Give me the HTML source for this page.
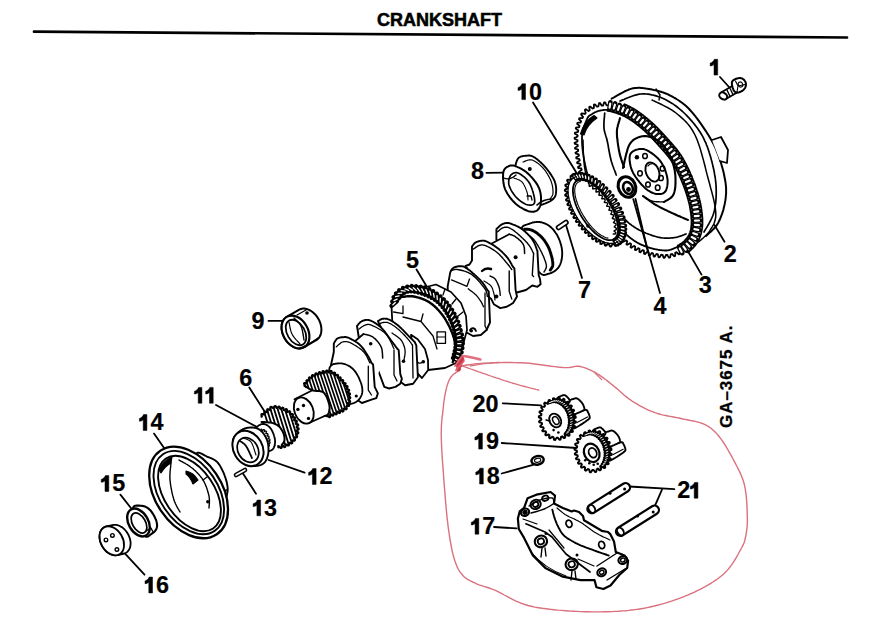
<!DOCTYPE html>
<html><head><meta charset="utf-8"><style>
html,body{margin:0;padding:0;background:#fff;}
svg{display:block;}
text{font-family:"Liberation Sans",sans-serif;font-weight:bold;fill:#000;}
</style></head><body>
<svg width="875" height="624" viewBox="0 0 875 624">
<rect width="875" height="624" fill="#fff"/>
<text x="377" y="26" font-size="18" stroke="#000" stroke-width="0.55">CRANKSHAFT</text>
<line x1="34" y1="31.7" x2="847" y2="37.5" stroke="#000" stroke-width="2.7" stroke-linecap="round"/>
<path d="M714,75.1 L717.7,75.1 L717.7,59.3 L714.3,59.3 C713.7,61.5 711.5,62.8 710.2,63.1 L710.2,65.9 C711.8,65.9 713.2,65.3 714,64.4 Z" fill="#000" stroke="#000" stroke-width="0.5" stroke-linejoin="round"/>
<path d="M521.8,99.6 L525.5,99.6 L525.5,83.8 L522.1,83.8 C521.5,86 519.3,87.3 518,87.6 L518,90.4 C519.6,90.4 521,89.8 521.8,88.9 Z" fill="#000" stroke="#000" stroke-width="0.5" stroke-linejoin="round"/>
<text x="529" y="99.6" font-size="23.4" stroke="#000" stroke-width="0.2">0</text>
<text x="471" y="179.4" font-size="23.4" stroke="#000" stroke-width="0.2">8</text>
<text x="723.7" y="261.6" font-size="23.4" stroke="#000" stroke-width="0.2">2</text>
<text x="698.7" y="293" font-size="23.4" stroke="#000" stroke-width="0.2">3</text>
<text x="653.5" y="314.2" font-size="23.4" stroke="#000" stroke-width="0.2">4</text>
<text x="406" y="268" font-size="23.4" stroke="#000" stroke-width="0.2">5</text>
<text x="577.9" y="298" font-size="23.4" stroke="#000" stroke-width="0.2">7</text>
<text x="251.4" y="328.6" font-size="23.4" stroke="#000" stroke-width="0.2">9</text>
<text x="239.3" y="385.6" font-size="23.4" stroke="#000" stroke-width="0.2">6</text>
<path d="M198.2,403.2 L201.9,403.2 L201.9,387.4 L198.5,387.4 C197.9,389.6 195.7,390.9 194.4,391.2 L194.4,394 C196,394 197.4,393.4 198.2,392.5 Z" fill="#000" stroke="#000" stroke-width="0.5" stroke-linejoin="round"/>
<path d="M209.5,403.2 L213.2,403.2 L213.2,387.4 L209.8,387.4 C209.2,389.6 207,390.9 205.7,391.2 L205.7,394 C207.3,394 208.7,393.4 209.5,392.5 Z" fill="#000" stroke="#000" stroke-width="0.5" stroke-linejoin="round"/>
<path d="M312.4,484.4 L316.1,484.4 L316.1,468.6 L312.7,468.6 C312.1,470.8 309.9,472.1 308.6,472.4 L308.6,475.2 C310.2,475.2 311.6,474.6 312.4,473.7 Z" fill="#000" stroke="#000" stroke-width="0.5" stroke-linejoin="round"/>
<text x="319.6" y="484.4" font-size="23.4" stroke="#000" stroke-width="0.2">2</text>
<path d="M256.9,515.8 L260.6,515.8 L260.6,500 L257.2,500 C256.6,502.2 254.4,503.5 253.1,503.8 L253.1,506.6 C254.7,506.6 256.1,506 256.9,505.1 Z" fill="#000" stroke="#000" stroke-width="0.5" stroke-linejoin="round"/>
<text x="264.1" y="515.8" font-size="23.4" stroke="#000" stroke-width="0.2">3</text>
<path d="M143.2,430.4 L146.9,430.4 L146.9,414.6 L143.5,414.6 C142.9,416.8 140.7,418.1 139.4,418.4 L139.4,421.2 C141,421.2 142.4,420.6 143.2,419.7 Z" fill="#000" stroke="#000" stroke-width="0.5" stroke-linejoin="round"/>
<text x="150.4" y="430.4" font-size="23.4" stroke="#000" stroke-width="0.2">4</text>
<path d="M105,491.4 L108.8,491.4 L108.8,475.6 L105.4,475.6 C104.7,477.8 102.5,479.1 101.2,479.4 L101.2,482.2 C102.8,482.2 104.3,481.6 105,480.7 Z" fill="#000" stroke="#000" stroke-width="0.5" stroke-linejoin="round"/>
<text x="112.2" y="491.4" font-size="23.4" stroke="#000" stroke-width="0.2">5</text>
<path d="M148.8,592.9 L152.5,592.9 L152.5,577.1 L149.1,577.1 C148.5,579.3 146.3,580.6 145,580.9 L145,583.7 C146.6,583.7 148,583.1 148.8,582.2 Z" fill="#000" stroke="#000" stroke-width="0.5" stroke-linejoin="round"/>
<text x="156" y="592.9" font-size="23.4" stroke="#000" stroke-width="0.2">6</text>
<text x="472.6" y="411.6" font-size="23.4" stroke="#000" stroke-width="0.2">2</text>
<text x="485.5" y="411.6" font-size="23.4" stroke="#000" stroke-width="0.2">0</text>
<path d="M478.7,449.1 L482.4,449.1 L482.4,433.3 L479,433.3 C478.4,435.5 476.2,436.8 474.9,437.1 L474.9,439.9 C476.5,439.9 477.9,439.3 478.7,438.4 Z" fill="#000" stroke="#000" stroke-width="0.5" stroke-linejoin="round"/>
<text x="485.9" y="449.1" font-size="23.4" stroke="#000" stroke-width="0.2">9</text>
<path d="M479.6,484 L483.3,484 L483.3,468.2 L479.9,468.2 C479.3,470.4 477.1,471.7 475.8,472 L475.8,474.8 C477.4,474.8 478.8,474.2 479.6,473.3 Z" fill="#000" stroke="#000" stroke-width="0.5" stroke-linejoin="round"/>
<text x="486.8" y="484" font-size="23.4" stroke="#000" stroke-width="0.2">8</text>
<path d="M475.1,534.2 L478.8,534.2 L478.8,518.4 L475.4,518.4 C474.8,520.6 472.6,521.9 471.3,522.2 L471.3,525 C472.9,525 474.3,524.4 475.1,523.5 Z" fill="#000" stroke="#000" stroke-width="0.5" stroke-linejoin="round"/>
<text x="482.3" y="534.2" font-size="23.4" stroke="#000" stroke-width="0.2">7</text>
<text x="677.2" y="498.2" font-size="23.4" stroke="#000" stroke-width="0.2">2</text>
<path d="M694.2,498.2 L697.9,498.2 L697.9,482.4 L694.5,482.4 C693.9,484.6 691.7,485.9 690.4,486.2 L690.4,489 C692,489 693.4,488.4 694.2,487.5 Z" fill="#000" stroke="#000" stroke-width="0.5" stroke-linejoin="round"/>
<text x="0" y="0" font-size="17" stroke="#000" stroke-width="0.3" transform="translate(731.7 428) rotate(-90)" letter-spacing="0.95">GA–3675 A.</text>
<line x1="720" y1="77" x2="729" y2="87" stroke="#000" stroke-width="1.8" stroke-linecap="round"/>
<line x1="533" y1="102.5" x2="576" y2="172" stroke="#000" stroke-width="1.8" stroke-linecap="round"/>
<line x1="486.4" y1="172.8" x2="505" y2="172.6" stroke="#000" stroke-width="1.8" stroke-linecap="round"/>
<line x1="714.4" y1="224.9" x2="724.5" y2="241.7" stroke="#000" stroke-width="1.8" stroke-linecap="round"/>
<line x1="687.4" y1="250.3" x2="701.5" y2="274.6" stroke="#000" stroke-width="1.8" stroke-linecap="round"/>
<line x1="633.3" y1="199.2" x2="660" y2="293" stroke="#000" stroke-width="1.8" stroke-linecap="round"/>
<line x1="635.5" y1="199" x2="648" y2="252" stroke="#000" stroke-width="1.8" stroke-linecap="round"/>
<line x1="416.5" y1="269.5" x2="427.6" y2="288" stroke="#000" stroke-width="1.8" stroke-linecap="round"/>
<line x1="566" y1="225" x2="582" y2="278" stroke="#000" stroke-width="1.8" stroke-linecap="round"/>
<line x1="268.5" y1="320.9" x2="283" y2="320.9" stroke="#000" stroke-width="1.8" stroke-linecap="round"/>
<line x1="249.3" y1="387.5" x2="266.5" y2="414.5" stroke="#000" stroke-width="1.8" stroke-linecap="round"/>
<line x1="216" y1="405" x2="257" y2="427" stroke="#000" stroke-width="1.8" stroke-linecap="round"/>
<line x1="268.6" y1="460" x2="304.6" y2="472.6" stroke="#000" stroke-width="1.8" stroke-linecap="round"/>
<line x1="241.7" y1="471.4" x2="256" y2="493.7" stroke="#000" stroke-width="1.8" stroke-linecap="round"/>
<line x1="154" y1="433.6" x2="165.3" y2="449.7" stroke="#000" stroke-width="1.8" stroke-linecap="round"/>
<line x1="120.4" y1="494.6" x2="131.7" y2="509" stroke="#000" stroke-width="1.8" stroke-linecap="round"/>
<line x1="125.3" y1="553.8" x2="144.5" y2="574.7" stroke="#000" stroke-width="1.8" stroke-linecap="round"/>
<line x1="502.7" y1="403.3" x2="541" y2="405.4" stroke="#000" stroke-width="1.8" stroke-linecap="round"/>
<line x1="501.7" y1="443" x2="576.7" y2="448" stroke="#000" stroke-width="1.8" stroke-linecap="round"/>
<line x1="501.7" y1="473.5" x2="533" y2="464.8" stroke="#000" stroke-width="1.8" stroke-linecap="round"/>
<line x1="494" y1="527" x2="516.6" y2="528.4" stroke="#000" stroke-width="1.8" stroke-linecap="round"/>
<line x1="674.3" y1="489.2" x2="629" y2="486.5" stroke="#000" stroke-width="1.8" stroke-linecap="round"/>
<line x1="662" y1="489.7" x2="655" y2="505.7" stroke="#000" stroke-width="1.8" stroke-linecap="round"/>
<path d="M611.6 98.7 L612.6 98.2 L613.8 97.5 L615.3 96.6 L616.9 95.7 L618.7 94.7 L620.5 93.6 L622.5 92.6 L624.4 91.5 L626.4 90.6 L628.3 89.8 L630.1 89.1 L631.8 88.6 L633.4 88.3 L635 88 L636.6 87.9 L638.1 87.8 L639.7 87.8 L641.2 87.9 L642.7 88.1 L644.3 88.2 L645.8 88.5 L647.4 88.7 L649 89 L650.6 89.3 L652.2 89.6 L653.9 90 L655.6 90.3 L657.3 90.8 L659 91.2 L660.7 91.7 L662.4 92.3 L664.1 92.8 L665.8 93.5 L667.5 94.2 L669.1 95 L670.8 95.8 L672.4 96.7 L674 97.6 L675.7 98.5 L677.2 99.5 L678.8 100.5 L680.4 101.6 L682 102.7 L683.6 104 L685.2 105.3 L686.8 106.8 L688.4 108.3 L690 110 L691.7 111.9 L693.4 113.9 L695.2 116.1 L697 118.4 L698.8 120.9 L700.6 123.3 L702.3 125.9 L704 128.4 L705.7 130.8 L707.2 133.2 L708.7 135.5 L710 137.7 L711.2 139.7 L712.3 141.7 L713.3 143.6 L714.2 145.4 L715.1 147.2 L715.9 149 L716.6 150.8 L717.3 152.6 L718 154.4 L718.7 156.2 L719.3 158.1 L720 160 L720.7 162 L721.3 164.1 L721.9 166.2 L722.5 168.3 L723.1 170.5 L723.6 172.6 L724.1 174.8 L724.5 176.9 L724.9 179 L725.3 181.1 L725.6 183.1 L725.8 185 L726 186.8 L726.1 188.6 L726.1 190.4 L726.1 192.1 L726.1 193.7 L725.9 195.4 L725.8 197 L725.6 198.6 L725.4 200.2 L725.1 201.8 L724.8 203.4 L724.5 205 L724.1 206.6 L723.7 208.3 L723.3 210 L722.8 211.7 L722.2 213.3 L721.6 215 L721 216.6 L720.4 218.2 L719.7 219.8 L719 221.2 L718.3 222.7 L717.5 224 L716.7 225.3 L715.7 226.5 L714.7 227.8 L713.6 229 L712.4 230.1 L711.3 231.2 L710.2 232.2 L709.1 233.1 L708.2 234 L707.3 234.8 L706.6 235.4 L706 236" fill="none" stroke="#000" stroke-width="2" stroke-linejoin="round" stroke-linecap="round" />
<path d="M620 101 L621 100.6 L622.3 100.1 L623.8 99.5 L625.4 98.8 L627.3 98 L629.2 97.2 L631.2 96.5 L633.2 95.8 L635.3 95.1 L637.3 94.6 L639.2 94.2 L641 94 L642.8 93.9 L644.5 93.9 L646.3 94 L648 94.2 L649.8 94.4 L651.6 94.8 L653.3 95.1 L655.1 95.6 L656.8 96.1 L658.6 96.7 L660.3 97.3 L662 98 L663.7 98.7 L665.4 99.6 L667.1 100.4 L668.8 101.4 L670.5 102.4 L672.2 103.4 L673.9 104.6 L675.5 105.7 L677.2 107 L678.8 108.3 L680.4 109.6 L682 111 L683.6 112.5 L685.2 114 L686.8 115.6 L688.4 117.3 L690 119.1 L691.6 120.9 L693.2 122.7 L694.7 124.6 L696.1 126.4 L697.5 128.3 L698.8 130.2 L700 132 L701.1 133.8 L702.2 135.6 L703.2 137.4 L704.1 139.3 L704.9 141.1 L705.8 142.9 L706.5 144.8 L707.3 146.7 L708 148.7 L708.7 150.7 L709.3 152.8 L710 155 L710.7 157.3 L711.3 159.6 L712 162.1 L712.6 164.6 L713.2 167.2 L713.8 169.8 L714.3 172.4 L714.7 175 L715.2 177.5 L715.5 180.1 L715.8 182.6 L716 185 L716.1 187.4 L716.2 189.8 L716.2 192.1 L716.2 194.5 L716.1 196.8 L716 199.1 L715.8 201.4 L715.6 203.6 L715.2 205.8 L714.9 207.9 L714.5 210 L714 212 L713.4 214 L712.7 216 L711.8 218 L710.9 219.9 L709.9 221.8 L708.9 223.7 L707.9 225.4 L706.9 227.1 L706 228.6 L705.2 229.9 L704.5 231.1 L704 232" fill="none" stroke="#000" stroke-width="1.7" stroke-linejoin="round" stroke-linecap="round" />
<path d="M652 100 L653.2 100.6 L654.7 101.3 L656.4 102.1 L658.4 103 L660.6 104 L662.8 105.1 L665.1 106.3 L667.5 107.5 L669.8 108.8 L672 110.2 L674.1 111.6 L676 113 L677.8 114.5 L679.5 115.9 L681.2 117.4 L682.9 118.9 L684.6 120.5 L686.2 122.1 L687.8 123.9 L689.3 125.8 L690.8 127.8 L692.2 130 L693.6 132.4 L695 135 L696.3 137.9 L697.6 141 L698.8 144.5 L700 148.1 L701.1 151.8 L702.2 155.7 L703.3 159.6 L704.3 163.5 L705.3 167.3 L706.2 171.1 L707.1 174.6 L708 178 L708.9 181.3 L709.8 184.5 L710.6 187.7 L711.5 190.9 L712.3 194 L713.1 197.1 L713.8 200.1 L714.4 202.9 L714.9 205.7 L715.3 208.3 L715.6 210.7 L715.8 213 L715.8 215.1 L715.7 217 L715.4 218.7 L715.1 220.3 L714.6 221.8 L714.1 223.2 L713.5 224.5 L712.9 225.7 L712.2 226.9 L711.5 228 L710.7 229.2 L710 230.4 L709.2 231.6 L708.3 232.8 L707.3 234 L706.2 235.1 L705 236.2 L703.9 237.3 L702.8 238.3 L701.7 239.2 L700.7 240.1 L699.8 240.8 L699.1 241.5 L698.5 242" fill="none" stroke="#000" stroke-width="1.5" stroke-linejoin="round" stroke-linecap="round" />
<path d="M712 140 L721 137 L728 150 L727 163 L720 161" fill="#fff" stroke="#000" stroke-width="1.8" stroke-linejoin="round" stroke-linecap="round" />
<path d="M656 89 L660 95 L659 100" fill="none" stroke="#000" stroke-width="1.4" stroke-linejoin="round" stroke-linecap="round" />
<path d="M680.3 250.5 L680 250.6 L679.8 250.7 L679.6 250.8 L679.6 251.5 L679.7 252.1 L679.7 252.7 L679.7 253.3 L679.7 254 L679.5 254.1 L679.3 254.2 L679 254.3 L678.8 254.4 L678.3 254 L677.9 253.5 L677.4 253.1 L677 252.6 L676.5 252.2 L676.3 252.3 L676.1 252.4 L675.9 252.5 L675.7 252.6 L675.4 252.7 L675.2 252.8 L675.2 253.4 L675.2 254 L675.2 254.6 L675.2 255.3 L675.2 255.9 L675 256 L674.7 256.1 L674.5 256.2 L674.2 256.3 L673.8 255.8 L673.3 255.4 L672.9 254.9 L672.5 254.4 L672.1 254 L671.9 254 L671.6 254.1 L671.4 254.2 L671.2 254.3 L670.9 254.3 L670.7 254.4 L670.6 255 L670.5 255.6 L670.4 256.3 L670.2 256.9 L670 257.5 L669.8 257.6 L669.5 257.6 L669.3 257.6 L669 257.7 L668.6 257.1 L668.3 256.6 L668 256.1 L667.7 255.5 L667.4 254.9 L667.1 255 L666.9 255 L666.7 255 L666.4 255 L666.2 255 L665.9 255 L665.7 255.6 L665.5 256.2 L665.2 256.7 L664.9 257.3 L664.6 257.9 L664.4 257.9 L664.1 257.9 L663.8 257.8 L663.6 257.8 L663.4 257.2 L663.2 256.6 L663 256 L662.8 255.4 L662.6 254.9 L662.4 254.8 L662.1 254.8 L661.9 254.8 L661.6 254.8 L661.4 254.7 L661.2 254.7 L660.9 255.3 L660.6 255.8 L660.2 256.3 L659.9 256.9 L659.6 257.4 L659.3 257.4 L659.1 257.4 L658.9 257.3 L658.6 257.3 L658.4 256.7 L658.3 256.1 L658.1 255.5 L658 254.9 L657.8 254.2 L657.6 254.2 L657.4 254.2 L657.1 254.1 L656.9 254.1 L656.6 254 L656.4 254 L656.1 254.5 L655.7 255.1 L655.4 255.6 L655 256.1 L654.7 256.6 L654.4 256.6 L654.2 256.5 L653.9 256.5 L653.7 256.4 L653.6 255.8 L653.5 255.2 L653.3 254.6 L653.2 254 L653.1 253.3 L652.9 253.3 L652.6 253.2 L652.4 253.2 L652.2 253.1 L651.9 253.1 L651.7 253 L651.3 253.5 L651 254 L650.6 254.5 L650.2 255 L649.8 255.5 L649.6 255.5 L649.3 255.4 L649.1 255.3 L648.8 255.3 L648.8 254.6 L648.7 254 L648.6 253.4 L648.5 252.8 L648.5 252.1 L648.2 252.1 L648 252 L647.8 251.9 L647.5 251.9 L647.3 251.8 L647.1 251.7 L646.7 252.2 L646.3 252.7 L645.8 253.1 L645.4 253.6 L645 254.1 L644.8 254 L644.5 253.9 L644.3 253.8 L644 253.7 L644 253.1 L644 252.5 L644 251.8 L643.9 251.2 L643.9 250.6 L643.7 250.5 L643.5 250.4 L643.2 250.3 L643 250.2 L642.8 250.2 L642.6 250.1 L642.1 250.5 L641.7 251 L641.3 251.4 L640.8 251.9 L640.4 252.3 L640.1 252.2 L639.9 252.1 L639.7 252 L639.4 251.9 L639.4 251.3 L639.4 250.6 L639.4 250 L639.5 249.4 L639.5 248.8 L639.3 248.7 L639 248.6 L638.8 248.5 L638.6 248.4 L638.4 248.2 L638.2 248.1 L637.7 248.6 L637.2 249 L636.8 249.4 L636.3 249.8 L635.8 250.2 L635.6 250.1 L635.3 250 L635.1 249.8 L634.9 249.7 L634.9 249.1 L635 248.5 L635.1 247.8 L635.1 247.2 L635.2 246.6 L635 246.5 L634.8 246.3 L634.6 246.2 L634.4 246.1 L634.2 246 L634 245.9 L633.5 246.2 L632.9 246.6 L632.4 247 L631.9 247.3 L631.4 247.7 L631.2 247.5 L631 247.4 L630.7 247.3 L630.5 247.1 L630.7 246.5 L630.8 245.9 L630.9 245.3 L631 244.7 L631.1 244 L630.9 243.9 L630.7 243.8 L630.5 243.6 L630.3 243.5 L630.1 243.4 L629.9 243.2 L629.4 243.6 L628.9 243.9 L628.3 244.2 L627.8 244.5 L627.2 244.8 L627 244.7 L626.9 244.6 L626.7 244.4 L626.4 244.2 L626.6 243.6 L626.8 243 L626.9 242.4 L627.1 241.8 L627.3 241.2 L627.1 241.1 L626.9 240.9 L626.7 240.8 L626.5 240.6 L626.3 240.5 L626.1 240.3 L625.6 240.6 L625 240.9 L624.5 241.2 L623.9 241.5 L623.3 241.7 L623.2 241.6 L623 241.4 L622.8 241.3 L622.6 241.1 L622.8 240.5 L623 239.9 L623.2 239.3 L623.4 238.7 L623.6 238.1 L623.4 238 L623.2 237.8 L623 237.6 L622.9 237.5 L622.7 237.3 L622.5 237.2 L621.9 237.4 L621.4 237.7 L620.8 238 L620.2 238.2 L619.6 238.5 L619.5 238.3 L619.3 238.2 L619.1 238 L618.9 237.8 L619.2 237.2 L619.4 236.6 L619.6 236.1 L619.8 235.5 L620 234.9 L619.9 234.7 L619.7 234.5 L619.5 234.4 L619.3 234.2 L619.2 234.1 L619 233.9 L618.4 234.1 L617.8 234.4 L617.3 234.6 L616.7 234.9 L616.1 235.1 L615.9 235 L615.8 234.8 L615.6 234.6 L615.4 234.4 L615.6 233.9 L615.9 233.3 L616.1 232.7 L616.4 232.1 L616.6 231.5 L616.4 231.4 L616.3 231.2 L616.1 231 L615.9 230.8 L615.7 230.7 L615.6 230.5 L615 230.7 L614.4 231 L613.8 231.2 L613.2 231.4 L612.7 231.7 L612.5 231.5 L612.3 231.3 L612.2 231.1 L612 231 L612.2 230.4 L612.5 229.8 L612.7 229.2 L613 228.7 L613.2 228.1 L613.1 227.9 L612.9 227.7 L612.7 227.6 L612.6 227.4 L612.4 227.2 L612.3 227 L611.7 227.3 L611.1 227.5 L610.5 227.7 L609.9 227.9 L609.3 228.1 L609.1 228 L609 227.8 L608.8 227.6 L608.6 227.4 L608.9 226.8 L609.2 226.3 L609.4 225.7 L609.7 225.1 L610 224.6 L609.8 224.4 L609.7 224.2 L609.5 224 L609.3 223.9 L609.2 223.7 L609 223.5 L608.4 223.7 L607.8 223.9 L607.2 224.1 L606.6 224.3 L606 224.5 L605.9 224.3 L605.7 224.1 L605.6 224 L605.4 223.8 L605.7 223.2 L606 222.6 L606.2 222.1 L606.5 221.5 L606.8 221 L606.7 220.8 L606.5 220.6 L606.3 220.4 L606.2 220.2 L606 220 L605.9 219.9 L605.3 220 L604.7 220.2 L604.1 220.4 L603.5 220.6 L602.9 220.8 L602.7 220.6 L602.6 220.4 L602.4 220.2 L602.3 220 L602.6 219.5 L602.9 218.9 L603.1 218.4 L603.4 217.8 L603.7 217.3 L603.6 217.1 L603.4 216.9 L603.3 216.7 L603.1 216.5 L603 216.3 L602.8 216.2 L602.2 216.3 L601.6 216.5 L601 216.7 L600.4 216.9 L599.8 217 L599.7 216.9 L599.5 216.7 L599.3 216.5 L599.2 216.3 L599.5 215.7 L599.8 215.2 L600.1 214.6 L600.4 214.1 L600.7 213.5 L600.6 213.3 L600.4 213.1 L600.3 213 L600.1 212.8 L600 212.6 L599.8 212.4 L599.2 212.5 L598.6 212.7 L598 212.9 L597.4 213 L596.8 213.2 L596.7 213 L596.5 212.8 L596.4 212.6 L596.2 212.4 L596.5 211.8 L596.9 211.3 L597.2 210.7 L597.5 210.2 L597.9 209.7 L597.7 209.5 L597.6 209.3 L597.4 209.1 L597.3 208.9 L597.2 208.7 L597 208.5 L596.4 208.6 L595.8 208.7 L595.2 208.9 L594.6 209 L593.9 209.1 L593.8 208.9 L593.7 208.7 L593.5 208.5 L593.4 208.3 L593.7 207.7 L594.1 207.2 L594.5 206.7 L594.8 206.2 L595.2 205.7 L595.1 205.5 L594.9 205.3 L594.8 205.1 L594.7 204.9 L594.6 204.7 L594.4 204.5 L593.8 204.5 L593.2 204.6 L592.6 204.7 L591.9 204.8 L591.3 204.9 L591.2 204.7 L591.1 204.4 L591 204.2 L590.8 204 L591.2 203.5 L591.6 203 L592 202.5 L592.4 202 L592.8 201.5 L592.7 201.3 L592.6 201.1 L592.4 200.9 L592.3 200.7 L592.2 200.5 L592.1 200.3 L591.5 200.3 L590.9 200.4 L590.2 200.4 L589.6 200.4 L589 200.4 L588.9 200.2 L588.8 200 L588.7 199.8 L588.5 199.6 L589 199.1 L589.4 198.6 L589.8 198.1 L590.2 197.7 L590.6 197.2 L590.5 197 L590.4 196.8 L590.3 196.6 L590.2 196.4 L590.2 196.1 L590.1 195.9 L589.4 195.9 L588.8 195.9 L588.2 195.9 L587.5 196 L586.9 196 L586.8 195.7 L586.7 195.5 L586.6 195.2 L586.5 195 L587 194.6 L587.4 194.1 L587.9 193.7 L588.3 193.3 L588.8 192.8 L588.7 192.6 L588.6 192.4 L588.5 192.1 L588.4 191.9 L588.3 191.7 L588.2 191.5 L587.6 191.5 L587 191.4 L586.3 191.4 L585.7 191.4 L585.1 191.4 L585 191.1 L584.9 190.9 L584.8 190.7 L584.8 190.5 L585.2 190 L585.7 189.6 L586.1 189.2 L586.6 188.7 L587.1 188.3 L587 188.1 L586.9 187.9 L586.8 187.6 L586.7 187.4 L586.7 187.2 L586.6 187 L586 186.9 L585.3 186.9 L584.7 186.8 L584.1 186.8 L583.5 186.8 L583.4 186.5 L583.3 186.3 L583.2 186 L583.1 185.8 L583.6 185.4 L584.1 185 L584.6 184.6 L585.1 184.2 L585.5 183.8 L585.5 183.5 L585.4 183.3 L585.3 183.1 L585.2 182.9 L585.2 182.6 L585.1 182.4 L584.5 182.3 L583.8 182.3 L583.2 182.2 L582.6 182.2 L582 182.1 L581.9 181.9 L581.8 181.6 L581.8 181.4 L581.7 181.2 L582.2 180.8 L582.7 180.4 L583.1 180 L583.6 179.6 L584.1 179.2 L584.1 178.9 L584 178.7 L583.9 178.5 L583.9 178.3 L583.8 178 L583.7 177.8 L583.1 177.7 L582.5 177.7 L581.9 177.6 L581.2 177.5 L580.6 177.4 L580.5 177.2 L580.5 176.9 L580.4 176.7 L580.4 176.5 L580.8 176.1 L581.3 175.7 L581.8 175.3 L582.3 174.9 L582.8 174.6 L582.8 174.3 L582.7 174.1 L582.7 173.9 L582.6 173.6 L582.5 173.4 L582.5 173.2 L581.9 173.1 L581.2 173 L580.6 172.9 L580 172.8 L579.4 172.7 L579.3 172.5 L579.3 172.2 L579.2 172 L579.1 171.8 L579.6 171.4 L580.1 171 L580.7 170.6 L581.2 170.3 L581.7 169.9 L581.6 169.7 L581.6 169.4 L581.5 169.2 L581.4 169 L581.4 168.7 L581.3 168.5 L580.7 168.4 L580.1 168.3 L579.5 168.2 L578.9 168.1 L578.2 168 L578.2 167.7 L578.1 167.5 L578.1 167.2 L578 167 L578.5 166.6 L579.1 166.3 L579.6 165.9 L580.1 165.6 L580.6 165.2 L580.6 165 L580.5 164.7 L580.5 164.5 L580.4 164.3 L580.4 164 L580.3 163.8 L579.7 163.7 L579.1 163.6 L578.5 163.4 L577.9 163.3 L577.2 163.2 L577.2 162.9 L577.2 162.7 L577.1 162.5 L577.1 162.2 L577.6 161.9 L578.1 161.5 L578.6 161.2 L579.2 160.8 L579.7 160.5 L579.6 160.3 L579.6 160 L579.6 159.8 L579.5 159.6 L579.5 159.3 L579.4 159.1 L578.8 158.9 L578.2 158.8 L577.6 158.7 L577 158.5 L576.4 158.4 L576.3 158.1 L576.3 157.9 L576.3 157.7 L576.2 157.4 L576.8 157.1 L577.3 156.7 L577.8 156.4 L578.4 156.1 L578.9 155.8 L578.9 155.5 L578.8 155.3 L578.8 155.1 L578.8 154.8 L578.7 154.6 L578.7 154.3 L578.1 154.2 L577.5 154 L576.9 153.9 L576.3 153.7 L575.6 153.5 L575.6 153.3 L575.6 153 L575.6 152.8 L575.5 152.6 L576.1 152.3 L576.6 151.9 L577.2 151.6 L577.7 151.3 L578.2 151 L578.2 150.8 L578.2 150.5 L578.2 150.3 L578.1 150.1 L578.1 149.8 L578.1 149.6 L577.5 149.4 L576.9 149.2 L576.3 149 L575.7 148.8 L575.1 148.7 L575 148.4 L575 148.2 L575 148 L575 147.7 L575.5 147.4 L576.1 147.1 L576.6 146.8 L577.2 146.5 L577.8 146.2 L577.7 146 L577.7 145.7 L577.7 145.5 L577.7 145.3 L577.7 145 L577.7 144.8 L577.1 144.6 L576.5 144.4 L575.9 144.2 L575.3 144 L574.7 143.7 L574.7 143.5 L574.7 143.2 L574.7 143 L574.6 142.8 L575.2 142.5 L575.8 142.2 L576.3 142 L576.9 141.7 L577.5 141.4 L577.5 141.2 L577.5 141 L577.5 140.7 L577.5 140.5 L577.5 140.2 L577.5 140 L576.9 139.8 L576.3 139.5 L575.7 139.3 L575.1 139 L574.6 138.8 L574.6 138.5 L574.6 138.2 L574.6 138 L574.6 137.8 L575.2 137.5 L575.8 137.3 L576.3 137.1 L576.9 136.8 L577.5 136.6 L577.5 136.4 L577.6 136.2 L577.6 135.9 L577.6 135.7 L577.6 135.4 L577.6 135.2 L577.1 134.9 L576.5 134.6 L576 134.3 L575.4 134 L574.9 133.7 L574.9 133.4 L574.9 133.1 L575 132.9 L575 132.7 L575.6 132.5 L576.2 132.3 L576.8 132.2 L577.4 132 L578.1 131.9 L578.1 131.6 L578.1 131.4 L578.2 131.2 L578.2 130.9 L578.3 130.7 L578.3 130.4 L577.8 130.1 L577.3 129.7 L576.8 129.4 L576.3 129 L575.8 128.6 L575.8 128.4 L575.9 128.1 L575.9 127.9 L576 127.7 L576.6 127.5 L577.2 127.4 L577.9 127.3 L578.5 127.3 L579.1 127.2 L579.2 126.9 L579.2 126.7 L579.3 126.5 L579.4 126.3 L579.5 126 L579.5 125.8 L579 125.4 L578.6 125 L578.1 124.6 L577.6 124.2 L577.1 123.8 L577.2 123.5 L577.3 123.2 L577.4 123 L577.5 122.8 L578.1 122.7 L578.7 122.7 L579.4 122.7 L580 122.6 L580.6 122.6 L580.7 122.4 L580.8 122.2 L580.9 121.9 L581 121.7 L581 121.5 L581.1 121.3 L580.7 120.8 L580.2 120.4 L579.8 119.9 L579.4 119.5 L578.9 119 L579 118.8 L579.1 118.6 L579.2 118.3 L579.3 118.1 L579.9 118.1 L580.6 118.1 L581.2 118.2 L581.8 118.2 L582.5 118.2 L582.6 118 L582.7 117.7 L582.8 117.5 L582.9 117.3 L583 117.1 L583.1 116.9 L582.6 116.4 L582.2 115.9 L581.8 115.5 L581.5 114.9 L581.1 114.4 L581.2 114.1 L581.3 113.9 L581.5 113.7 L581.6 113.5 L582.3 113.5 L582.9 113.6 L583.6 113.7 L584.2 113.8 L584.8 114 L584.9 113.8 L585.1 113.6 L585.2 113.4 L585.4 113.3 L585.6 113.1 L585.7 112.9 L585.5 112.3 L585.3 111.7 L585.2 111.1 L585 110.5 L584.9 109.8 L585.1 109.7 L585.4 109.5 L585.6 109.4 L585.9 109.2 L586.4 109.5 L586.9 109.9 L587.4 110.2 L587.9 110.6 L588.5 111 L588.7 110.8 L588.9 110.7 L589.1 110.6 L589.3 110.5 L589.5 110.3 L589.7 110.2 L589.6 109.6 L589.5 109 L589.4 108.3 L589.3 107.7 L589.2 107.1 L589.4 106.9 L589.6 106.8 L589.9 106.7 L590.1 106.6 L590.6 106.9 L591.1 107.3 L591.6 107.7 L592.1 108.1 L592.6 108.5 L592.8 108.4 L593 108.3 L593.2 108.2 L593.5 108.1 L593.7 108 L593.9 107.9 L593.9 107.3 L593.9 106.6 L593.9 106 L593.9 105.4 L593.9 104.7 L594.2 104.6 L594.4 104.6 L594.7 104.5 L594.9 104.4 L595.4 104.8 L595.8 105.3 L596.2 105.8 L596.6 106.2 L597 106.7 L597.3 106.7 L597.5 106.6 L597.7 106.5 L598 106.5 L598.2 106.4 L598.4 106.3 L598.5 105.7 L598.6 105.1 L598.8 104.5 L598.9 103.9 L599 103.2 L599.3 103.2 L599.6 103.1 L599.8 103.1 L600 103 L600.4 103.6 L600.7 104.1 L601.1 104.6 L601.4 105.2 L601.7 105.7 L602 105.7 L602.2 105.6 L602.4 105.6 L602.7 105.6 L602.9 105.5 L603.2 105.5 L603.3 104.9 L603.5 104.3 L603.7 103.7 L603.9 103.1 L604.1 102.5 L604.4 102.5 L604.6 102.5 L604.9 102.4 L605.2 102.4 L605.5 103 L605.8 103.6 L606 104.1 L606.3 104.7 L606.5 105.3 L606.7 105.3 L607 105.3 L607.2 105.3 L607.5 105.3 L607.7 105.4 L607.9 105.4" fill="none" stroke="#000" stroke-width="1.8" stroke-linejoin="round" stroke-linecap="round" />
<path d="M624.4 104.2 L624.9 104.4 L625.4 104.7 L625.9 104.9 L626.4 105.1 L626.9 105.3 L627.4 105.5 L627.9 105.8 L628.4 106 L628.8 106.2 L629.4 106.4 L629.8 106.7 L630.4 106.9 L630.8 107.2 L631.2 107.4 L631.8 107.7 L632.2 108 L632.8 108.3 L633.2 108.5 L633.7 108.8 L634.2 109.1 L634.6 109.3 L635 109.6 L635.6 109.9 L636 110.2 L636.5 110.5 L636.9 110.8 L637.3 111.1 L637.8 111.4 L638.2 111.7 L638.6 112 L639.1 112.3 L639.5 112.6 L639.9 112.9 L640.4 113.2 L640.8 113.5 L641.2 113.8 L641.6 114.2 L642 114.5 L642.4 114.8 L642.9 115.1 L643.3 115.4 L643.7 115.7 L644.1 116.1 L644.5 116.4 L644.9 116.7 L645.3 117 L645.7 117.4 L646.1 117.7 L646.5 118 L646.9 118.3 L647.3 118.7 L647.7 119 L648.1 119.3 L648.5 119.7 L648.9 120 L649.3 120.3 L649.7 120.7 L650.1 121 L650.4 121.3 L650.8 121.7 L651.2 122 L651.6 122.3 L652 122.7 L652.4 123 L652.8 123.4 L653.2 123.8 L653.6 124.1 L654 124.5 L654.3 124.8 L654.7 125.2 L655.1 125.6 L655.5 125.9 L655.8 126.3 L656.2 126.7 L656.6 127 L657 127.4 L657.3 127.8 L657.7 128.1 L658.1 128.5 L658.4 128.9 L658.8 129.2 L659.1 129.6 L659.5 130 L659.9 130.4 L660.2 130.8 L660.5 131.1 L660.9 131.5 L661.2 131.9 L661.6 132.2 L661.9 132.6 L662.3 133 L662.6 133.4 L663 133.8 L663.3 134.1 L663.7 134.5 L664 134.9 L664.3 135.3 L664.7 135.6 L665 136 L665.3 136.4 L665.7 136.7 L666 137.1 L666.3 137.5 L666.7 137.9 L667 138.2 L667.3 138.6 L667.7 139 L668 139.3 L668.3 139.7 L668.7 140.1 L669 140.5 L669.4 140.8 L669.7 141.2 L670 141.6 L670.4 142 L670.7 142.3 L671 142.7 L671.4 143.1 L671.7 143.5 L672 143.9 L672.4 144.3 L672.7 144.6 L673.1 145 L673.4 145.4 L673.7 145.8 L674.1 146.2 L674.4 146.6 L674.8 147 L675.1 147.4 L675.4 147.8 L675.7 148.2 L676.1 148.6 L676.4 149 L676.7 149.4 L677.1 149.9 L677.4 150.3 L677.7 150.7 L678 151.1 L678.3 151.5 L678.7 152 L679 152.4 L679.3 152.8 L679.6 153.3 L679.9 153.7 L680.2 154.2 L680.5 154.6 L680.8 155.1 L681.1 155.5 L681.4 156 L681.7 156.4 L682 156.9 L682.3 157.3 L682.5 157.8 L682.8 158.3 L683.1 158.7 L683.4 159.2 L683.6 159.6 L683.9 160.1 L684.2 160.6 L684.4 161.1 L684.7 161.5 L684.9 161.9 L685.2 162.4 L685.4 162.9 L685.7 163.4 L685.9 163.8 L686.1 164.3 L686.4 164.7 L686.6 165.2 L686.8 165.7 L687.1 166.2 L687.3 166.6 L687.5 167.1 L687.7 167.5 L687.9 168 L688.2 168.5 L688.4 168.9 L688.6 169.4 L688.8 169.8 L689 170.3 L689.3 170.8 L689.5 171.2 L689.7 171.7 L689.9 172.2 L690.1 172.6 L690.3 173.1 L690.5 173.6 L690.7 174.1 L690.9 174.5 L691.2 175 L691.4 175.5 L691.6 176 L691.8 176.4 L692 176.9 L692.2 177.4 L692.3 177.8 L692.5 178.3 L692.7 178.8 L692.9 179.3 L693.1 179.8 L693.3 180.2 L693.5 180.7 L693.7 181.2 L693.9 181.7 L694 182.2 L694.2 182.7 L694.4 183.2 L694.6 183.6 L694.8 184.1 L694.9 184.6 L695.1 185.1 L695.3 185.6 L695.5 186.1 L695.6 186.6 L695.8 187 L696 187.5 L696.1 188 L696.3 188.5 L696.5 189 L696.6 189.5 L696.8 190 L696.9 190.5 L697.1 191 L697.2 191.4 L697.4 192 L697.6 192.4 L697.7 193 L697.9 193.4 L698 194 L698.2 194.4 L698.3 195 L698.4 195.4 L698.6 195.9 L698.7 196.4 L698.9 196.9 L699 197.5 L699.1 197.9 L699.3 198.5 L699.4 199 L699.5 199.5 L699.6 200 L699.8 200.5 L699.9 201 L700 201.5 L700.1 202.1 L700.2 202.5 L700.3 203.1 L700.4 203.6 L700.6 204.1 L700.7 204.6 L700.8 205.2 L700.8 205.7 L700.9 206.2 L701 206.7 L701.1 207.3 L701.2 207.7 L701.3 208.2 L701.4 208.8 L701.4 209.3 L701.5 209.8 L701.6 210.3 L701.7 210.9 L701.7 211.4 L701.8 211.9 L701.9 212.4 L701.9 213 L702 213.5 L702.1 214 L702.1 214.5 L702.2 215 L702.2 215.6 L702.3 216.1 L702.3 216.6 L702.4 217.1 L702.4 217.7 L702.4 218.2 L702.5 218.8 L702.5 219.3 L702.5 219.9 L702.5 220.4 L702.5 220.9 L702.5 221.5 L702.5 222 L702.5 222.6 L702.5 223.3 L702.5 223.8 L702.5 224.4 L702.5 224.9 L702.4 225.5 L702.4 226 L702.3 226.6 L702.3 227.1 L702.2 227.7 L702.1 228.2 L702 228.9 L701.9 229.5 L701.9 230 L701.7 230.6 L701.6 231.1 L701.5 231.7 L701.4 232.2 L701.3 232.8 L701.1 233.4 L701 233.9 L700.8 234.5 L700.6 235.1 L700.5 235.6 L700.2 236.2 L700.1 236.6 L699.9 237.2 L699.6 237.8 L699.4 238.3 L699.2 238.9 L698.9 239.5 L698.7 239.9 L698.4 240.5 L698.1 241.1 L697.8 241.6 L697.5 242.2 L697.1 242.7 L696.9 243.2 L696.5 243.7 L696.1 244.2 L695.7 244.8 L695.4 245.2 L695 245.7 L694.6 246.2 L694.2 246.5 L693.8 247 L693.4 247.5 L693.1 247.8 L692.6 248.3 L692.2 248.7 L691.7 249.1 L691.4 249.5 L690.9 249.9 L690.5 250.3 L690.1 250.6 L689.6 251 L689.1 251.4 L688.7 251.7 L688.2 252.1 L687.7 252.4" fill="none" stroke="#000" stroke-width="1.7" stroke-linejoin="round" stroke-linecap="round" />
<path d="M607.5 110.8 L608 110.9 L608.3 110.9 L608.6 111 L609.1 111 L609.4 111.1 L609.9 111.2 L610.2 111.2 L610.7 111.4 L611.1 111.4 L611.6 111.6 L612 111.7 L612.4 111.8 L612.8 111.9 L613.3 112 L613.7 112.1 L614.2 112.3 L614.6 112.4 L615.1 112.6 L615.5 112.7 L615.9 112.8 L616.4 113 L616.8 113.1 L617.3 113.3 L617.7 113.4 L618.1 113.6 L618.6 113.8 L619 113.9 L619.4 114.1 L619.8 114.2 L620.3 114.4 L620.8 114.6 L621.1 114.8 L621.6 115 L621.9 115.1 L622.4 115.3 L622.9 115.5 L623.2 115.7 L623.7 115.9 L624.1 116.1 L624.5 116.3 L624.9 116.5 L625.3 116.7 L625.7 116.9 L626.1 117.2 L626.5 117.3 L626.9 117.6 L627.2 117.8 L627.7 118 L628.1 118.3 L628.4 118.5 L628.8 118.7 L629.3 119 L629.6 119.2 L630 119.5 L630.4 119.7 L630.8 120 L631.2 120.2 L631.5 120.5 L631.9 120.7 L632.4 121 L632.7 121.3 L633.1 121.6 L633.5 121.8 L633.9 122.1 L634.3 122.4 L634.7 122.7 L635 122.9 L635.4 123.2 L635.8 123.6 L636.1 123.8 L636.5 124.1 L636.9 124.4 L637.3 124.7 L637.7 125 L638 125.3 L638.4 125.6 L638.8 125.9 L639.1 126.2 L639.5 126.5 L639.9 126.8 L640.3 127.1 L640.7 127.4 L641 127.8 L641.4 128.1 L641.8 128.4 L642.1 128.7 L642.5 129 L642.9 129.3 L643.3 129.7 L643.6 130 L644 130.3 L644.4 130.6 L644.7 130.9 L645.1 131.2 L645.4 131.5 L645.7 131.9 L646.1 132.2 L646.4 132.5 L646.8 132.8 L647.1 133.2 L647.5 133.5 L647.8 133.8 L648.2 134.2 L648.5 134.5 L648.8 134.8 L649.1 135.1 L649.5 135.5 L649.8 135.9 L650.2 136.2 L650.5 136.5 L650.9 136.9 L651.2 137.2 L651.5 137.6 L651.8 137.9 L652.2 138.3 L652.5 138.7 L652.8 139 L653.2 139.4 L653.5 139.7 L653.8 140.1 L654.2 140.4 L654.5 140.8 L654.8 141.2 L655.2 141.5 L655.5 141.9 L655.8 142.3 L656.2 142.6 L656.5 143 L656.8 143.4 L657.2 143.7 L657.5 144.1 L657.8 144.5 L658.2 144.8 L658.5 145.2 L658.8 145.6 L659.2 146 L659.5 146.3 L659.8 146.7 L660.2 147.1 L660.5 147.5 L660.8 147.8 L661.2 148.2 L661.5 148.6 L661.8 148.9 L662.2 149.3 L662.5 149.7 L662.8 150 L663.1 150.4 L663.5 150.8 L663.8 151.1 L664.1 151.5 L664.4 151.9 L664.7 152.2 L665.1 152.6 L665.4 153 L665.7 153.3 L666 153.7 L666.3 154 L666.6 154.4 L666.9 154.8 L667.2 155.2 L667.5 155.5 L667.8 155.9 L668.1 156.3 L668.4 156.6 L668.7 157 L669 157.4 L669.2 157.7 L669.5 158.1 L669.8 158.5 L670.1 158.9 L670.4 159.3 L670.6 159.6 L670.9 160 L671.1 160.4 L671.4 160.8 L671.6 161.1 L671.9 161.5 L672.1 161.9 L672.4 162.3 L672.7 162.7 L672.9 163.1 L673.2 163.5 L673.4 163.9 L673.6 164.3 L673.8 164.7 L674.1 165.1 L674.3 165.5 L674.5 165.9 L674.8 166.3 L675 166.7 L675.2 167.2 L675.4 167.6 L675.7 168 L675.9 168.4 L676.1 168.8 L676.3 169.2 L676.5 169.7 L676.7 170.1 L677 170.6 L677.2 171 L677.4 171.4 L677.6 171.9 L677.8 172.3 L678 172.7 L678.2 173.2 L678.4 173.6 L678.7 174.1 L678.9 174.5 L679.1 174.9 L679.3 175.4 L679.5 175.8 L679.7 176.3 L679.9 176.7 L680.1 177.1 L680.3 177.6 L680.5 178 L680.7 178.5 L680.9 178.9 L681 179.3 L681.2 179.8 L681.4 180.2 L681.6 180.7 L681.8 181.1 L682 181.6 L682.2 182 L682.3 182.5 L682.5 182.9 L682.7 183.4 L682.9 183.8 L683.1 184.3 L683.2 184.7 L683.4 185.2 L683.6 185.6 L683.8 186.1 L683.9 186.5 L684.1 187 L684.3 187.5 L684.4 187.9 L684.6 188.4 L684.8 188.8 L684.9 189.3 L685.1 189.7 L685.2 190.2 L685.4 190.6 L685.6 191.1 L685.7 191.5 L685.9 192 L686 192.5 L686.2 192.9 L686.3 193.4 L686.5 193.8 L686.6 194.3 L686.8 194.8 L686.9 195.2 L687 195.7 L687.2 196.1 L687.3 196.6 L687.5 197 L687.6 197.5 L687.7 198 L687.9 198.4 L688 198.9 L688.1 199.4 L688.2 199.8 L688.4 200.3 L688.5 200.8 L688.6 201.2 L688.7 201.7 L688.8 202.1 L689 202.6 L689.1 203 L689.2 203.5 L689.3 204 L689.4 204.4 L689.5 204.9 L689.6 205.3 L689.7 205.8 L689.8 206.2 L689.9 206.7 L689.9 207.2 L690 207.7 L690.1 208.1 L690.2 208.6 L690.3 209 L690.3 209.5 L690.4 210 L690.5 210.5 L690.6 211 L690.6 211.4 L690.7 211.9 L690.8 212.3 L690.8 212.8 L690.9 213.3 L691 213.8 L691 214.2 L691.1 214.7 L691.1 215.2 L691.2 215.6 L691.2 216.1 L691.3 216.6 L691.3 217.1 L691.3 217.5 L691.4 218 L691.4 218.4 L691.4 218.9 L691.5 219.3 L691.5 219.8 L691.5 220.2 L691.5 220.7 L691.5 221.2 L691.5 221.6 L691.5 222.1 L691.5 222.5 L691.5 222.9 L691.5 223.4 L691.5 223.7 L691.5 224.2 L691.5 224.6 L691.4 225.1 L691.4 225.5 L691.3 226 L691.3 226.3 L691.2 226.8 L691.2 227.2 L691.1 227.6 L691 228.1 L691 228.4 L690.9 228.9 L690.8 229.3 L690.7 229.8 L690.6 230.1 L690.5 230.5 L690.4 231 L690.3 231.3 L690.1 231.7 L690 232.2 L689.9 232.5 L689.7 233 L689.6 233.3 L689.4 233.7 L689.3 234.1 L689.1 234.4 L689 234.8 L688.8 235.2 L688.6 235.5 L688.5 235.8 L688.2 236.2 L688.1 236.5 L687.9 236.8 L687.6 237.2 L687.4 237.5 L687.2 237.7 L687 238 L686.7 238.4 L686.5 238.7 L686.3 238.9 L685.9 239.3 L685.7 239.6 L685.4 239.9 L685.1 240.2 L684.8 240.5 L684.6 240.8 L684.3 241.1 L683.9 241.4 L683.6 241.7 L683.3 241.9 L682.9 242.2 L682.7 242.5 L682.4 242.7 L682 243 L681.7 243.2 L681.4 243.4 L681.1 243.6 L680.7 243.9 L680.3 244.1 L680 244.3 L679.6 244.6 L679.3 244.8 L678.9 245 L678.5 245.2 L678.1 245.4 L677.8 245.6 L677.8 246.7 L677.4 246.9 L677 247.1 L676.6 247.3 L676.2 247.5 L675.8 247.6 L675.3 247.8 L674.9 248 L674.4 248.2 L673.9 248.4 L673.5 248.6 L673 248.8 L672.6 249 L672.2 249.2 L671.8 249.3 L671.4 249.4 L670.9 249.6 L670.6 249.7 L670.2 249.8 L669.8 250 L669.4 250.1 L669.1 250.1 L668.6 250.2 L668.3 250.3 L668 250.3 L667.5 250.4 L667.2 250.4 L666.7 250.5 L666.4 250.5 L665.9 250.5 L665.6 250.5 L665.1 250.5 L664.8 250.5 L664.3 250.5 L663.9 250.4 L663.4 250.4 L663 250.4 L662.5 250.3 L662.1 250.3 L661.6 250.2 L661.1 250.2 L660.7 250.1 L660.2 250.1 L659.8 250 L659.3 249.9 L658.8 249.8 L658.4 249.8 L657.9 249.7 L657.5 249.6 L657 249.5 L656.5 249.4 L656.1 249.4 L655.6 249.3 L655.1 249.2 L654.7 249.1 L654.2 249 L653.7 248.9 L653.3 248.8 L652.8 248.6 L652.4 248.5 L651.9 248.4 L651.4 248.3 L651 248.2 L650.5 248.1 L650.1 247.9 L649.7 247.8 L649.2 247.7 L648.8 247.5 L648.3 247.4 L647.9 247.2 L647.5 247.1 L647 246.9 L646.6 246.8 L646.2 246.6 L645.7 246.5 L645.3 246.3 L644.8 246.1 L644.3 245.9 L643.9 245.8 L643.5 245.6 L643.1 245.4 L642.6 245.2 L642.2 245.1 L641.8 244.9 L641.3 244.7 L641 244.5 L640.5 244.3 L640.1 244.1 L639.7 243.9 L639.2 243.7 L638.9 243.5 L638.4 243.2 L638.1 243 L637.7 242.8 L637.2 242.6 L636.9 242.4 L636.5 242.1 L636.1 241.9 L635.7 241.6 L635.3 241.4 L634.9 241.2 L634.5 240.9 L634.2 240.7 L633.8 240.4 L633.4 240.1 L633 239.9 L632.6 239.6 L632.2 239.3 L631.9 239.1 L631.5 238.8 L631.1 238.5 L630.8 238.2 L630.4 237.9 L630 237.6 L629.6 237.4 L629.3 237 L628.9 236.7 L628.6 236.5 L628.2 236.1 L627.8 235.8 L627.4 235.5 L627.1 235.2 L626.7 234.9 L626.3 234.6 L626 234.3 L625.6 233.9 L625.3 233.6 L624.9 233.3 L624.6 233 L624.2 232.6 L623.8 232.3 L623.5 232 L623.2 231.6 L622.8 231.3 L622.4 231 L622.1 230.6 L621.8 230.3 L621.4 229.9 L621 229.6 L620.7 229.3 L620.4 228.9 L620 228.6 L619.7 228.2 L619.3 227.9 L619 227.5 L618.6 227.2 L618.3 226.8 L618 226.5 L617.6 226.1 L617.3 225.8 L616.9 225.4 L616.6 225.1 L616.3 224.7 L615.9 224.4 L615.6 224 L615.3 223.7 L614.9 223.3 L614.6 222.9 L614.3 222.6 L613.9 222.2 L613.6 221.9 L613.3 221.5 L613 221.2 L612.6 220.8 L612.3 220.4 L612 220 L611.7 219.7 L611.4 219.3 L611 219 L610.7 218.6 L610.4 218.2 L610.1 217.9 L609.8 217.5 L609.4 217.1 L609.1 216.7 L608.8 216.4 L608.5 216 L608.2 215.6 L607.9 215.2 L607.5 214.8 L607.2 214.5 L606.9 214.1 L606.6 213.7 L606.3 213.3 L606 212.9 L605.7 212.6 L605.4 212.2 L605.1 211.8 L604.8 211.4 L604.5 211 L604.2 210.7 L603.9 210.3 L603.6 209.9 L603.3 209.5 L603 209.1 L602.7 208.7 L602.4 208.3 L602.2 208 L601.9 207.6 L601.6 207.2 L601.4 206.8 L601.1 206.4 L600.8 206 L600.5 205.7 L600.3 205.3 L600 204.8 L599.8 204.5 L599.5 204.1 L599.2 203.7 L599 203.2 L598.8 202.9 L598.5 202.5 L598.2 202 L598 201.7 L597.8 201.3 L597.5 200.8 L597.3 200.5 L597.1 200 L596.9 199.6 L596.6 199.2 L596.4 198.8 L596.2 198.4 L596 197.9 L595.8 197.6 L595.6 197.1 L595.4 196.7 L595.1 196.2 L595 195.9 L594.8 195.4 L594.6 195 L594.4 194.5 L594.2 194.1 L594 193.7 L593.8 193.2 L593.6 192.8 L593.4 192.4 L593.3 191.9 L593.1 191.5 L592.9 191.1 L592.7 190.6 L592.5 190.1 L592.4 189.7 L592.2 189.3 L592 188.8 L591.9 188.3 L591.7 187.9 L591.5 187.4 L591.4 187 L591.2 186.5 L591 186 L590.9 185.6 L590.7 185.2 L590.6 184.7 L590.4 184.2 L590.3 183.7 L590.1 183.3 L590 182.8 L589.8 182.4 L589.7 181.9 L589.5 181.5 L589.4 181 L589.2 180.5 L589.1 180 L588.9 179.6 L588.8 179.1 L588.7 178.7 L588.5 178.2 L588.4 177.7 L588.3 177.3 L588.1 176.8 L588 176.3 L587.8 175.8 L587.7 175.4 L587.6 174.9 L587.5 174.4 L587.3 173.9 L587.2 173.5 L587.1 173 L587 172.5 L586.8 172.1 L586.7 171.6 L586.6 171.1 L586.5 170.6 L586.4 170.2 L586.3 169.7 L586.1 169.2 L586 168.7 L585.9 168.3 L585.8 167.8 L585.7 167.3 L585.6 166.8 L585.5 166.4 L585.4 165.9 L585.3 165.4 L585.2 164.9 L585.1 164.5 L585 164 L584.9 163.5 L584.8 163 L584.7 162.5 L584.6 162.1 L584.5 161.6 L584.4 161.1 L584.3 160.6 L584.2 160.2 L584.1 159.7 L584 159.2 L583.9 158.7 L583.9 158.3 L583.8 157.8 L583.7 157.3 L583.6 156.8 L583.5 156.4 L583.5 155.9 L583.4 155.4 L583.3 154.9 L583.2 154.4 L583.2 153.9 L583.1 153.4 L583 153 L583 152.5 L582.9 152 L582.8 151.5 L582.8 151 L582.7 150.6 L582.7 150.1 L582.6 149.6 L582.6 149.1 L582.5 148.7 L582.5 148.2 L582.4 147.7 L582.4 147.2 L582.3 146.8 L582.3 146.3 L582.2 145.8 L582.2 145.3 L582.2 144.8 L582.1 144.3 L582.1 143.8 L582.1 143.4 L582.1 142.9 L582 142.4 L582 141.9 L582 141.5 L582 141 L582 140.5 L582 140.1 L582 139.6 L582 139.1 L582 138.6 L582 138.3 L582 137.8 L582 137.3 L582 136.9 L582 136.4 L582.1 135.9 L582.1 135.6 L582.2 135.1 L582.2 134.6 L582.2 134.3 L582.3 133.8 L582.4 133.3 L582.4 133 L582.5 132.5 L582.6 132 L582.7 131.6 L582.8 131.1 L582.9 130.6 L583 130.3 L583.1 129.8 L583.2 129.3 L583.3 129 L583.4 128.5 L583.5 128.1 L583.7 127.6 L583.8 127.2 L583.9 126.8 L584.1 126.3 L584.2 125.8 L584.4 125.5 L584.5 125 L584.7 124.6 L584.9 124.1 L585 123.7 L585.2 123.3 L585.4 122.8 L585.5 122.4 L585.7 122 L585.9 121.6 L586.1 121.1 L586.3 120.7 L586.5 120.2 L586.7 119.8 L586.9 119.4 L587.1 118.9 L587.2 118.6 L587.4 118.3 L587.6 117.9 L587.7 117.6 L588 117.2 L588.2 117 L588.3 116.8 L588.4 116.6 L588.6 116.4 L588.9 116.1 L589.1 115.9 L589.3 115.8 L589.6 115.6 L589.8 115.4 L590.2 115.2 L590.5 115 L590.9 114.7 L591.4 114.4 L591.8 114.2 L592.3 113.9 L592.7 113.6 L593 113.4 L593.4 113.2 L593.8 113 L594.1 112.8 L594.5 112.6 L594.8 112.4 L595.3 112.2 L595.7 112 L596 111.9 L596.4 111.7 L596.8 111.5 L597.2 111.4 L597.6 111.3 L598.1 111.1 L598.4 111 L598.8 110.9 L599.2 110.8 L599.6 110.7 L600 110.6 L600.4 110.5 L600.9 110.4 L600.8 110.4 L601.3 110.3 L601.7 110.3 L602.2 110.2 L602.7 110.1 L603.1 110 L603.5 110 L603.9 109.9 L604.4 109.9 L604.8 109.9 L605.2 109.8 L605.7 109.8 L606 109.8 L606.4 109.8 L606.9 109.8 L607.2 109.8 L607.6 109.9 Z" fill="none" stroke="#000" stroke-width="1.8" stroke-linejoin="round" stroke-linecap="round" />
<line x1="609.5" y1="108.8" x2="610.4" y2="102.4" stroke="#000" stroke-width="4.7" stroke-linecap="round"/>
<line x1="613.5" y1="109.7" x2="615.2" y2="103.5" stroke="#000" stroke-width="4.7" stroke-linecap="round"/>
<line x1="617.6" y1="111" x2="619.7" y2="104.9" stroke="#000" stroke-width="4.7" stroke-linecap="round"/>
<line x1="621.6" y1="112.5" x2="624" y2="106.6" stroke="#000" stroke-width="4.7" stroke-linecap="round"/>
<line x1="625.5" y1="114.2" x2="628.3" y2="108.5" stroke="#000" stroke-width="4.7" stroke-linecap="round"/>
<line x1="629.3" y1="116.3" x2="632.5" y2="110.7" stroke="#000" stroke-width="4.7" stroke-linecap="round"/>
<line x1="632.8" y1="118.6" x2="636.5" y2="113.3" stroke="#000" stroke-width="4.7" stroke-linecap="round"/>
<line x1="636.4" y1="121.1" x2="640.2" y2="116" stroke="#000" stroke-width="4.7" stroke-linecap="round"/>
<line x1="639.9" y1="123.8" x2="643.9" y2="118.8" stroke="#000" stroke-width="4.7" stroke-linecap="round"/>
<line x1="643.3" y1="126.6" x2="647.4" y2="121.8" stroke="#000" stroke-width="4.7" stroke-linecap="round"/>
<line x1="646.6" y1="129.5" x2="650.9" y2="124.8" stroke="#000" stroke-width="4.7" stroke-linecap="round"/>
<line x1="649.8" y1="132.5" x2="654.2" y2="127.9" stroke="#000" stroke-width="4.7" stroke-linecap="round"/>
<line x1="652.8" y1="135.6" x2="657.5" y2="131.2" stroke="#000" stroke-width="4.7" stroke-linecap="round"/>
<line x1="655.9" y1="138.9" x2="660.6" y2="134.6" stroke="#000" stroke-width="4.7" stroke-linecap="round"/>
<line x1="658.9" y1="142.2" x2="663.6" y2="137.9" stroke="#000" stroke-width="4.7" stroke-linecap="round"/>
<line x1="661.9" y1="145.5" x2="666.6" y2="141.3" stroke="#000" stroke-width="4.7" stroke-linecap="round"/>
<line x1="664.9" y1="148.9" x2="669.7" y2="144.6" stroke="#000" stroke-width="4.7" stroke-linecap="round"/>
<line x1="667.8" y1="152.2" x2="672.6" y2="148.1" stroke="#000" stroke-width="4.7" stroke-linecap="round"/>
<line x1="670.5" y1="155.6" x2="675.6" y2="151.7" stroke="#000" stroke-width="4.7" stroke-linecap="round"/>
<line x1="673" y1="159.1" x2="678.3" y2="155.5" stroke="#000" stroke-width="4.7" stroke-linecap="round"/>
<line x1="675.4" y1="162.7" x2="680.9" y2="159.4" stroke="#000" stroke-width="4.7" stroke-linecap="round"/>
<line x1="677.5" y1="166.5" x2="683.1" y2="163.5" stroke="#000" stroke-width="4.7" stroke-linecap="round"/>
<line x1="679.5" y1="170.4" x2="685.2" y2="167.6" stroke="#000" stroke-width="4.7" stroke-linecap="round"/>
<line x1="681.4" y1="174.4" x2="687.2" y2="171.7" stroke="#000" stroke-width="4.7" stroke-linecap="round"/>
<line x1="683.2" y1="178.4" x2="689" y2="175.9" stroke="#000" stroke-width="4.7" stroke-linecap="round"/>
<line x1="684.8" y1="182.5" x2="690.8" y2="180.2" stroke="#000" stroke-width="4.7" stroke-linecap="round"/>
<line x1="686.4" y1="186.7" x2="692.4" y2="184.4" stroke="#000" stroke-width="4.7" stroke-linecap="round"/>
<line x1="687.9" y1="190.8" x2="694" y2="188.8" stroke="#000" stroke-width="4.7" stroke-linecap="round"/>
<line x1="689.2" y1="195" x2="695.4" y2="193.1" stroke="#000" stroke-width="4.7" stroke-linecap="round"/>
<line x1="690.5" y1="199.2" x2="696.6" y2="197.5" stroke="#000" stroke-width="4.7" stroke-linecap="round"/>
<line x1="691.5" y1="203.5" x2="697.8" y2="202" stroke="#000" stroke-width="4.7" stroke-linecap="round"/>
<line x1="692.4" y1="207.7" x2="698.7" y2="206.6" stroke="#000" stroke-width="4.7" stroke-linecap="round"/>
<line x1="693.1" y1="212" x2="699.4" y2="211.2" stroke="#000" stroke-width="4.7" stroke-linecap="round"/>
<line x1="693.6" y1="216.4" x2="699.9" y2="215.8" stroke="#000" stroke-width="4.7" stroke-linecap="round"/>
<line x1="693.8" y1="220.6" x2="700.2" y2="220.5" stroke="#000" stroke-width="4.7" stroke-linecap="round"/>
<line x1="693.7" y1="224.8" x2="700.1" y2="225.3" stroke="#000" stroke-width="4.7" stroke-linecap="round"/>
<line x1="693.2" y1="228.9" x2="699.5" y2="230.1" stroke="#000" stroke-width="4.7" stroke-linecap="round"/>
<line x1="692.2" y1="232.9" x2="698.3" y2="234.9" stroke="#000" stroke-width="4.7" stroke-linecap="round"/>
<line x1="690.7" y1="236.5" x2="696.3" y2="239.5" stroke="#000" stroke-width="4.7" stroke-linecap="round"/>
<line x1="688.5" y1="239.8" x2="693.6" y2="243.8" stroke="#000" stroke-width="4.7" stroke-linecap="round"/>
<line x1="685.8" y1="242.7" x2="690.2" y2="247.4" stroke="#000" stroke-width="4.7" stroke-linecap="round"/>
<line x1="682.7" y1="245.3" x2="686.4" y2="250.6" stroke="#000" stroke-width="4.7" stroke-linecap="round"/>
<line x1="679.2" y1="247.4" x2="682.2" y2="253.1" stroke="#000" stroke-width="4.7" stroke-linecap="round"/>
<line x1="609.6" y1="107.6" x2="610.2" y2="103.6" stroke="#fff" stroke-width="2.2" stroke-linecap="round"/>
<line x1="613.8" y1="108.5" x2="614.9" y2="104.7" stroke="#fff" stroke-width="2.2" stroke-linecap="round"/>
<line x1="618" y1="109.8" x2="619.3" y2="106" stroke="#fff" stroke-width="2.2" stroke-linecap="round"/>
<line x1="622.1" y1="111.4" x2="623.6" y2="107.7" stroke="#fff" stroke-width="2.2" stroke-linecap="round"/>
<line x1="626" y1="113.2" x2="627.8" y2="109.6" stroke="#fff" stroke-width="2.2" stroke-linecap="round"/>
<line x1="629.9" y1="115.2" x2="631.9" y2="111.8" stroke="#fff" stroke-width="2.2" stroke-linecap="round"/>
<line x1="633.5" y1="117.6" x2="635.8" y2="114.3" stroke="#fff" stroke-width="2.2" stroke-linecap="round"/>
<line x1="637.1" y1="120.2" x2="639.5" y2="117" stroke="#fff" stroke-width="2.2" stroke-linecap="round"/>
<line x1="640.6" y1="122.9" x2="643.1" y2="119.8" stroke="#fff" stroke-width="2.2" stroke-linecap="round"/>
<line x1="644" y1="125.7" x2="646.6" y2="122.7" stroke="#fff" stroke-width="2.2" stroke-linecap="round"/>
<line x1="647.4" y1="128.6" x2="650.1" y2="125.7" stroke="#fff" stroke-width="2.2" stroke-linecap="round"/>
<line x1="650.6" y1="131.7" x2="653.4" y2="128.8" stroke="#fff" stroke-width="2.2" stroke-linecap="round"/>
<line x1="653.7" y1="134.8" x2="656.6" y2="132.1" stroke="#fff" stroke-width="2.2" stroke-linecap="round"/>
<line x1="656.8" y1="138.1" x2="659.7" y2="135.4" stroke="#fff" stroke-width="2.2" stroke-linecap="round"/>
<line x1="659.8" y1="141.4" x2="662.7" y2="138.7" stroke="#fff" stroke-width="2.2" stroke-linecap="round"/>
<line x1="662.8" y1="144.7" x2="665.7" y2="142.1" stroke="#fff" stroke-width="2.2" stroke-linecap="round"/>
<line x1="665.8" y1="148.1" x2="668.8" y2="145.4" stroke="#fff" stroke-width="2.2" stroke-linecap="round"/>
<line x1="668.7" y1="151.4" x2="671.7" y2="148.9" stroke="#fff" stroke-width="2.2" stroke-linecap="round"/>
<line x1="671.5" y1="154.9" x2="674.6" y2="152.4" stroke="#fff" stroke-width="2.2" stroke-linecap="round"/>
<line x1="674" y1="158.4" x2="677.3" y2="156.2" stroke="#fff" stroke-width="2.2" stroke-linecap="round"/>
<line x1="676.4" y1="162.1" x2="679.8" y2="160.1" stroke="#fff" stroke-width="2.2" stroke-linecap="round"/>
<line x1="678.5" y1="165.9" x2="682.1" y2="164.1" stroke="#fff" stroke-width="2.2" stroke-linecap="round"/>
<line x1="680.5" y1="169.9" x2="684.1" y2="168.1" stroke="#fff" stroke-width="2.2" stroke-linecap="round"/>
<line x1="682.5" y1="173.9" x2="686.1" y2="172.2" stroke="#fff" stroke-width="2.2" stroke-linecap="round"/>
<line x1="684.3" y1="178" x2="687.9" y2="176.4" stroke="#fff" stroke-width="2.2" stroke-linecap="round"/>
<line x1="686" y1="182.1" x2="689.7" y2="180.6" stroke="#fff" stroke-width="2.2" stroke-linecap="round"/>
<line x1="687.6" y1="186.2" x2="691.3" y2="184.8" stroke="#fff" stroke-width="2.2" stroke-linecap="round"/>
<line x1="689" y1="190.4" x2="692.8" y2="189.1" stroke="#fff" stroke-width="2.2" stroke-linecap="round"/>
<line x1="690.4" y1="194.7" x2="694.2" y2="193.5" stroke="#fff" stroke-width="2.2" stroke-linecap="round"/>
<line x1="691.6" y1="198.9" x2="695.5" y2="197.9" stroke="#fff" stroke-width="2.2" stroke-linecap="round"/>
<line x1="692.7" y1="203.2" x2="696.6" y2="202.3" stroke="#fff" stroke-width="2.2" stroke-linecap="round"/>
<line x1="693.6" y1="207.5" x2="697.5" y2="206.8" stroke="#fff" stroke-width="2.2" stroke-linecap="round"/>
<line x1="694.2" y1="211.9" x2="698.2" y2="211.3" stroke="#fff" stroke-width="2.2" stroke-linecap="round"/>
<line x1="694.8" y1="216.2" x2="698.7" y2="215.9" stroke="#fff" stroke-width="2.2" stroke-linecap="round"/>
<line x1="695" y1="220.6" x2="699" y2="220.5" stroke="#fff" stroke-width="2.2" stroke-linecap="round"/>
<line x1="694.9" y1="224.9" x2="698.9" y2="225.2" stroke="#fff" stroke-width="2.2" stroke-linecap="round"/>
<line x1="694.4" y1="229.1" x2="698.3" y2="229.9" stroke="#fff" stroke-width="2.2" stroke-linecap="round"/>
<line x1="693.3" y1="233.2" x2="697.1" y2="234.5" stroke="#fff" stroke-width="2.2" stroke-linecap="round"/>
<line x1="691.7" y1="237.1" x2="695.3" y2="238.9" stroke="#fff" stroke-width="2.2" stroke-linecap="round"/>
<line x1="689.5" y1="240.6" x2="692.6" y2="243" stroke="#fff" stroke-width="2.2" stroke-linecap="round"/>
<line x1="686.6" y1="243.6" x2="689.4" y2="246.5" stroke="#fff" stroke-width="2.2" stroke-linecap="round"/>
<line x1="683.4" y1="246.3" x2="685.7" y2="249.6" stroke="#fff" stroke-width="2.2" stroke-linecap="round"/>
<line x1="679.8" y1="248.5" x2="681.6" y2="252" stroke="#fff" stroke-width="2.2" stroke-linecap="round"/>
<path d="M580.5,134 C583,125 588,119 594,115.5 L597,118 C591,122 586,128 584,135 Z" fill="#000" stroke="#000" stroke-width="1.1" stroke-linejoin="round" stroke-linecap="round" />
<path d="M583 140 L583.1 141.5 L583.1 143.3 L583.2 145.4 L583.3 147.9 L583.3 150.5 L583.4 153.2 L583.6 156.1 L583.7 159 L584 161.9 L584.2 164.8 L584.6 167.5 L585 170 L585.5 172.4 L586.1 174.9 L586.7 177.3 L587.4 179.8 L588.1 182.2 L588.9 184.6 L589.7 187 L590.5 189.3 L591.4 191.6 L592.2 193.8 L593.1 196 L594 198 L594.9 200 L596 202 L597.1 204 L598.2 206 L599.4 207.9 L600.6 209.8 L601.7 211.5 L602.8 213.1 L603.8 214.6 L604.7 215.9 L605.4 217.1 L606 218" fill="none" stroke="#000" stroke-width="1.4" stroke-linejoin="round" stroke-linecap="round" />
<path d="M604.7 113 L604.7 113.7 L604.6 114.7 L604.5 115.7 L604.4 117 L604.3 118.3 L604.1 119.7 L604 121.1 L604 122.6 L603.9 124 L603.9 125.4 L603.9 126.8 L604 128 L604.1 129.2 L604.3 130.3 L604.5 131.3 L604.8 132.4 L605.1 133.4 L605.4 134.4 L605.7 135.5 L606 136.5 L606.4 137.6 L606.7 138.8 L607 140 L607.3 141.3 L607.6 142.7 L607.9 144.1 L608.2 145.7 L608.4 147.3 L608.7 148.9 L609 150.5 L609.3 152.2 L609.6 153.8 L610 155.5 L610.3 157 L610.6 158.6 L611 160 L611.4 161.4 L611.9 162.9 L612.3 164.4 L612.8 165.8 L613.4 167.3 L613.9 168.7 L614.4 170 L614.9 171.2 L615.3 172.4 L615.7 173.4 L616 174.3 L616.3 175" fill="none" stroke="#000" stroke-width="1.7" stroke-linejoin="round" stroke-linecap="round" />
<path d="M620 118.2 L619.8 118.8 L619.6 119.5 L619.4 120.3 L619.1 121.3 L618.8 122.3 L618.5 123.4 L618.1 124.5 L617.8 125.7 L617.6 126.8 L617.3 127.9 L617.1 129 L617 130 L616.9 131 L616.9 131.9 L616.9 132.8 L616.9 133.7 L616.9 134.6 L617 135.5 L617 136.4 L617.1 137.4 L617.2 138.3 L617.4 139.3 L617.5 140.3 L617.6 141.3 L617.7 142.4 L617.9 143.5 L618 144.6 L618.2 145.8 L618.4 146.9 L618.6 148.1 L618.8 149.3 L619 150.5 L619.2 151.6 L619.5 152.8 L619.7 153.9 L620 155 L620.3 156.1 L620.6 157.2 L621 158.4 L621.4 159.6 L621.8 160.7 L622.1 161.9 L622.5 162.9 L622.9 164 L623.2 164.9 L623.5 165.7 L623.8 166.4 L624 167" fill="none" stroke="#000" stroke-width="2.1" stroke-linejoin="round" stroke-linecap="round" />
<path d="M643 196 L643.6 196.4 L644.4 197 L645.3 197.6 L646.3 198.4 L647.3 199.2 L648.5 200 L649.7 200.9 L651 201.7 L652.2 202.6 L653.5 203.5 L654.8 204.3 L656 205 L657.2 205.7 L658.5 206.4 L659.8 207.1 L661.1 207.8 L662.5 208.5 L663.8 209.1 L665.2 209.8 L666.6 210.4 L667.9 211.1 L669.3 211.7 L670.7 212.4 L672 213 L673.4 213.6 L674.9 214.3 L676.4 215 L677.9 215.7 L679.5 216.3 L681 217 L682.5 217.6 L683.9 218.2 L685.1 218.8 L686.3 219.2 L687.2 219.7 L688 220" fill="none" stroke="#000" stroke-width="2.1" stroke-linejoin="round" stroke-linecap="round" />
<path d="M618 212 L618.6 212.6 L619.3 213.4 L620.1 214.2 L621.1 215.3 L622.1 216.4 L623.2 217.5 L624.3 218.7 L625.5 219.9 L626.6 221 L627.8 222.1 L628.9 223.1 L630 224 L631.1 224.8 L632.1 225.6 L633.2 226.3 L634.2 227 L635.3 227.7 L636.4 228.4 L637.5 229 L638.6 229.7 L639.8 230.3 L640.9 230.8 L642.1 231.4 L643.4 232 L644.7 232.6 L646.1 233.2 L647.5 233.7 L649 234.3 L650.4 234.8 L651.9 235.4 L653.4 235.9 L654.9 236.3 L656.4 236.7 L657.9 237.1 L659.3 237.4 L660.6 237.7 L661.9 237.9 L663.2 238 L664.5 238.1 L665.7 238.2 L667 238.2 L668.2 238.2 L669.4 238.1 L670.6 238 L671.7 237.9 L672.8 237.8 L673.9 237.7 L675 237.5 L676.1 237.3 L677.2 237.1 L678.2 236.8 L679.3 236.4 L680.4 236.1 L681.4 235.7 L682.4 235.4 L683.3 235 L684.1 234.7 L684.8 234.4 L685.5 234.2 L686 234" fill="none" stroke="#000" stroke-width="1.7" stroke-linejoin="round" stroke-linecap="round" />
<path d="M623 168 L623.3 166.9 L623.6 165.4 L624 163.7 L624.4 161.8 L624.9 159.7 L625.4 157.5 L625.9 155.3 L626.5 153.1 L627.1 151 L627.6 149.1 L628.2 147.4 L628.8 146 L629.4 144.8 L630 143.8 L630.6 142.9 L631.2 142.1 L631.9 141.4 L632.5 140.7 L633.2 140.2 L633.9 139.7 L634.6 139.2 L635.3 138.8 L636.1 138.4 L636.9 138 L637.7 137.6 L638.6 137.3 L639.4 137 L640.3 136.7 L641.2 136.5 L642.1 136.3 L643.1 136.2 L644 136.1 L645 136.1 L646 136.1 L647 136.2 L648 136.4 L649 136.6 L650.1 136.9 L651.2 137.2 L652.3 137.6 L653.5 138.1 L654.6 138.6 L655.7 139.2 L656.9 139.8 L658 140.5 L659 141.2 L660 142 L661 142.8 L661.9 143.7 L662.8 144.7 L663.7 145.8 L664.6 146.9 L665.4 148.1 L666.3 149.3 L667.1 150.6 L667.8 151.9 L668.5 153.2 L669.2 154.5 L669.9 155.9 L670.5 157.2 L671.1 158.6 L671.6 159.9 L672.2 161.4 L672.7 162.8 L673.2 164.3 L673.6 165.8 L674 167.3 L674.3 168.8 L674.7 170.3 L674.9 171.8 L675.1 173.4 L675.3 174.9 L675.4 176.5 L675.5 178.1 L675.5 179.9 L675.5 181.6 L675.5 183.4 L675.4 185.1 L675.3 186.8 L675.1 188.5 L674.8 190.1 L674.5 191.5 L674.1 192.9 L673.7 194.1 L673.1 195.2 L672.4 196.2 L671.6 197.1 L670.7 197.9 L669.7 198.6 L668.8 199.2 L667.8 199.8 L666.8 200.4 L665.9 200.8 L665.1 201.3 L664.5 201.7 L664 202" fill="none" stroke="#000" stroke-width="2.1" stroke-linejoin="round" stroke-linecap="round" />
<path d="M643 196 L643.4 196.3 L643.9 196.6 L644.5 197 L645.2 197.4 L646 197.9 L646.8 198.4 L647.6 198.9 L648.4 199.4 L649.3 199.9 L650.2 200.3 L651.1 200.7 L652 201 L652.9 201.2 L654 201.4 L655.1 201.6 L656.2 201.7 L657.4 201.8 L658.6 201.8 L659.7 201.9 L660.8 201.9 L661.8 201.9 L662.7 201.9 L663.4 202 L664 202" fill="none" stroke="#000" stroke-width="1.4" stroke-linejoin="round" stroke-linecap="round" />
<path d="M630.4 154 L630.8 153.4 L631.3 152.7 L631.8 152.2 L632.4 151.7 L633.1 151.2 L633.9 150.8 L634.6 150.4 L635.4 150.1 L636.2 149.8 L637 149.6 L637.8 149.4 L638.5 149.2 L639.2 149.1 L640 149 L640.7 148.9 L641.4 148.9 L642.2 148.9 L642.9 149 L643.7 149.1 L644.5 149.3 L645.3 149.6 L646.2 149.9 L647.1 150.3 L648 150.8 L649 151.4 L650 152.1 L651.2 152.8 L652.3 153.6 L653.5 154.5 L654.7 155.5 L655.9 156.5 L657 157.6 L658.1 158.6 L659.2 159.7 L660.1 160.9 L661 162 L661.8 163.2 L662.5 164.4 L663.2 165.7 L663.9 167.1 L664.5 168.5 L665.1 169.9 L665.6 171.3 L666 172.7 L666.4 174.1 L666.8 175.5 L667.1 176.8 L667.3 178 L667.5 179.2 L667.6 180.4 L667.6 181.7 L667.6 182.9 L667.5 184.1 L667.4 185.2 L667.2 186.4 L667 187.4 L666.7 188.4 L666.4 189.3 L666.1 190.2 L665.7 190.9 L665.3 191.5 L664.8 192.1 L664.2 192.6 L663.6 193 L663 193.3 L662.3 193.6 L661.6 193.8 L660.8 194 L660.1 194.1 L659.3 194.1 L658.5 194.1 L657.7 194.1 L656.9 194 L656 193.9 L655.1 193.7 L654.2 193.4 L653.3 193.1 L652.3 192.7 L651.3 192.3 L650.4 191.8 L649.4 191.2 L648.4 190.7 L647.4 190 L646.5 189.3 L645.5 188.5 L644.6 187.6 L643.6 186.6 L642.5 185.6 L641.5 184.5 L640.5 183.3 L639.5 182.1 L638.6 180.9 L637.7 179.8 L636.8 178.6 L636 177.5 L635.3 176.5 L634.7 175.5 L634.1 174.5 L633.5 173.6 L633 172.7 L632.6 171.7 L632.1 170.8 L631.8 169.9 L631.4 169 L631.1 168.1 L630.9 167.2 L630.6 166.2 L630.4 165.3 L630.2 164.3 L630 163.3 L629.9 162.3 L629.7 161.3 L629.6 160.3 L629.6 159.2 L629.6 158.3 L629.6 157.3 L629.7 156.4 L629.9 155.5 L630.1 154.7 L630.4 154 Z" fill="none" stroke="#000" stroke-width="2" stroke-linejoin="round" stroke-linecap="round" />
<ellipse cx="652.5" cy="172" rx="6.5" ry="10" transform="rotate(-22 652.5 172)" fill="none" stroke="#000" stroke-width="1.9"/>
<path d="M648,166 C650,163 654,163 656,165" fill="none" stroke="#000" stroke-width="1.3" stroke-linejoin="round" stroke-linecap="round" />
<ellipse cx="640" cy="173.3" rx="2.3" ry="2.6" transform="rotate(0 640 173.3)" fill="none" stroke="#000" stroke-width="1.5"/>
<ellipse cx="648" cy="184.5" rx="2.3" ry="2.6" transform="rotate(0 648 184.5)" fill="none" stroke="#000" stroke-width="1.5"/>
<ellipse cx="657.7" cy="187.7" rx="2.3" ry="2.6" transform="rotate(0 657.7 187.7)" fill="none" stroke="#000" stroke-width="1.5"/>
<ellipse cx="661" cy="178" rx="2.3" ry="2.6" transform="rotate(0 661 178)" fill="none" stroke="#000" stroke-width="1.5"/>
<ellipse cx="662.5" cy="168.5" rx="2.3" ry="2.6" transform="rotate(0 662.5 168.5)" fill="none" stroke="#000" stroke-width="1.5"/>
<ellipse cx="645" cy="156" rx="2.3" ry="2.6" transform="rotate(0 645 156)" fill="none" stroke="#000" stroke-width="1.5"/>
<circle cx="636.9" cy="157.2" r="2.2" fill="#000"/>
<ellipse cx="627" cy="187" rx="8.5" ry="10.5" transform="rotate(-25 627 187)" fill="#fff" stroke="#000" stroke-width="3.1"/>
<ellipse cx="628" cy="188" rx="4.6" ry="6.2" transform="rotate(-25 628 188)" fill="none" stroke="#000" stroke-width="2.6"/>
<circle cx="628.5" cy="189.5" r="2.4" fill="#000"/>
<path d="M619.8 244.1 L618.4 244.9 L616.9 245.6 L615.4 246.1 L613.7 246.4 L611.9 246.5 L610.1 246.5 L608.2 246.3 L606.2 245.9 L604.2 245.3 L602.1 244.5 L600 243.6 L597.9 242.5 L595.8 241.3 L593.6 239.9 L591.5 238.3 L589.4 236.7 L587.3 234.9 L585.3 232.9 L583.3 230.9 L581.4 228.7 L579.5 226.5 L577.8 224.2 L576.1 221.8 L574.5 219.3 L573 216.8 L571.6 214.3 L570.3 211.7 L569.2 209.2 L568.1 206.6 L567.3 204.1 L566.5 201.6 L565.9 199.1 L565.4 196.7 L565.1 194.3 L564.9 192 L564.9 189.8 L565.1 187.7 L565.3 185.7 L565.8 183.8 L566.3 182.1 L567 180.5 L567.9 179 L568.9 177.7 L570 176.5 L571.2 175.5 L572.6 174.7 L574.1 174 L575.6 173.5 L577.3 173.2 L579.1 173.1 L580.9 173.1 L582.8 173.3 L584.8 173.7 L586.8 174.3 L588.9 175.1 L591 176 L593.1 177.1 L595.2 178.3 L597.4 179.7 L599.5 181.3 L601.6 182.9 L603.7 184.7 L605.7 186.7 L607.7 188.7 L609.6 190.9 L611.5 193.1 L613.2 195.4 L614.9 197.8 L616.5 200.3 L618 202.8 L619.4 205.3 L620.7 207.9 L621.8 210.4 L622.9 213 L623.7 215.5 L624.5 218 L625.1 220.5 L625.6 222.9 L625.9 225.3 L626.1 227.6 L626.1 229.8 L625.9 231.9 L625.7 233.9 L625.2 235.8 L624.7 237.5 L624 239.1 L623.1 240.6 L622.1 241.9 L621 243.1 L619.8 244.1 Z" fill="#fff" stroke="#000" stroke-width="0" stroke-linejoin="round" stroke-linecap="round" />
<path d="M620.7 239.4 L620.6 239.5 L620.4 239.7 L620.6 240.2 L620.8 240.6 L621 241.1 L621.1 241.7 L621.2 242.1 L621.3 242.6 L621.2 242.8 L621 242.9 L620.6 243.3 L620.5 243.4 L620 243.2 L619.6 243 L619.1 242.8 L618.6 242.7 L618.1 242.4 L617.7 242.2 L617.5 242.3 L617.3 242.4 L617.1 242.5 L616.9 242.6 L616.9 243.1 L616.9 243.6 L616.9 244.1 L616.7 244.7 L616.6 245.2 L616.5 245.6 L616.3 245.7 L616.1 245.8 L615.6 245.9 L615.4 246 L615 245.6 L614.7 245.3 L614.4 244.9 L614.1 244.5 L613.7 244.1 L613.4 243.7 L613.2 243.8 L613 243.8 L612.7 243.8 L612.5 243.9 L612.3 244.3 L612.1 244.7 L611.9 245.2 L611.7 245.6 L611.4 246.1 L611 246.5 L610.8 246.5 L610.6 246.5 L610.3 246.5 L610.1 246.5 L609.9 246 L609.5 245.6 L609.4 245.1 L609.2 244.6 L609 244.2 L608.8 243.7 L608.6 243.7 L608.4 243.7 L608.2 243.6 L607.9 243.6 L607.6 244 L607.3 244.3 L607 244.7 L606.7 245.1 L606.2 245.4 L605.9 245.8 L605.7 245.7 L605.5 245.7 L605.2 245.6 L605 245.6 L604.9 245.1 L604.7 244.6 L604.6 244.1 L604.5 243.6 L604.5 243.1 L604.4 242.6 L604.2 242.5 L603.9 242.5 L603.7 242.4 L603.5 242.3 L603.1 242.6 L602.8 242.9 L602.4 243.3 L602 243.6 L601.6 243.9 L601.1 244.1 L600.9 244 L600.7 243.9 L600.5 243.9 L600.3 243.8 L600.3 243.3 L600.3 242.8 L600.2 242.3 L600.2 241.8 L600.2 241.3 L600.2 240.8 L600 240.7 L599.8 240.6 L599.5 240.5 L599.3 240.4 L598.9 240.6 L598.5 240.9 L598.1 241.1 L597.7 241.4 L597.3 241.7 L596.8 241.9 L596.6 241.8 L596.4 241.7 L596.2 241.6 L596 241.4 L596 240.9 L596 240.4 L596.1 239.9 L596.1 239.4 L596.2 238.9 L596.2 238.5 L596 238.3 L595.8 238.2 L595.6 238.1 L595.4 237.9 L595 238.2 L594.6 238.4 L594.1 238.6 L593.7 238.8 L593.2 239.1 L592.8 239.3 L592.5 239.1 L592.4 238.9 L592.2 238.8 L592 238.7 L592.1 238.2 L592.2 237.7 L592.2 237.2 L592.3 236.7 L592.4 236.2 L592.5 235.8 L592.3 235.6 L592.1 235.5 L591.9 235.3 L591.8 235.2 L591.3 235.4 L590.9 235.5 L590.4 235.7 L590 235.9 L589.4 236.1 L589 236.2 L588.8 236.1 L588.6 235.9 L588.5 235.8 L588.3 235.6 L588.4 235.2 L588.5 234.7 L588.6 234.2 L588.7 233.7 L588.9 233.2 L589 232.8 L588.8 232.6 L588.7 232.4 L588.5 232.3 L588.3 232.1 L587.9 232.3 L587.4 232.4 L586.9 232.6 L586.4 232.7 L586 232.9 L585.5 233 L585.3 232.8 L585.2 232.7 L585 232.5 L584.8 232.3 L585 231.9 L585.1 231.4 L585.2 230.9 L585.4 230.4 L585.6 230 L585.7 229.5 L585.6 229.3 L585.4 229.2 L585.2 229 L585.1 228.8 L584.6 229 L584.1 229.1 L583.6 229.2 L583.2 229.3 L582.7 229.4 L582.2 229.5 L582.1 229.4 L581.9 229.2 L581.8 229 L581.6 228.8 L581.8 228.4 L581.9 227.9 L582.1 227.4 L582.3 227 L582.5 226.5 L582.7 226.1 L582.5 225.9 L582.4 225.7 L582.2 225.5 L582.1 225.4 L581.6 225.5 L581.1 225.5 L580.6 225.6 L580.1 225.7 L579.7 225.8 L579.2 225.9 L579 225.7 L578.9 225.5 L578.8 225.3 L578.6 225.1 L578.8 224.7 L579 224.2 L579.2 223.8 L579.4 223.3 L579.6 222.9 L579.8 222.4 L579.7 222.3 L579.6 222.1 L579.4 221.9 L579.3 221.7 L578.8 221.8 L578.3 221.8 L577.8 221.9 L577.3 221.9 L576.9 222 L576.4 222 L576.2 221.8 L576.1 221.7 L576 221.5 L575.8 221.3 L576.1 220.8 L576.3 220.4 L576.5 219.9 L576.8 219.5 L577 219.1 L577.2 218.6 L577.1 218.5 L577 218.3 L576.9 218.1 L576.7 217.9 L576.2 217.9 L575.7 217.9 L575.3 218 L574.8 218 L574.3 218 L573.8 218 L573.7 217.8 L573.6 217.6 L573.4 217.4 L573.3 217.2 L573.6 216.8 L573.8 216.4 L574.1 215.9 L574.3 215.5 L574.6 215.1 L574.9 214.7 L574.7 214.5 L574.6 214.3 L574.5 214.1 L574.4 213.9 L573.9 213.9 L573.4 213.9 L572.9 213.9 L572.4 213.9 L572 213.9 L571.5 213.9 L571.4 213.7 L571.2 213.5 L571.1 213.3 L571 213.1 L571.3 212.6 L571.6 212.2 L571.9 211.8 L572.2 211.4 L572.4 211 L572.7 210.6 L572.6 210.4 L572.5 210.2 L572.4 210 L572.3 209.8 L571.8 209.8 L571.4 209.7 L570.9 209.7 L570.4 209.7 L569.9 209.6 L569.4 209.6 L569.3 209.4 L569.2 209.2 L569.1 208.9 L569 208.7 L569.3 208.3 L569.6 207.9 L569.9 207.5 L570.3 207.2 L570.6 206.8 L570.9 206.4 L570.8 206.2 L570.7 206 L570.6 205.8 L570.6 205.5 L570.1 205.5 L569.6 205.4 L569.1 205.3 L568.6 205.3 L568.1 205.2 L567.6 205.1 L567.6 204.9 L567.5 204.6 L567.4 204.4 L567.3 204.2 L567.7 203.8 L568 203.5 L568.3 203.1 L568.7 202.8 L569 202.4 L569.4 202.1 L569.3 201.8 L569.2 201.6 L569.2 201.4 L569.1 201.2 L568.6 201.1 L568.2 201 L567.7 200.9 L567.2 200.8 L566.7 200.7 L566.2 200.4 L566.2 200.2 L566.1 200 L566.1 199.8 L566 199.6 L566.4 199.2 L566.7 198.9 L567.1 198.6 L567.5 198.2 L567.9 197.9 L568.2 197.6 L568.2 197.4 L568.2 197.2 L568.1 196.9 L568.1 196.7 L567.6 196.6 L567.1 196.4 L566.7 196.2 L566.2 196 L565.7 195.9 L565.3 195.7 L565.2 195.5 L565.2 195.3 L565.2 195 L565.1 194.7 L565.5 194.4 L566 194.1 L566.4 193.9 L566.8 193.6 L567.2 193.3 L567.6 193.1 L567.6 192.8 L567.6 192.6 L567.5 192.4 L567.5 192.1 L567.1 191.9 L566.7 191.7 L566.2 191.5 L565.8 191.3 L565.3 191 L564.9 190.7 L564.9 190.5 L564.9 190.3 L564.9 190 L564.9 189.8 L565.3 189.6 L565.8 189.2 L566.2 189 L566.7 188.8 L567.1 188.7 L567.6 188.5 L567.6 188.2 L567.6 188 L567.6 187.8 L567.7 187.5 L567.3 187.3 L566.9 187 L566.5 186.7 L566.1 186.4 L565.7 186.1 L565.3 185.6 L565.4 185.4 L565.4 185.2 L565.5 184.9 L565.5 184.7 L566 184.6 L566.5 184.3 L567 184.2 L567.5 184.1 L568 184 L568.5 183.9 L568.5 183.7 L568.6 183.5 L568.7 183.3 L568.8 183.1 L568.5 182.7 L568.1 182.3 L567.8 182 L567.6 181.4 L567.3 181 L567 180.6 L567.1 180.4 L567.2 180.2 L567.5 179.8 L567.6 179.6 L568.1 179.7 L568.6 179.7 L569.1 179.7 L569.5 179.8 L570.1 179.8 L570.6 179.9 L570.7 179.7 L570.8 179.5 L571 179.3 L571.1 179.2 L571 178.7 L570.9 178.2 L570.7 177.8 L570.6 177.3 L570.6 176.7 L570.5 176.2 L570.7 176.1 L570.9 175.9 L571.1 175.8 L571.5 175.5 L571.9 175.7 L572.3 176 L572.8 176.2 L573.2 176.4 L573.7 176.7 L574.1 177 L574.3 176.9 L574.5 176.8 L574.7 176.7 L574.9 176.6 L575 176.1 L575 175.6 L575.1 175.1 L575.2 174.6 L575.3 174.2" fill="none" stroke="#000" stroke-width="1.9" stroke-linejoin="round" stroke-linecap="round" />
<line x1="573.3" y1="175.2" x2="576.8" y2="179.4" stroke="#000" stroke-width="4.2" stroke-linecap="round"/>
<line x1="575.9" y1="174.3" x2="578.8" y2="178.8" stroke="#000" stroke-width="4.2" stroke-linecap="round"/>
<line x1="578.8" y1="173.9" x2="581" y2="178.7" stroke="#000" stroke-width="4.2" stroke-linecap="round"/>
<line x1="581.9" y1="174" x2="583.5" y2="179" stroke="#000" stroke-width="4.2" stroke-linecap="round"/>
<line x1="585.2" y1="174.6" x2="586.1" y2="179.8" stroke="#000" stroke-width="4.2" stroke-linecap="round"/>
<line x1="588.6" y1="175.8" x2="588.9" y2="181" stroke="#000" stroke-width="4.2" stroke-linecap="round"/>
<line x1="592.2" y1="177.4" x2="591.7" y2="182.6" stroke="#000" stroke-width="4.2" stroke-linecap="round"/>
<line x1="595.8" y1="179.6" x2="594.6" y2="184.7" stroke="#000" stroke-width="4.2" stroke-linecap="round"/>
<line x1="599.3" y1="182.1" x2="597.6" y2="187.1" stroke="#000" stroke-width="4.2" stroke-linecap="round"/>
<line x1="602.9" y1="185.1" x2="600.5" y2="189.8" stroke="#000" stroke-width="4.2" stroke-linecap="round"/>
<line x1="606.3" y1="188.4" x2="603.3" y2="192.8" stroke="#000" stroke-width="4.2" stroke-linecap="round"/>
<line x1="609.6" y1="192.1" x2="606" y2="196.1" stroke="#000" stroke-width="4.2" stroke-linecap="round"/>
<line x1="612.6" y1="196" x2="608.6" y2="199.5" stroke="#000" stroke-width="4.2" stroke-linecap="round"/>
<line x1="615.5" y1="200.1" x2="611" y2="203.1" stroke="#000" stroke-width="4.2" stroke-linecap="round"/>
<line x1="618" y1="204.3" x2="613.1" y2="206.8" stroke="#000" stroke-width="4.2" stroke-linecap="round"/>
<line x1="620.2" y1="208.6" x2="615" y2="210.6" stroke="#000" stroke-width="4.2" stroke-linecap="round"/>
<line x1="622" y1="213" x2="616.6" y2="214.3" stroke="#000" stroke-width="4.2" stroke-linecap="round"/>
<line x1="623.5" y1="217.3" x2="617.9" y2="218" stroke="#000" stroke-width="4.2" stroke-linecap="round"/>
<line x1="624.5" y1="221.4" x2="618.9" y2="221.6" stroke="#000" stroke-width="4.2" stroke-linecap="round"/>
<line x1="625.1" y1="225.5" x2="619.5" y2="225" stroke="#000" stroke-width="4.2" stroke-linecap="round"/>
<line x1="625.3" y1="229.2" x2="619.8" y2="228.1" stroke="#000" stroke-width="4.2" stroke-linecap="round"/>
<line x1="625.1" y1="232.7" x2="619.7" y2="231" stroke="#000" stroke-width="4.2" stroke-linecap="round"/>
<line x1="624.4" y1="235.9" x2="619.3" y2="233.6" stroke="#000" stroke-width="4.2" stroke-linecap="round"/>
<line x1="623.3" y1="238.7" x2="618.5" y2="235.8" stroke="#000" stroke-width="4.2" stroke-linecap="round"/>
<line x1="621.8" y1="241.1" x2="617.4" y2="237.7" stroke="#000" stroke-width="4.2" stroke-linecap="round"/>
<line x1="619.9" y1="243" x2="616" y2="239.2" stroke="#000" stroke-width="4.2" stroke-linecap="round"/>
<line x1="617.7" y1="244.4" x2="614.2" y2="240.2" stroke="#000" stroke-width="4.2" stroke-linecap="round"/>
<line x1="574.1" y1="176.1" x2="575.7" y2="178.2" stroke="#fff" stroke-width="1.3" stroke-linecap="round"/>
<line x1="576.5" y1="175.3" x2="577.9" y2="177.5" stroke="#fff" stroke-width="1.3" stroke-linecap="round"/>
<line x1="579.3" y1="174.9" x2="580.3" y2="177.3" stroke="#fff" stroke-width="1.3" stroke-linecap="round"/>
<line x1="582.2" y1="175.1" x2="583" y2="177.5" stroke="#fff" stroke-width="1.3" stroke-linecap="round"/>
<line x1="585.4" y1="175.8" x2="585.8" y2="178.3" stroke="#fff" stroke-width="1.3" stroke-linecap="round"/>
<line x1="588.7" y1="176.9" x2="588.8" y2="179.4" stroke="#fff" stroke-width="1.3" stroke-linecap="round"/>
<line x1="592.1" y1="178.6" x2="591.8" y2="181.1" stroke="#fff" stroke-width="1.3" stroke-linecap="round"/>
<line x1="595.5" y1="180.7" x2="595" y2="183.1" stroke="#fff" stroke-width="1.3" stroke-linecap="round"/>
<line x1="599" y1="183.2" x2="598.1" y2="185.6" stroke="#fff" stroke-width="1.3" stroke-linecap="round"/>
<line x1="602.4" y1="186.1" x2="601.2" y2="188.4" stroke="#fff" stroke-width="1.3" stroke-linecap="round"/>
<line x1="605.6" y1="189.4" x2="604.2" y2="191.5" stroke="#fff" stroke-width="1.3" stroke-linecap="round"/>
<line x1="608.8" y1="192.9" x2="607.1" y2="194.9" stroke="#fff" stroke-width="1.3" stroke-linecap="round"/>
<line x1="611.8" y1="196.7" x2="609.8" y2="198.5" stroke="#fff" stroke-width="1.3" stroke-linecap="round"/>
<line x1="614.5" y1="200.7" x2="612.3" y2="202.2" stroke="#fff" stroke-width="1.3" stroke-linecap="round"/>
<line x1="616.9" y1="204.9" x2="614.6" y2="206.1" stroke="#fff" stroke-width="1.3" stroke-linecap="round"/>
<line x1="619" y1="209.1" x2="616.5" y2="210" stroke="#fff" stroke-width="1.3" stroke-linecap="round"/>
<line x1="620.8" y1="213.3" x2="618.2" y2="213.9" stroke="#fff" stroke-width="1.3" stroke-linecap="round"/>
<line x1="622.2" y1="217.4" x2="619.6" y2="217.8" stroke="#fff" stroke-width="1.3" stroke-linecap="round"/>
<line x1="623.3" y1="221.5" x2="620.6" y2="221.5" stroke="#fff" stroke-width="1.3" stroke-linecap="round"/>
<line x1="623.9" y1="225.4" x2="621.2" y2="225.1" stroke="#fff" stroke-width="1.3" stroke-linecap="round"/>
<line x1="624.1" y1="229" x2="621.4" y2="228.5" stroke="#fff" stroke-width="1.3" stroke-linecap="round"/>
<line x1="623.9" y1="232.4" x2="621.3" y2="231.5" stroke="#fff" stroke-width="1.3" stroke-linecap="round"/>
<line x1="623.3" y1="235.4" x2="620.8" y2="234.3" stroke="#fff" stroke-width="1.3" stroke-linecap="round"/>
<line x1="622.2" y1="238.1" x2="619.9" y2="236.7" stroke="#fff" stroke-width="1.3" stroke-linecap="round"/>
<line x1="620.8" y1="240.3" x2="618.7" y2="238.7" stroke="#fff" stroke-width="1.3" stroke-linecap="round"/>
<line x1="619" y1="242.1" x2="617.1" y2="240.3" stroke="#fff" stroke-width="1.3" stroke-linecap="round"/>
<line x1="616.9" y1="243.5" x2="615.3" y2="241.4" stroke="#fff" stroke-width="1.3" stroke-linecap="round"/>
<path d="M617.9 241.5 L617 242 L616 242.5 L615 242.9 L613.9 243.2 L612.7 243.4 L611.5 243.4 L610.2 243.4 L608.9 243.3 L607.6 243 L606.2 242.7 L604.8 242.3 L603.3 241.7 L601.8 241.1 L600.4 240.4 L598.9 239.5 L597.3 238.6 L595.8 237.6 L594.3 236.5 L592.8 235.4 L591.3 234.1 L589.8 232.8 L588.3 231.4 L586.8 230 L585.4 228.5 L584 226.9 L582.6 225.2 L581.3 223.6 L580 221.9 L578.8 220.1 L577.6 218.3 L576.5 216.5 L575.4 214.7 L574.4 212.8 L573.5 211 L572.6 209.1 L571.8 207.3 L571 205.4 L570.4 203.6 L569.8 201.8 L569.3 200 L568.9 198.2 L568.5 196.5 L568.2 194.8 L568.1 193.2 L568 191.6 L568 190 L568 188.6 L568.2 187.2 L568.4 185.8 L568.8 184.6 L569.2 183.4 L569.6 182.3 L570.2 181.2 L570.9 180.3 L571.6 179.4 L572.4 178.7 L573.2 178 L574.1 177.5 L575.1 177 L576.2 176.6" fill="none" stroke="#000" stroke-width="1.3" stroke-linejoin="round" stroke-linecap="round" />
<path d="M614 239 L613 239.5 L612 239.9 L610.9 240.1 L609.7 240.2 L608.4 240.1 L607.1 239.9 L605.7 239.5 L604.3 239 L602.8 238.3 L601.3 237.5 L599.8 236.6 L598.2 235.5 L596.6 234.3 L595 233 L593.5 231.5 L591.9 230 L590.4 228.4 L588.8 226.7 L587.3 224.9 L585.9 223 L584.5 221 L583.1 219 L581.8 217 L580.6 214.9 L579.5 212.8 L578.4 210.7 L577.4 208.6 L576.5 206.5 L575.7 204.4 L575 202.3 L574.4 200.3 L573.9 198.3 L573.5 196.3 L573.2 194.5 L573 192.7 L572.9 191 L572.9 189.4 L573.1 187.8 L573.3 186.4 L573.7 185.1 L574.1 184 L574.7 182.9 L575.4 182 L576.1 181.2 L577 180.6 L578 180.1 L579 179.7 L580.1 179.5 L581.3 179.4 L582.6 179.5 L583.9 179.7 L585.3 180.1 L586.7 180.6 L588.2 181.3 L589.7 182.1 L591.2 183 L592.8 184.1 L594.4 185.3 L596 186.6 L597.5 188.1 L599.1 189.6 L600.6 191.2 L602.2 192.9 L603.7 194.7 L605.1 196.6 L606.5 198.6 L607.9 200.6 L609.2 202.6 L610.4 204.7 L611.5 206.8 L612.6 208.9 L613.6 211 L614.5 213.1 L615.3 215.2 L616 217.3 L616.6 219.3 L617.1 221.3 L617.5 223.3 L617.8 225.1 L618 226.9 L618.1 228.6 L618.1 230.2 L617.9 231.8 L617.7 233.2 L617.3 234.5 L616.9 235.6 L616.3 236.7 L615.6 237.6 L614.9 238.4 L614 239 Z" fill="none" stroke="#000" stroke-width="1.8" stroke-linejoin="round" stroke-linecap="round" />
<path d="M608 238.1 L606.7 237.9 L605.4 237.4 L604 236.8 L602.6 236.1 L601.1 235.2 L599.6 234.2 L598.1 233.1 L596.6 231.8 L595 230.4 L593.5 228.9 L592 227.3 L590.5 225.5 L589 223.7 L587.5 221.9 L586.1 219.9 L584.8 217.9 L583.5 215.9 L582.3 213.8 L581.1 211.7 L580.1 209.6 L579.1 207.5 L578.2 205.4 L577.4 203.3 L576.7 201.3 L576.1 199.3 L575.6 197.3 L575.2 195.5 L574.9 193.7 L574.8 192 L574.7 190.4 L574.8 188.9 L575 187.5 L575.3 186.3 L575.7 185.2 L576.2 184.2 L576.8 183.3 L577.6 182.6 L578.4 182.1 L579.3 181.7 L580.3 181.4" fill="none" stroke="#000" stroke-width="1.1" stroke-linejoin="round" stroke-linecap="round" />
<circle cx="588" cy="226" r="1.8" fill="#000"/>
<path d="M588.5 183.4 L588.7 183.5 L588.9 183.6 L589.1 183.8 L589.1 184.2 L589.2 184.6 L589.1 185 L589.2 185.4 L589.2 185.8 L589.2 186.2 L589.4 186.3 L589.6 186.4 L589.9 186.2 L590.3 186.1 L590.6 185.9 L591 185.8 L591.4 185.7 L591.8 185.5 L592 185.6 L592.2 185.8 L592.3 185.9 L592.5 186.1 L592.7 186.2 L592.9 186.3 L592.9 186.8 L592.8 187.1 L592.8 187.5 L592.7 188 L592.7 188.4 L592.7 188.8 L592.9 188.9 L593 189 L593.4 188.9 L593.8 188.8 L594.2 188.7 L594.6 188.6 L594.9 188.5 L595.3 188.4 L595.5 188.6 L595.7 188.7 L595.8 188.9 L596 189.1 L596.2 189.2 L596.3 189.4 L596.3 189.8 L596.2 190.2 L596.1 190.6 L596.1 191 L596 191.3 L595.9 191.7 L596.1 191.9 L596.2 192.1 L596.6 192 L597 191.9 L597.4 191.8 L597.8 191.8 L598.2 191.7 L598.6 191.7 L598.8 191.8 L598.9 192 L599.1 192.2 L599.2 192.3 L599.4 192.5 L599.5 192.7 L599.4 193.1 L599.3 193.5 L599.2 193.9 L599.1 194.3 L599 194.6 L598.9 195 L599.1 195.2 L599.2 195.4 L599.6 195.3 L600 195.3 L600.4 195.2 L600.8 195.2 L601.2 195.2 L601.6 195.1 L601.8 195.3 L601.9 195.5 L602 195.7 L602.2 195.8 L602.3 196 L602.5 196.2 L602.4 196.6 L602.2 197 L602.1 197.4 L602 197.7 L601.8 198.1 L601.7 198.5 L601.9 198.7 L602 198.9 L602.4 198.8 L602.8 198.8 L603.2 198.8 L603.6 198.8 L604 198.8 L604.4 198.8 L604.5 199 L604.7 199.2 L604.8 199.3 L604.9 199.5 L605.1 199.7 L605.2 199.9 L605 200.3 L604.9 200.7 L604.8 201 L604.6 201.4 L604.5 201.8 L604.3 202.1 L604.4 202.3 L604.5 202.5 L604.9 202.5 L605.3 202.5 L605.8 202.6 L606.2 202.6 L606.6 202.6 L607 202.6 L607.1 202.8 L607.2 203 L607.3 203.2 L607.4 203.4 L607.6 203.6 L607.7 203.8 L607.5 204.1 L607.4 204.5 L607.2 204.9 L607 205.2 L606.8 205.6 L606.7 206 L606.8 206.2 L606.9 206.4 L607.3 206.4 L607.7 206.4 L608.1 206.4 L608.5 206.5 L608.9 206.5 L609.3 206.5 L609.4 206.8 L609.5 207 L609.6 207.2 L609.7 207.4 L609.9 207.6 L610 207.8 L609.8 208.1 L609.6 208.5 L609.4 208.8 L609.2 209.2 L609 209.6 L608.8 209.9 L608.9 210.1 L609 210.3 L609.4 210.3 L609.8 210.4 L610.2 210.5 L610.6 210.5 L611 210.6 L611.4 210.6 L611.5 210.8 L611.6 211 L611.7 211.3 L611.8 211.5 L611.9 211.7 L612 211.9 L611.8 212.2 L611.6 212.6 L611.4 212.9 L611.1 213.2 L610.9 213.6 L610.7 213.9 L610.8 214.1 L610.9 214.4 L611.3 214.4 L611.7 214.5 L612.1 214.6 L612.5 214.7 L612.8 214.8 L613.2 214.8 L613.3 215.1 L613.4 215.3 L613.5 215.5 L613.6 215.7 L613.7 215.9 L613.7 216.1 L613.5 216.5 L613.3 216.8 L613 217.1 L612.8 217.5 L612.5 217.7 L612.3 218.1 L612.4 218.3 L612.4 218.5 L612.8 218.6 L613.2 218.7 L613.6 218.8 L614 219 L614.4 219.1 L614.8 219.2 L614.8 219.4 L614.9 219.6 L615 219.8 L615 220.1 L615.1 220.3 L615.1 220.5 L614.9 220.8 L614.6 221.1 L614.3 221.4 L614.1 221.7 L613.8 222 L613.5 222.3 L613.6 222.5 L613.6 222.7 L614 222.9 L614.4 223 L614.8 223.2 L615.1 223.3 L615.5 223.5 L615.9 223.6 L615.9 223.9 L615.9 224.1 L616 224.3 L616 224.5 L616.1 224.8 L616.1 225 L615.8 225.3 L615.5 225.5 L615.2 225.8 L614.9 226.1 L614.6 226.3 L614.3 226.5 L614.3 226.8 L614.3 227 L614.6 227.2 L615 227.4 L615.3 227.5 L615.7 227.8 L616 228 L616.3 228.2 L616.4 228.4 L616.3 228.7 L616.3 228.9 L616.3 229.1 L616.3 229.4 L616.3 229.6 L616 229.8 L615.6 230 L615.3 230.2 L614.9 230.4 L614.6 230.6 L614.2 230.6 L614.2 230.8 L614.1 231.1 L614.4 231.3 L614.7 231.5 L615 231.8 L615.2 232.1 L615.5 232.4 L615.8 232.7 L615.7 233 L615.6 233.2 L615.5 233.4 L615.4 233.6 L615.3 233.8 L615.2 234 L614.8 234.1 L614.4 234 L614 234 L613.6 234 L613.2 234" fill="none" stroke="#000" stroke-width="1.4" stroke-linejoin="round" stroke-linecap="round" />
<path d="M558.5,227.5 L566,222.5" fill="none" stroke="#000" stroke-width="5.5" stroke-linejoin="round" stroke-linecap="round" />
<path d="M558.5,227.5 L566,222.5" fill="none" stroke="#fff" stroke-width="2.2" stroke-linejoin="round" stroke-linecap="round" />
<path d="M721,92.5 L734,85 L738,92 L725,99.5 Z" fill="#fff" stroke="#000" stroke-width="1.9" stroke-linejoin="round" stroke-linecap="round" />
<path d="M727,90 L730,96.5 M730,88.5 L733,94.5" fill="none" stroke="#000" stroke-width="1.4" stroke-linejoin="round" stroke-linecap="round" />
<path d="M732 82 L732.2 81.5 L732.5 81.1 L732.8 80.7 L733.2 80.4 L733.6 80 L734.1 79.8 L734.6 79.5 L735.1 79.2 L735.6 79 L736.1 78.8 L736.6 78.7 L737 78.5 L737.4 78.4 L737.9 78.3 L738.3 78.2 L738.7 78.1 L739.2 78.1 L739.6 78.1 L740 78.1 L740.4 78.1 L740.9 78.2 L741.3 78.3 L741.6 78.4 L742 78.5 L742.4 78.7 L742.7 78.9 L743.1 79.1 L743.4 79.4 L743.7 79.6 L744.1 79.9 L744.4 80.3 L744.6 80.6 L744.9 80.9 L745.1 81.3 L745.3 81.6 L745.5 82 L745.6 82.4 L745.7 82.8 L745.8 83.2 L745.9 83.6 L745.9 84 L745.9 84.5 L745.9 84.9 L745.9 85.4 L745.8 85.8 L745.7 86.2 L745.6 86.6 L745.5 87 L745.3 87.4 L745.1 87.8 L744.9 88.1 L744.6 88.5 L744.4 88.9 L744.1 89.2 L743.7 89.6 L743.4 89.9 L743.1 90.2 L742.7 90.5 L742.4 90.8 L742 91 L741.6 91.2 L741.2 91.4 L740.8 91.6 L740.4 91.8 L739.9 92 L739.5 92.2 L739.1 92.3 L738.6 92.4 L738.2 92.5 L737.8 92.5 L737.4 92.5 L737 92.5 L736.6 92.4 L736.3 92.4 L736 92.3 L735.6 92.2 L735.3 92 L735 91.8 L734.7 91.6 L734.5 91.4 L734.2 91.1 L734 90.8 L733.7 90.4 L733.5 90 L733.3 89.5 L733.1 88.9 L732.8 88.3 L732.6 87.6 L732.4 86.8 L732.2 86.1 L732.1 85.3 L731.9 84.5 L731.9 83.8 L731.9 83.1 L731.9 82.5 L732 82 Z" fill="#fff" stroke="#000" stroke-width="2" stroke-linejoin="round" stroke-linecap="round" />
<path d="M735.5,81 L738,86 L737,92 M738,86 L745,84.5" fill="none" stroke="#000" stroke-width="1.1" stroke-linejoin="round" stroke-linecap="round" />
<ellipse cx="740.5" cy="84.5" rx="2.2" ry="2.6" transform="rotate(-30 740.5 84.5)" fill="none" stroke="#000" stroke-width="1.1"/>
<ellipse cx="723.2" cy="96" rx="3.2" ry="4.2" transform="rotate(-58 723.2 96)" fill="#fff" stroke="#000" stroke-width="2"/>
<path d="M517.4 159.6 L517.9 158.7 L518.5 158 L519.2 157.5 L520 157 L520.7 156.7 L521.6 156.4 L522.4 156.2 L523.2 156.1 L524.1 155.9 L524.9 155.9 L525.7 155.8 L526.4 155.7 L527.1 155.6 L527.7 155.6 L528.4 155.5 L529 155.5 L529.6 155.5 L530.2 155.6 L530.8 155.8 L531.5 155.9 L532.1 156.2 L532.8 156.5 L533.5 156.9 L534.3 157.3 L535.1 157.8 L536 158.5 L536.9 159.1 L537.9 159.9 L538.8 160.7 L539.8 161.6 L540.8 162.5 L541.8 163.5 L542.8 164.4 L543.7 165.4 L544.6 166.4 L545.5 167.4 L546.4 168.4 L547.2 169.5 L548.1 170.6 L548.9 171.7 L549.8 172.9 L550.6 174.1 L551.4 175.3 L552.1 176.4 L552.8 177.6 L553.5 178.7 L554 179.8 L554.5 180.9 L554.9 181.9 L555.2 183 L555.5 184 L555.7 185 L555.9 186 L556 186.9 L556.1 187.9 L556.2 188.8 L556.2 189.7 L556.2 190.5 L556.1 191.3 L556.1 192.1 L556 192.8 L555.9 193.5 L555.8 194.1 L555.7 194.7 L555.5 195.3 L555.3 195.9 L555 196.4 L554.8 196.9 L554.5 197.4 L554.1 197.9 L553.7 198.3 L553.3 198.8 L552.8 199.3 L552.3 199.7 L551.7 200.1 L551.1 200.6 L550.5 201 L549.8 201.4 L549.1 201.7 L548.4 202.1 L547.7 202.4 L547 202.7 L546.2 203 L545.5 203.3 L544.8 203.6 L544 203.9 L543.3 204.2 L542.5 204.5 L541.7 204.7 L541 205 L540.2 205.2 L539.3 205.3 L538.5 205.4 L537.7 205.4 L536.8 205.2 L536 205 L535.1 204.7 L534.2 204.2 L533.3 203.7 L532.4 203.1 L531.5 202.5 L530.5 201.7 L529.6 200.9 L528.6 200.1 L527.7 199.1 L526.8 198.1 L525.9 197.1 L525 196 L524.1 194.8 L523.1 193.5 L522.1 192.1 L521.1 190.7 L520.1 189.2 L519.2 187.6 L518.2 186 L517.4 184.4 L516.6 182.7 L515.9 181.1 L515.4 179.5 L515 178 L514.7 176.4 L514.6 174.8 L514.6 173.1 L514.6 171.4 L514.8 169.6 L515 167.9 L515.3 166.3 L515.7 164.7 L516 163.2 L516.5 161.8 L516.9 160.6 L517.4 159.6 Z" fill="#fff" stroke="#000" stroke-width="1.9" stroke-linejoin="round" stroke-linecap="round" />
<path d="M523 162 L523.4 161.9 L524 161.7 L524.6 161.4 L525.3 161.1 L526 160.8 L526.8 160.5 L527.7 160.2 L528.5 160 L529.4 159.8 L530.3 159.8 L531.2 159.8 L532 160 L532.9 160.3 L533.8 160.7 L534.7 161.2 L535.6 161.7 L536.6 162.4 L537.6 163.1 L538.5 163.8 L539.5 164.6 L540.4 165.4 L541.3 166.3 L542.2 167.1 L543 168 L543.8 168.9 L544.6 169.9 L545.4 170.9 L546.1 172 L546.8 173.1 L547.6 174.2 L548.2 175.4 L548.9 176.6 L549.5 177.7 L550 178.8 L550.6 179.9 L551 181 L551.4 182.1 L551.7 183.1 L552 184.2 L552.3 185.3 L552.5 186.4 L552.7 187.4 L552.8 188.5 L552.9 189.5 L553 190.4 L553 191.4 L553 192.2 L553 193 L552.9 193.7 L552.8 194.4 L552.5 195.1 L552.3 195.7 L552 196.2 L551.6 196.8 L551.3 197.2 L551 197.7 L550.7 198.1 L550.4 198.4 L550.2 198.7 L550 199" fill="none" stroke="#000" stroke-width="1.2" stroke-linejoin="round" stroke-linecap="round" />
<circle cx="529.8" cy="169.1" r="2" fill="#000"/>
<path d="M503.4 172 L503.6 171.1 L504 170.3 L504.4 169.5 L504.8 168.9 L505.3 168.3 L505.9 167.8 L506.5 167.3 L507.1 166.9 L507.8 166.6 L508.4 166.3 L509 166 L509.6 165.8 L510.2 165.6 L510.8 165.5 L511.4 165.4 L512 165.4 L512.6 165.4 L513.2 165.5 L513.8 165.6 L514.5 165.8 L515.2 166 L515.9 166.3 L516.6 166.6 L517.4 166.9 L518.2 167.3 L519.1 167.7 L520 168.1 L521 168.6 L521.9 169.2 L522.9 169.8 L523.9 170.4 L524.9 171.1 L525.9 171.8 L526.8 172.6 L527.8 173.4 L528.7 174.2 L529.6 175.1 L530.5 176.1 L531.5 177.1 L532.4 178.2 L533.4 179.4 L534.3 180.5 L535.2 181.7 L536.1 182.9 L536.9 184.1 L537.6 185.3 L538.2 186.5 L538.8 187.6 L539.3 188.7 L539.7 189.9 L540 191.1 L540.3 192.2 L540.6 193.4 L540.7 194.6 L540.9 195.7 L541 196.9 L541 198 L541 199 L541 200 L541 201 L540.9 201.9 L540.8 202.8 L540.7 203.7 L540.5 204.6 L540.3 205.5 L540 206.3 L539.7 207 L539.3 207.7 L539 208.4 L538.5 209 L538.1 209.5 L537.6 210 L537.1 210.4 L536.5 210.8 L535.9 211.1 L535.2 211.3 L534.5 211.5 L533.8 211.7 L533 211.7 L532.2 211.8 L531.4 211.7 L530.5 211.6 L529.6 211.4 L528.7 211.2 L527.7 210.9 L526.7 210.5 L525.6 210 L524.4 209.5 L523.2 208.9 L522 208.2 L520.8 207.5 L519.6 206.8 L518.5 206 L517.3 205.1 L516.2 204.2 L515.2 203.3 L514.2 202.3 L513.2 201.3 L512.2 200.2 L511.2 199 L510.3 197.8 L509.4 196.6 L508.5 195.3 L507.6 194 L506.9 192.7 L506.2 191.4 L505.5 190.1 L505 188.8 L504.5 187.4 L504.1 186 L503.8 184.5 L503.5 183 L503.3 181.4 L503.2 179.9 L503.1 178.4 L503 176.9 L503.1 175.5 L503.1 174.2 L503.2 173 L503.4 172 Z" fill="#fff" stroke="#000" stroke-width="2" stroke-linejoin="round" stroke-linecap="round" />
<path d="M510.7 175.3 L511.1 174.8 L511.6 174.4 L512.1 174 L512.6 173.6 L513.2 173.3 L513.8 173 L514.5 172.9 L515.2 172.7 L515.9 172.7 L516.6 172.7 L517.3 172.8 L518 173 L518.8 173.3 L519.6 173.7 L520.4 174.2 L521.3 174.8 L522.2 175.5 L523.1 176.2 L524.1 176.9 L524.9 177.7 L525.8 178.5 L526.6 179.4 L527.3 180.2 L528 181 L528.6 181.8 L529.2 182.7 L529.7 183.5 L530.2 184.4 L530.6 185.4 L531 186.3 L531.4 187.2 L531.8 188.2 L532.1 189.2 L532.4 190.1 L532.7 191.1 L533 192 L533.3 193 L533.5 194 L533.8 195 L534 196.1 L534.3 197.2 L534.5 198.3 L534.6 199.3 L534.7 200.3 L534.7 201.2 L534.7 202 L534.5 202.7 L534.3 203.3 L534 203.8 L533.5 204.2 L533 204.5 L532.4 204.8 L531.8 205 L531.1 205.1 L530.3 205.1 L529.6 205.1 L528.8 205 L528 204.9 L527.2 204.7 L526.4 204.5 L525.6 204.2 L524.8 203.8 L523.9 203.3 L523 202.8 L522.1 202.2 L521.1 201.6 L520.2 200.9 L519.3 200.2 L518.4 199.4 L517.6 198.6 L516.8 197.8 L516 197 L515.3 196.2 L514.5 195.2 L513.8 194.3 L513.1 193.2 L512.4 192.2 L511.7 191.1 L511.1 190.1 L510.6 189 L510.1 187.9 L509.6 186.9 L509.3 185.9 L509 185 L508.8 184.1 L508.7 183.2 L508.7 182.2 L508.7 181.3 L508.8 180.4 L509 179.5 L509.2 178.7 L509.4 177.9 L509.7 177.2 L510 176.5 L510.3 175.8 L510.7 175.3 Z" fill="none" stroke="#000" stroke-width="1.7" stroke-linejoin="round" stroke-linecap="round" />
<path d="M514 178 L514.4 178.2 L514.9 178.4 L515.5 178.6 L516.2 178.8 L516.9 179.1 L517.7 179.4 L518.5 179.7 L519.3 180.1 L520 180.5 L520.7 180.9 L521.4 181.4 L522 182 L522.5 182.6 L523.1 183.3 L523.6 184.1 L524 185 L524.5 185.8 L524.9 186.8 L525.4 187.7 L525.7 188.6 L526.1 189.5 L526.4 190.4 L526.7 191.2 L527 192 L527.2 192.8 L527.4 193.5 L527.6 194.3 L527.7 195.1 L527.8 195.9 L527.8 196.6 L527.9 197.3 L527.9 198 L527.9 198.6 L527.9 199.2 L528 199.6 L528 200" fill="none" stroke="#000" stroke-width="1.1" stroke-linejoin="round" stroke-linecap="round" />
<path d="M537,205 C542,200 548,199 553,199" fill="none" stroke="#000" stroke-width="1.7" stroke-linejoin="round" stroke-linecap="round" />
<path d="M504,178 C508,180 513,178 516,175" fill="none" stroke="#000" stroke-width="1.3" stroke-linejoin="round" stroke-linecap="round" />
<path d="M527,196 L531,196 L532,200" fill="none" stroke="#000" stroke-width="1.3" stroke-linejoin="round" stroke-linecap="round" />
<path d="M522 227.8 L522.2 227.2 L522.6 226.7 L523 226.2 L523.5 225.8 L524 225.5 L524.6 225.3 L525.3 225 L525.9 224.8 L526.6 224.6 L527.2 224.4 L527.9 224.2 L528.5 224 L529.1 223.8 L529.7 223.5 L530.3 223.3 L531 223.1 L531.6 222.9 L532.3 222.7 L532.9 222.5 L533.6 222.4 L534.3 222.2 L534.9 222.1 L535.6 222.1 L536.2 222 L536.8 222 L537.5 221.9 L538.1 221.9 L538.7 222 L539.4 222 L540 222.1 L540.6 222.2 L541.3 222.3 L541.9 222.4 L542.5 222.6 L543.2 222.8 L543.8 223 L544.4 223.3 L545.1 223.5 L545.7 223.8 L546.4 224.2 L547.1 224.5 L547.7 224.9 L548.4 225.3 L549 225.7 L549.7 226.2 L550.3 226.7 L550.9 227.2 L551.5 227.8 L552.1 228.4 L552.7 229 L553.3 229.7 L553.9 230.4 L554.4 231.1 L555 231.9 L555.5 232.7 L556.1 233.5 L556.6 234.3 L557.1 235.1 L557.6 235.9 L558 236.8 L558.4 237.7 L558.8 238.6 L559.2 239.5 L559.6 240.5 L560 241.5 L560.3 242.5 L560.6 243.5 L560.9 244.5 L561.2 245.5 L561.4 246.4 L561.6 247.4 L561.8 248.3 L561.9 249.2 L562 250.1 L562.1 251 L562.2 251.9 L562.2 252.8 L562.2 253.7 L562.2 254.6 L562.1 255.4 L562.1 256.2 L562 257 L561.9 257.8 L561.8 258.6 L561.7 259.3 L561.5 260.1 L561.4 260.8 L561.2 261.5 L561 262.1 L560.8 262.8 L560.6 263.4 L560.3 264 L560.1 264.6 L559.8 265.2 L559.5 265.8 L559.2 266.3 L558.9 266.8 L558.5 267.3 L558.1 267.8 L557.7 268.3 L557.3 268.7 L556.9 269.2 L556.4 269.6 L556 270 L555.5 270.4 L555.1 270.7 L554.6 271.1 L554.1 271.4 L553.6 271.7 L553.1 272 L552.6 272.3 L552.1 272.5 L551.5 272.8 L551 273 L550.4 273.2 L549.9 273.4 L549.3 273.6 L548.8 273.7 L548.2 273.9 L547.7 274 L547.2 274.1 L546.7 274.3 L546.2 274.5 L545.7 274.6 L545.2 274.8 L544.7 274.9 L544.2 275 L543.6 275 L543.1 274.9 L542.5 274.7 L541.9 274.4 L541.3 274 L540.6 273.5 L539.9 272.8 L539.1 272.1 L538.4 271.3 L537.6 270.4 L536.8 269.4 L535.9 268.3 L535.1 267.2 L534.3 266 L533.5 264.7 L532.7 263.4 L532 262 L531.3 260.5 L530.5 258.8 L529.8 257 L529 255 L528.3 253 L527.5 251 L526.8 249 L526.2 247 L525.5 245 L525 243.2 L524.5 241.5 L524 240 L523.6 238.6 L523.2 237.3 L522.9 236.1 L522.6 234.9 L522.3 233.8 L522.1 232.8 L521.9 231.8 L521.8 230.9 L521.8 230 L521.8 229.2 L521.8 228.5 L522 227.8 Z" fill="#fff" stroke="#000" stroke-width="1.9" stroke-linejoin="round" stroke-linecap="round" />
<path d="M524.6 229.1 L525 229.1 L525.4 229.2 L526 229.2 L526.5 229.2 L527.2 229.3 L527.9 229.3 L528.6 229.4 L529.4 229.5 L530.1 229.7 L530.9 229.9 L531.6 230.1 L532.3 230.4 L533 230.7 L533.8 231.1 L534.5 231.6 L535.3 232.1 L536.1 232.6 L536.9 233.1 L537.7 233.7 L538.4 234.3 L539.2 234.9 L539.9 235.5 L540.6 236.2 L541.3 236.8 L541.9 237.5 L542.5 238.1 L543.1 238.8 L543.7 239.6 L544.3 240.3 L544.8 241.1 L545.3 241.8 L545.9 242.6 L546.3 243.4 L546.8 244.2 L547.3 245 L547.7 245.8 L548.1 246.6 L548.5 247.4 L548.9 248.3 L549.3 249.2 L549.6 250 L549.9 250.9 L550.2 251.8 L550.5 252.6 L550.8 253.5 L551 254.4 L551.3 255.2 L551.5 256 L551.7 256.8 L551.9 257.6 L552.1 258.4 L552.3 259.2 L552.4 260 L552.5 260.8 L552.7 261.6 L552.7 262.3 L552.8 263.1 L552.8 263.7 L552.8 264.4 L552.8 265 L552.7 265.6 L552.6 266.1 L552.4 266.6 L552.2 267.1 L551.9 267.6 L551.6 268.1 L551.4 268.5 L551.1 268.9 L550.8 269.2 L550.6 269.5 L550.4 269.8 L550.3 270" fill="none" stroke="#000" stroke-width="2.9" stroke-linejoin="round" stroke-linecap="round" />
<path d="M522 231.7 L522.5 232 L523.2 232.4 L523.9 232.8 L524.8 233.2 L525.8 233.7 L526.8 234.3 L527.8 234.9 L528.8 235.5 L529.8 236.1 L530.7 236.7 L531.5 237.4 L532.3 238 L533 238.7 L533.6 239.3 L534.2 240 L534.8 240.8 L535.3 241.5 L535.8 242.2 L536.3 243 L536.8 243.8 L537.3 244.6 L537.8 245.4 L538.2 246.2 L538.7 247 L539.2 247.8 L539.7 248.7 L540.1 249.5 L540.6 250.4 L541 251.3 L541.5 252.2 L541.9 253 L542.3 253.9 L542.7 254.8 L543.1 255.6 L543.5 256.5 L543.8 257.3 L544.1 258.1 L544.4 258.9 L544.7 259.7 L545 260.5 L545.3 261.3 L545.6 262.1 L545.8 262.8 L546 263.6 L546.2 264.3 L546.3 265 L546.4 265.7 L546.4 266.3 L546.4 266.9 L546.3 267.5 L546.1 268.1 L545.9 268.7 L545.6 269.2 L545.4 269.7 L545.1 270.2 L544.8 270.6 L544.5 271.1 L544.3 271.4 L544.1 271.7 L544 272" fill="none" stroke="#000" stroke-width="1.4" stroke-linejoin="round" stroke-linecap="round" />
<path d="M496.4 229.1 L496.6 228.9 L497 228.6 L497.3 228.2 L497.7 227.8 L498.2 227.4 L498.6 227 L499.1 226.5 L499.6 226.1 L500.1 225.6 L500.6 225.2 L501.1 224.9 L501.5 224.6 L501.9 224.4 L502.4 224.1 L502.8 223.9 L503.2 223.8 L503.7 223.6 L504.1 223.5 L504.5 223.3 L505 223.2 L505.4 223.1 L505.8 223.1 L506.3 223 L506.7 223 L507.1 223 L507.5 223 L507.9 223 L508.2 223 L508.6 223 L508.9 223.1 L509.3 223.2 L509.7 223.3 L510.2 223.4 L510.7 223.6 L511.2 223.8 L511.8 224 L512.5 224.3 L513.2 224.6 L514 224.9 L514.8 225.2 L515.7 225.6 L516.6 226 L517.5 226.4 L518.4 226.9 L519.3 227.4 L520.2 227.9 L521.1 228.5 L522 229.1 L522.9 229.8 L523.8 230.5 L524.7 231.3 L525.6 232.1 L526.5 233 L527.5 233.8 L528.4 234.8 L529.2 235.7 L530.1 236.6 L530.9 237.6 L531.6 238.5 L532.3 239.4 L532.9 240.4 L533.5 241.4 L534.1 242.5 L534.6 243.6 L535.1 244.7 L535.5 245.8 L535.9 246.9 L536.3 247.9 L536.6 248.8 L536.9 249.6 L537.2 250.3 L537.4 250.9 L538.7 275.3 L540 279 L540.6 284.2 L537.4 286.8 L532.3 285.5 L526 290 L515 293 L508 285 L505 262 L496.4 239.4 Z" fill="#fff" stroke="#000" stroke-width="1.9" stroke-linejoin="round" stroke-linecap="round" />
<path d="M497.7 231.7 L497.9 231.5 L498.2 231.2 L498.6 230.9 L499 230.5 L499.4 230.2 L499.9 229.7 L500.3 229.3 L500.8 229 L501.3 228.6 L501.8 228.3 L502.3 228 L502.8 227.8 L503.3 227.6 L503.8 227.5 L504.2 227.4 L504.7 227.3 L505.2 227.2 L505.8 227.2 L506.3 227.1 L506.8 227.2 L507.4 227.3 L508 227.4 L508.6 227.6 L509.2 227.8 L509.9 228.1 L510.5 228.5 L511.2 228.9 L512 229.3 L512.7 229.8 L513.5 230.4 L514.2 230.9 L515 231.5 L515.8 232.2 L516.6 232.8 L517.4 233.5 L518.2 234.2 L519 234.9 L519.9 235.7 L520.8 236.5 L521.7 237.4 L522.7 238.3 L523.6 239.2 L524.5 240.1 L525.4 241 L526.3 241.9 L527.1 242.8 L527.8 243.7 L528.5 244.5 L529.1 245.3 L529.7 246.2 L530.3 247.1 L530.8 247.9 L531.3 248.8 L531.7 249.6 L532.1 250.5 L532.5 251.2 L532.8 251.9 L533.1 252.5 L533.4 253.1 L533.6 253.5" fill="none" stroke="#000" stroke-width="1.4" stroke-linejoin="round" stroke-linecap="round" />
<path d="M533.6 253.5 L532.3 275.3 L533.6 276.5" fill="none" stroke="#000" stroke-width="1.4" stroke-linejoin="round" stroke-linecap="round" />
<path d="M487 246 L509.2 234.2 L515.6 236.8 L523.3 244.5 L524.6 253.5 L520 280 L500 290 L490 270 Z" fill="#fff" stroke="#000" stroke-width="0" stroke-linejoin="round" stroke-linecap="round" />
<path d="M488,245.5 L509.2,234.2" fill="none" stroke="#000" stroke-width="1.7" stroke-linejoin="round" stroke-linecap="round" />
<path d="M509.2 234.2 L509.5 234.3 L509.9 234.4 L510.3 234.5 L510.8 234.7 L511.3 234.8 L511.9 235 L512.5 235.2 L513.1 235.5 L513.8 235.7 L514.4 236 L515 236.4 L515.6 236.8 L516.2 237.3 L516.9 237.8 L517.6 238.3 L518.3 238.9 L519 239.6 L519.8 240.3 L520.5 240.9 L521.2 241.6 L521.8 242.4 L522.4 243.1 L522.9 243.8 L523.3 244.5 L523.6 245.2 L523.9 246 L524.1 246.9 L524.3 247.7 L524.4 248.6 L524.4 249.5 L524.5 250.3 L524.5 251.1 L524.5 251.9 L524.5 252.5 L524.6 253.1 L524.6 253.5" fill="none" stroke="#000" stroke-width="1.5" stroke-linejoin="round" stroke-linecap="round" />
<circle cx="515.6" cy="257.3" r="2" fill="#000"/>
<path d="M472 246.5 L472.2 246.3 L472.3 246.1 L472.5 245.8 L472.8 245.4 L473 245.1 L473.3 244.7 L473.6 244.3 L473.9 244 L474.2 243.6 L474.6 243.3 L474.9 243 L475.3 242.7 L475.7 242.5 L476.1 242.2 L476.6 242 L477 241.8 L477.5 241.6 L478 241.5 L478.5 241.3 L479 241.2 L479.6 241.1 L480.1 240.9 L480.5 240.9 L481 240.8 L481.4 240.7 L481.8 240.7 L482.2 240.7 L482.6 240.6 L482.9 240.6 L483.3 240.6 L483.7 240.7 L484.1 240.7 L484.6 240.8 L485 241 L485.6 241.2 L486.2 241.4 L486.9 241.7 L487.6 242 L488.4 242.4 L489.2 242.8 L490.1 243.3 L491 243.7 L491.9 244.3 L492.8 244.8 L493.7 245.4 L494.6 246 L495.5 246.6 L496.4 247.2 L497.3 247.9 L498.2 248.6 L499.1 249.3 L500 250.1 L500.9 250.9 L501.8 251.7 L502.7 252.6 L503.6 253.4 L504.4 254.3 L505.2 255.1 L506 256 L506.7 256.8 L507.4 257.7 L508.1 258.6 L508.7 259.5 L509.4 260.5 L510 261.5 L510.5 262.5 L511.1 263.4 L511.6 264.3 L512 265.2 L512.4 265.9 L512.8 266.5 L513.1 267 L514.4 268.3 L515.6 290.1 L517 296.5 L513.1 303 L506.7 306.8 L500.3 308.1 L493.8 304.2 L491.3 299.1 L480 290 L468 270 L465.6 265.8 L469.5 264.5 L472 260.6 Z" fill="#fff" stroke="#000" stroke-width="1.9" stroke-linejoin="round" stroke-linecap="round" />
<path d="M473.3 249.1 L473.6 248.9 L474 248.6 L474.4 248.3 L475 248 L475.5 247.6 L476.1 247.2 L476.7 246.8 L477.3 246.4 L477.9 246 L478.6 245.7 L479.1 245.5 L479.7 245.3 L480.2 245.2 L480.7 245.1 L481.2 245 L481.7 244.9 L482.1 244.9 L482.6 244.9 L483.1 245 L483.7 245.1 L484.2 245.2 L484.8 245.4 L485.5 245.6 L486.2 245.9 L487 246.3 L487.8 246.7 L488.8 247.1 L489.7 247.6 L490.7 248.2 L491.7 248.8 L492.7 249.4 L493.8 250.1 L494.8 250.8 L495.8 251.5 L496.8 252.2 L497.7 253 L498.6 253.8 L499.6 254.7 L500.5 255.7 L501.5 256.7 L502.4 257.8 L503.3 258.9 L504.2 259.9 L505.1 261 L505.9 262 L506.7 262.9 L507.4 263.8 L508 264.5 L508.6 265.2 L509.1 265.8 L509.5 266.3 L509.9 266.9 L510.2 267.3 L510.5 267.8 L510.8 268.2 L511.1 268.5 L511.3 268.8 L511.5 269.1 L511.6 269.4 L511.8 269.6" fill="none" stroke="#000" stroke-width="1.4" stroke-linejoin="round" stroke-linecap="round" />
<path d="M509.2 270.9 L509.2 291.4 L511.8 299.1" fill="none" stroke="#000" stroke-width="1.4" stroke-linejoin="round" stroke-linecap="round" />
<path d="M490 276 L490.3 276.1 L490.6 276.3 L490.9 276.4 L491.4 276.6 L491.8 276.8 L492.3 277 L492.8 277.2 L493.3 277.5 L493.8 277.8 L494.3 278.2 L494.7 278.6 L495.1 279 L495.5 279.5 L495.8 280 L496.2 280.6 L496.6 281.3 L496.9 282 L497.3 282.7 L497.6 283.4 L497.9 284.1 L498.2 284.9 L498.5 285.6 L498.8 286.3 L499 287 L499.2 287.7 L499.4 288.5 L499.5 289.2 L499.7 290.1 L499.8 290.9 L499.9 291.6 L500 292.4 L500.1 293.1 L500.1 293.8 L500.2 294.4 L500.2 294.9 L500.3 295.3" fill="none" stroke="#000" stroke-width="1.4" stroke-linejoin="round" stroke-linecap="round" />
<path d="M484 281 L484.4 281.2 L484.8 281.5 L485.4 281.8 L486 282.2 L486.6 282.6 L487.3 283 L488 283.5 L488.7 283.9 L489.4 284.4 L490 284.9 L490.5 285.5 L491 286 L491.4 286.6 L491.8 287.2 L492.1 287.8 L492.4 288.5 L492.6 289.2 L492.9 289.9 L493.1 290.7 L493.3 291.4 L493.5 292.1 L493.7 292.7 L493.8 293.4 L494 294 L494.2 294.6 L494.3 295.2 L494.4 295.8 L494.5 296.4 L494.6 296.9 L494.7 297.5 L494.8 298 L494.8 298.5 L494.9 299 L494.9 299.4 L495 299.7 L495 300" fill="none" stroke="#000" stroke-width="1.2" stroke-linejoin="round" stroke-linecap="round" />
<path d="M482,271 C485,268 488,268 491,269" fill="none" stroke="#000" stroke-width="2.4" stroke-linejoin="round" stroke-linecap="round" />
<circle cx="496.4" cy="296.5" r="2" fill="#000"/>
<path d="M450.3 272.2 L450.4 272 L450.5 271.8 L450.7 271.5 L450.8 271.1 L451 270.8 L451.2 270.4 L451.4 270 L451.7 269.6 L451.9 269.2 L452.2 268.9 L452.5 268.6 L452.8 268.3 L453.1 268.1 L453.5 267.8 L453.9 267.6 L454.3 267.4 L454.7 267.2 L455.2 267.1 L455.6 266.9 L456.1 266.8 L456.6 266.7 L457 266.5 L457.5 266.5 L458 266.4 L458.5 266.3 L459 266.3 L459.5 266.2 L460 266.2 L460.5 266.2 L461 266.2 L461.5 266.2 L462 266.3 L462.6 266.4 L463.2 266.5 L463.8 266.7 L464.4 267 L465.1 267.3 L465.7 267.7 L466.4 268.2 L467.2 268.6 L467.9 269.2 L468.7 269.7 L469.5 270.3 L470.2 270.9 L471 271.6 L471.8 272.2 L472.5 272.9 L473.3 273.5 L474.1 274.2 L474.8 274.9 L475.6 275.6 L476.4 276.3 L477.2 277.1 L478 277.9 L478.8 278.7 L479.6 279.4 L480.3 280.2 L481 281 L481.7 281.7 L482.3 282.4 L482.9 283.1 L483.4 283.8 L484 284.6 L484.5 285.3 L485 286.1 L485.4 286.8 L485.8 287.5 L486.2 288.1 L486.6 288.7 L486.9 289.3 L487.2 289.7 L487.4 290.1 L488.7 291.4 L490 322.5 L486.5 330 L480.8 335 L473 336 L462 330 L452 315 L447.7 300 L447.7 286.3 Z" fill="#fff" stroke="#000" stroke-width="1.9" stroke-linejoin="round" stroke-linecap="round" />
<path d="M451.5 270.5 L451.8 270.4 L452.1 270.3 L452.5 270.2 L452.9 270 L453.4 269.9 L453.9 269.7 L454.4 269.6 L455 269.5 L455.7 269.4 L456.4 269.4 L457.2 269.5 L458 269.6 L458.9 269.8 L459.9 270 L461 270.2 L462.2 270.5 L463.4 270.8 L464.6 271.2 L465.9 271.6 L467.1 272.1 L468.4 272.7 L469.6 273.3 L470.8 273.9 L472 274.7 L473.1 275.6 L474.3 276.6 L475.5 277.7 L476.8 279 L478 280.3 L479.2 281.6 L480.3 282.9 L481.4 284.2 L482.4 285.5 L483.4 286.7 L484.2 287.8 L484.9 288.8 L485.5 289.7 L485.9 290.5 L486.3 291.4 L486.6 292.1 L486.8 292.9 L487 293.5 L487.1 294.2 L487.1 294.7 L487.2 295.3 L487.2 295.7 L487.3 296.1 L487.4 296.5" fill="none" stroke="#000" stroke-width="1.4" stroke-linejoin="round" stroke-linecap="round" />
<path d="M485 293 L485 326 L487 330" fill="none" stroke="#000" stroke-width="1.3" stroke-linejoin="round" stroke-linecap="round" />
<path d="M451.5 279.9 L467 286.3 L469.5 279" fill="none" stroke="#000" stroke-width="1.3" stroke-linejoin="round" stroke-linecap="round" />
<path d="M468.2 288.8 L468.6 289.1 L469.1 289.5 L469.7 289.9 L470.3 290.4 L471 290.9 L471.8 291.5 L472.6 292.1 L473.3 292.7 L474.1 293.3 L474.8 293.9 L475.4 294.4 L476 295 L476.5 295.5 L477 296.1 L477.5 296.7 L478 297.3 L478.4 297.8 L478.8 298.4 L479.2 299 L479.6 299.6 L480 300.1 L480.3 300.7 L480.7 301.2 L481 301.7 L481.3 302.2 L481.6 302.7 L481.9 303.2 L482.1 303.7 L482.4 304.2 L482.6 304.7 L482.8 305.1 L483 305.5 L483.2 305.9 L483.3 306.3 L483.5 306.6 L483.6 306.8" fill="none" stroke="#000" stroke-width="1.3" stroke-linejoin="round" stroke-linecap="round" />
<path d="M470,330 C472,327 475,328 476,331" fill="none" stroke="#000" stroke-width="1.8" stroke-linejoin="round" stroke-linecap="round" />
<circle cx="471.2" cy="330.8" r="1.8" fill="#000"/>
<path d="M391.5 305.9 L399.4 290.1 L418.1 286.5 L432.6 287.2 L447 295.9 L457 307.4 L461.4 313.1 L462.8 321.8 L463 345 L458 362 L445 368 L428 370 L412 360 L400 335 L392.2 320.3 Z" fill="#fff" stroke="#000" stroke-width="1.8" stroke-linejoin="round" stroke-linecap="round" />
<path d="M432.6 292 L446 300 L458 314" fill="none" stroke="#000" stroke-width="1.3" stroke-linejoin="round" stroke-linecap="round" />
<path d="M393.6,312 L403,313.6 L403,306 M403,317 L421,321.5 L423,314 M421,321.5 L433,336 L437,349" fill="none" stroke="#000" stroke-width="1.3" stroke-linejoin="round" stroke-linecap="round" />
<path d="M437,331.9 L445.5,331.9 L445.5,343.4 L437,343.4 Z" fill="none" stroke="#000" stroke-width="1.3" stroke-linejoin="round" stroke-linecap="round" />
<path d="M437,337 L445.5,337" fill="none" stroke="#000" stroke-width="1.1" stroke-linejoin="round" stroke-linecap="round" />
<path d="M426 287 L436 284.5 L451 292 L461 303 L466 316 L467 330 L463 345" fill="#fff" stroke="#000" stroke-width="1.7" stroke-linejoin="round" stroke-linecap="round" />
<path d="M445,289 L443,295 M456,299 L452,304 M463,312 L458,316" fill="none" stroke="#000" stroke-width="1.3" stroke-linejoin="round" stroke-linecap="round" />
<line x1="391.5" y1="305.9" x2="397" y2="301" stroke="#000" stroke-width="4.4" stroke-linecap="round"/>
<line x1="392.3" y1="301.5" x2="399.1" y2="298.1" stroke="#000" stroke-width="4.4" stroke-linecap="round"/>
<line x1="393.6" y1="297.2" x2="401.4" y2="295.3" stroke="#000" stroke-width="4.4" stroke-linecap="round"/>
<line x1="396" y1="293.5" x2="404.1" y2="292.9" stroke="#000" stroke-width="4.4" stroke-linecap="round"/>
<line x1="399.2" y1="290.3" x2="407.5" y2="291.6" stroke="#000" stroke-width="4.4" stroke-linecap="round"/>
<line x1="403" y1="288" x2="411.1" y2="291.3" stroke="#000" stroke-width="4.4" stroke-linecap="round"/>
<line x1="407.2" y1="286.7" x2="414.7" y2="291.6" stroke="#000" stroke-width="4.4" stroke-linecap="round"/>
<line x1="411.7" y1="286.1" x2="418.2" y2="292.4" stroke="#000" stroke-width="4.4" stroke-linecap="round"/>
<line x1="416.1" y1="286.3" x2="421.7" y2="293.4" stroke="#000" stroke-width="4.4" stroke-linecap="round"/>
<line x1="420.6" y1="286.8" x2="425.1" y2="294.7" stroke="#000" stroke-width="4.4" stroke-linecap="round"/>
<line x1="425" y1="287.5" x2="428.4" y2="296.1" stroke="#000" stroke-width="4.4" stroke-linecap="round"/>
<line x1="429.2" y1="289.1" x2="431.6" y2="297.8" stroke="#000" stroke-width="4.4" stroke-linecap="round"/>
<line x1="433.1" y1="291.2" x2="434.7" y2="299.7" stroke="#000" stroke-width="4.4" stroke-linecap="round"/>
<line x1="436.8" y1="293.7" x2="437.5" y2="301.9" stroke="#000" stroke-width="4.4" stroke-linecap="round"/>
<line x1="440.4" y1="296.4" x2="440.2" y2="304.4" stroke="#000" stroke-width="4.4" stroke-linecap="round"/>
<line x1="443.8" y1="299.3" x2="442.6" y2="307.1" stroke="#000" stroke-width="4.4" stroke-linecap="round"/>
<line x1="446.8" y1="302.6" x2="444.7" y2="310" stroke="#000" stroke-width="4.4" stroke-linecap="round"/>
<line x1="449.6" y1="306.1" x2="446.7" y2="313" stroke="#000" stroke-width="4.4" stroke-linecap="round"/>
<line x1="452.1" y1="309.8" x2="448.5" y2="316.2" stroke="#000" stroke-width="4.4" stroke-linecap="round"/>
<line x1="454.4" y1="313.7" x2="450.2" y2="319.4" stroke="#000" stroke-width="4.4" stroke-linecap="round"/>
<line x1="456.4" y1="317.6" x2="451.7" y2="322.7" stroke="#000" stroke-width="4.4" stroke-linecap="round"/>
<line x1="458.1" y1="321.8" x2="453" y2="326" stroke="#000" stroke-width="4.4" stroke-linecap="round"/>
<line x1="459.5" y1="326" x2="454.1" y2="329.5" stroke="#000" stroke-width="4.4" stroke-linecap="round"/>
<line x1="460.7" y1="330.3" x2="454.8" y2="333" stroke="#000" stroke-width="4.4" stroke-linecap="round"/>
<line x1="461.9" y1="334.6" x2="455.3" y2="336.6" stroke="#000" stroke-width="4.4" stroke-linecap="round"/>
<line x1="462.7" y1="339" x2="455.6" y2="340.2" stroke="#000" stroke-width="4.4" stroke-linecap="round"/>
<line x1="462.8" y1="343.5" x2="455.6" y2="343.8" stroke="#000" stroke-width="4.4" stroke-linecap="round"/>
<line x1="462.4" y1="348" x2="455.4" y2="347.4" stroke="#000" stroke-width="4.4" stroke-linecap="round"/>
<line x1="461.6" y1="352.4" x2="454.7" y2="351" stroke="#000" stroke-width="4.4" stroke-linecap="round"/>
<line x1="460.4" y1="356.7" x2="453.9" y2="354.5" stroke="#000" stroke-width="4.4" stroke-linecap="round"/>
<line x1="458.5" y1="360.7" x2="453" y2="358" stroke="#000" stroke-width="4.4" stroke-linecap="round"/>
<line x1="392.9" y1="304.7" x2="395.3" y2="302.5" stroke="#fff" stroke-width="1.3" stroke-linecap="round"/>
<line x1="394" y1="300.6" x2="397.1" y2="299.1" stroke="#fff" stroke-width="1.3" stroke-linecap="round"/>
<line x1="395.6" y1="296.7" x2="399.1" y2="295.9" stroke="#fff" stroke-width="1.3" stroke-linecap="round"/>
<line x1="398.1" y1="293.3" x2="401.7" y2="293.1" stroke="#fff" stroke-width="1.3" stroke-linecap="round"/>
<line x1="401.2" y1="290.6" x2="405" y2="291.2" stroke="#fff" stroke-width="1.3" stroke-linecap="round"/>
<line x1="405" y1="288.9" x2="408.7" y2="290.3" stroke="#fff" stroke-width="1.3" stroke-linecap="round"/>
<line x1="409.1" y1="287.9" x2="412.5" y2="290.1" stroke="#fff" stroke-width="1.3" stroke-linecap="round"/>
<line x1="413.3" y1="287.7" x2="416.3" y2="290.5" stroke="#fff" stroke-width="1.3" stroke-linecap="round"/>
<line x1="417.5" y1="288.1" x2="420" y2="291.3" stroke="#fff" stroke-width="1.3" stroke-linecap="round"/>
<line x1="421.7" y1="288.7" x2="423.7" y2="292.3" stroke="#fff" stroke-width="1.3" stroke-linecap="round"/>
<line x1="425.9" y1="289.7" x2="427.4" y2="293.5" stroke="#fff" stroke-width="1.3" stroke-linecap="round"/>
<line x1="429.8" y1="291.2" x2="430.9" y2="295.2" stroke="#fff" stroke-width="1.3" stroke-linecap="round"/>
<line x1="433.5" y1="293.3" x2="434.2" y2="297.2" stroke="#fff" stroke-width="1.3" stroke-linecap="round"/>
<line x1="437" y1="295.7" x2="437.3" y2="299.5" stroke="#fff" stroke-width="1.3" stroke-linecap="round"/>
<line x1="440.3" y1="298.4" x2="440.2" y2="302" stroke="#fff" stroke-width="1.3" stroke-linecap="round"/>
<line x1="443.5" y1="301.3" x2="442.9" y2="304.8" stroke="#fff" stroke-width="1.3" stroke-linecap="round"/>
<line x1="446.3" y1="304.4" x2="445.4" y2="307.8" stroke="#fff" stroke-width="1.3" stroke-linecap="round"/>
<line x1="448.9" y1="307.8" x2="447.6" y2="311" stroke="#fff" stroke-width="1.3" stroke-linecap="round"/>
<line x1="451.2" y1="311.4" x2="449.6" y2="314.3" stroke="#fff" stroke-width="1.3" stroke-linecap="round"/>
<line x1="453.3" y1="315.1" x2="451.4" y2="317.7" stroke="#fff" stroke-width="1.3" stroke-linecap="round"/>
<line x1="455.2" y1="318.9" x2="453.1" y2="321.2" stroke="#fff" stroke-width="1.3" stroke-linecap="round"/>
<line x1="456.8" y1="322.8" x2="454.5" y2="324.8" stroke="#fff" stroke-width="1.3" stroke-linecap="round"/>
<line x1="458.1" y1="326.9" x2="455.7" y2="328.4" stroke="#fff" stroke-width="1.3" stroke-linecap="round"/>
<line x1="459.3" y1="331" x2="456.6" y2="332.2" stroke="#fff" stroke-width="1.3" stroke-linecap="round"/>
<line x1="460.2" y1="335.1" x2="457.3" y2="336" stroke="#fff" stroke-width="1.3" stroke-linecap="round"/>
<line x1="460.9" y1="339.3" x2="457.7" y2="339.9" stroke="#fff" stroke-width="1.3" stroke-linecap="round"/>
<line x1="461" y1="343.6" x2="457.8" y2="343.7" stroke="#fff" stroke-width="1.3" stroke-linecap="round"/>
<line x1="460.6" y1="347.8" x2="457.5" y2="347.6" stroke="#fff" stroke-width="1.3" stroke-linecap="round"/>
<line x1="459.9" y1="352" x2="456.8" y2="351.4" stroke="#fff" stroke-width="1.3" stroke-linecap="round"/>
<line x1="458.8" y1="356.1" x2="455.8" y2="355.1" stroke="#fff" stroke-width="1.3" stroke-linecap="round"/>
<line x1="457.1" y1="360" x2="454.6" y2="358.8" stroke="#fff" stroke-width="1.3" stroke-linecap="round"/>
<path d="M400.9 297 L401.5 297 L402.3 296.9 L403.2 296.8 L404.2 296.7 L405.3 296.5 L406.4 296.4 L407.7 296.3 L408.9 296.3 L410.2 296.2 L411.4 296.3 L412.6 296.3 L413.8 296.5 L415 296.7 L416.1 297 L417.4 297.3 L418.6 297.6 L419.8 298 L421.1 298.4 L422.3 298.8 L423.6 299.3 L424.8 299.8 L425.9 300.4 L427.1 301 L428.2 301.6 L429.3 302.3 L430.3 303 L431.4 303.7 L432.4 304.5 L433.4 305.3 L434.4 306.2 L435.3 307 L436.3 307.9 L437.2 308.9 L438.1 309.8 L438.9 310.7 L439.8 311.7 L440.6 312.7 L441.4 313.7 L442.2 314.7 L443 315.8 L443.7 316.8 L444.5 317.9 L445.2 319 L445.9 320.2 L446.5 321.3 L447.2 322.4 L447.8 323.6 L448.4 324.7 L449 325.9 L449.6 327 L450.1 328.2 L450.7 329.5 L451.2 330.7 L451.7 331.9 L452.2 333.1 L452.7 334.4 L453.1 335.6 L453.5 336.8 L453.9 337.9 L454.2 339.1 L454.5 340.2 L454.7 341.4 L455 342.5 L455.2 343.6 L455.3 344.7 L455.4 345.8 L455.5 346.9 L455.6 348 L455.7 349 L455.7 350 L455.6 351 L455.6 352 L455.5 353 L455.3 354 L455.1 355 L454.8 355.9 L454.5 356.9 L454.2 357.9 L453.9 358.7 L453.6 359.6 L453.3 360.4 L453.1 361 L452.9 361.6 L452.7 362.1" fill="none" stroke="#000" stroke-width="2.4" stroke-linejoin="round" stroke-linecap="round" />
<path d="M411 334.8 L417.7 339.3 L425 349 L428 360 L428.2 370 L422 378 L416 372 Z" fill="#fff" stroke="#000" stroke-width="1.8" stroke-linejoin="round" stroke-linecap="round" />
<circle cx="423.3" cy="361.7" r="1.8" fill="#000"/>
<path d="M423,362 C419,365 416,362 416,357" fill="none" stroke="#000" stroke-width="1.2" stroke-linejoin="round" stroke-linecap="round" />
<path d="M377.9 321.2 L378.1 321.1 L378.4 320.9 L378.7 320.7 L379.1 320.5 L379.5 320.2 L379.9 319.9 L380.3 319.7 L380.8 319.5 L381.3 319.2 L381.8 319 L382.2 318.9 L382.7 318.8 L383.2 318.7 L383.6 318.7 L384.1 318.6 L384.6 318.6 L385.1 318.6 L385.6 318.7 L386.1 318.7 L386.7 318.8 L387.2 318.9 L387.8 319.1 L388.4 319.3 L389.1 319.6 L389.8 319.9 L390.5 320.3 L391.3 320.7 L392.1 321.2 L392.9 321.7 L393.7 322.3 L394.5 322.8 L395.4 323.4 L396.2 324 L397.1 324.7 L397.9 325.3 L398.7 326 L399.5 326.7 L400.3 327.5 L401.2 328.2 L402 329.1 L402.9 329.9 L403.7 330.8 L404.5 331.7 L405.3 332.5 L406.1 333.4 L406.9 334.1 L407.6 334.9 L408.3 335.6 L409 336.3 L409.6 336.9 L410.3 337.6 L410.9 338.2 L411.5 338.8 L412.1 339.4 L412.6 339.9 L413.2 340.5 L413.6 340.9 L414 341.3 L414.4 341.7 L414.7 342 L416.3 345.3 L417.9 377.3 L413.1 383.7 L405.1 385.3 L398 380 L392 350 Z" fill="#fff" stroke="#000" stroke-width="1.9" stroke-linejoin="round" stroke-linecap="round" />
<path d="M379 324 L379.2 323.9 L379.4 323.8 L379.7 323.7 L380 323.5 L380.3 323.4 L380.6 323.2 L381 323.1 L381.4 322.9 L381.8 322.8 L382.2 322.7 L382.6 322.6 L383 322.5 L383.4 322.5 L383.8 322.4 L384.3 322.4 L384.7 322.3 L385.2 322.3 L385.7 322.3 L386.2 322.3 L386.7 322.4 L387.2 322.4 L387.8 322.6 L388.4 322.8 L389 323 L389.6 323.3 L390.3 323.6 L391 324 L391.8 324.5 L392.5 325 L393.3 325.5 L394.1 326 L394.9 326.6 L395.7 327.2 L396.5 327.8 L397.2 328.4 L398 329 L398.8 329.7 L399.5 330.3 L400.3 331.1 L401.1 331.9 L401.9 332.6 L402.7 333.4 L403.5 334.2 L404.3 335 L405 335.8 L405.7 336.6 L406.4 337.3 L407 338 L407.6 338.7 L408.2 339.4 L408.8 340.1 L409.3 340.7 L409.8 341.4 L410.3 342.1 L410.8 342.7 L411.2 343.3 L411.6 343.8 L411.9 344.3 L412.2 344.7 L412.5 345" fill="none" stroke="#000" stroke-width="1.3" stroke-linejoin="round" stroke-linecap="round" />
<path d="M412.5 345 L413 378" fill="none" stroke="#000" stroke-width="1.3" stroke-linejoin="round" stroke-linecap="round" />
<path d="M392 333 L392.5 333.3 L393 333.7 L393.7 334.2 L394.5 334.7 L395.4 335.3 L396.2 335.9 L397.1 336.5 L398 337.2 L398.9 337.9 L399.7 338.6 L400.4 339.3 L401 340 L401.5 340.7 L402 341.5 L402.5 342.3 L402.9 343.1 L403.3 344 L403.6 344.8 L403.9 345.7 L404.2 346.6 L404.5 347.4 L404.7 348.3 L404.9 349.2 L405 350 L405.1 350.9 L405.1 351.8 L405.1 352.7 L405 353.7 L404.9 354.7 L404.8 355.6 L404.6 356.5 L404.4 357.4 L404.3 358.2 L404.2 358.9 L404.1 359.5 L404 360" fill="none" stroke="#000" stroke-width="1.3" stroke-linejoin="round" stroke-linecap="round" />
<circle cx="403.5" cy="361.3" r="1.8" fill="#000"/>
<path d="M357 326 L357.2 325.8 L357.5 325.4 L357.8 325 L358.2 324.6 L358.5 324.1 L358.9 323.7 L359.4 323.2 L359.9 322.7 L360.3 322.2 L360.8 321.8 L361.4 321.5 L361.9 321.2 L362.4 321 L363 320.7 L363.6 320.5 L364.2 320.3 L364.9 320.2 L365.5 320 L366.2 320 L366.9 319.9 L367.6 319.9 L368.3 320 L369.1 320.2 L369.9 320.4 L370.7 320.7 L371.6 321.1 L372.5 321.5 L373.4 321.9 L374.3 322.5 L375.3 323.1 L376.3 323.7 L377.2 324.4 L378.2 325.1 L379.2 325.9 L380.2 326.7 L381.1 327.6 L382.1 328.6 L383 329.7 L384.1 330.9 L385.1 332.2 L386.1 333.5 L387.1 334.8 L388.1 336.2 L389 337.5 L390 338.8 L390.8 340 L391.6 341.1 L392.3 342 L392.9 342.8 L393.5 343.6 L394.1 344.3 L394.6 345 L395 345.6 L395.4 346.1 L395.8 346.7 L396.1 347.1 L396.4 347.5 L396.7 347.9 L396.9 348.2 L397.1 348.5 L398.7 350.1 L400.3 374.1 L401.9 378.9 L400.3 383.7 L395.5 386.9 L389.1 388.5 L384.3 386.9 L378 370 L360 345 Z" fill="#fff" stroke="#000" stroke-width="1.9" stroke-linejoin="round" stroke-linecap="round" />
<path d="M358.7 329.2 L359 329 L359.4 328.7 L359.8 328.4 L360.3 328 L360.9 327.6 L361.4 327.2 L362 326.8 L362.7 326.4 L363.3 326 L363.9 325.7 L364.4 325.4 L365 325.2 L365.5 325 L366 324.9 L366.4 324.7 L366.9 324.6 L367.3 324.5 L367.7 324.4 L368.2 324.4 L368.7 324.4 L369.3 324.5 L370 324.6 L370.7 324.9 L371.5 325.2 L372.4 325.6 L373.5 326.1 L374.7 326.6 L376 327.3 L377.3 328 L378.6 328.7 L380 329.5 L381.3 330.3 L382.6 331.2 L383.8 332.1 L384.9 333 L385.9 334 L386.8 335.1 L387.7 336.3 L388.5 337.6 L389.3 338.9 L390.1 340.4 L390.8 341.8 L391.5 343.2 L392.1 344.5 L392.6 345.8 L393.1 346.9 L393.5 347.8 L393.9 348.5" fill="none" stroke="#000" stroke-width="1.3" stroke-linejoin="round" stroke-linecap="round" />
<path d="M394 350 L394 375 L397 381" fill="none" stroke="#000" stroke-width="1.3" stroke-linejoin="round" stroke-linecap="round" />
<path d="M352 343 L363.5 334 L373.1 337.2 L381.1 346.9 L382.7 358.1 L378 375 L360 378 L350 360 Z" fill="#fff" stroke="#000" stroke-width="0" stroke-linejoin="round" stroke-linecap="round" />
<path d="M354,342 L363.5,334" fill="none" stroke="#000" stroke-width="1.7" stroke-linejoin="round" stroke-linecap="round" />
<path d="M363.5 334 L364 334.1 L364.6 334.3 L365.3 334.4 L366 334.6 L366.9 334.8 L367.8 335 L368.7 335.2 L369.7 335.5 L370.6 335.9 L371.5 336.3 L372.3 336.7 L373.1 337.2 L373.8 337.8 L374.6 338.4 L375.4 339.1 L376.1 339.9 L376.9 340.7 L377.6 341.5 L378.3 342.4 L379 343.3 L379.6 344.2 L380.2 345.1 L380.7 346 L381.1 346.9 L381.5 347.8 L381.8 348.8 L382 349.9 L382.2 350.9 L382.3 352 L382.4 353.1 L382.5 354.2 L382.5 355.1 L382.6 356.1 L382.6 356.9 L382.6 357.6 L382.7 358.1" fill="none" stroke="#000" stroke-width="1.5" stroke-linejoin="round" stroke-linecap="round" />
<circle cx="370.7" cy="343.7" r="1.8" fill="#000"/>
<path d="M333.8 343.7 L333.9 343.5 L334.1 343.1 L334.3 342.7 L334.5 342.3 L334.8 341.8 L335.1 341.4 L335.3 340.9 L335.6 340.4 L336 339.9 L336.3 339.5 L336.6 339.1 L337 338.8 L337.4 338.5 L337.8 338.3 L338.2 338.1 L338.7 337.9 L339.1 337.8 L339.6 337.6 L340.1 337.5 L340.6 337.4 L341.1 337.4 L341.6 337.3 L342.1 337.2 L342.6 337.2 L343.1 337.2 L343.6 337.1 L344 337.1 L344.5 337 L345 337 L345.4 337 L345.9 337.1 L346.5 337.2 L347 337.3 L347.6 337.5 L348.3 337.7 L349 338 L349.8 338.4 L350.6 338.8 L351.6 339.3 L352.5 339.8 L353.5 340.4 L354.6 341 L355.6 341.7 L356.6 342.3 L357.6 343 L358.6 343.8 L359.5 344.5 L360.3 345.3 L361.1 346.1 L361.9 347 L362.6 347.9 L363.4 348.9 L364.1 349.9 L364.8 351 L365.5 352 L366.1 353 L366.7 353.9 L367.3 354.9 L367.8 355.7 L368.3 356.5 L368.7 357.2 L369.1 357.9 L369.5 358.6 L369.8 359.2 L370.1 359.8 L370.4 360.4 L370.6 360.9 L370.8 361.4 L371 361.9 L371.2 362.3 L371.4 362.6 L371.5 362.9 L373.1 364.5 L374.7 386.9 L377.9 393.3 L376.3 398.1 L371.5 399.7 L361.9 403 L350 395 L340 375 L331 365 L333.8 352 Z" fill="#fff" stroke="#000" stroke-width="1.9" stroke-linejoin="round" stroke-linecap="round" />
<path d="M336.2 346.9 L336.5 346.6 L336.9 346.3 L337.3 345.9 L337.8 345.4 L338.3 344.9 L338.9 344.4 L339.5 343.9 L340.1 343.4 L340.7 342.9 L341.4 342.5 L342 342.2 L342.6 342 L343.2 341.8 L343.8 341.7 L344.4 341.6 L345 341.6 L345.6 341.6 L346.2 341.6 L346.8 341.7 L347.5 341.8 L348.2 342 L349 342.2 L349.8 342.5 L350.6 342.9 L351.5 343.3 L352.5 343.9 L353.6 344.5 L354.8 345.2 L356 345.9 L357.2 346.7 L358.3 347.5 L359.5 348.3 L360.6 349.1 L361.7 350 L362.6 350.9 L363.5 351.7 L364.3 352.6 L365 353.6 L365.7 354.6 L366.4 355.7 L367 356.8 L367.5 357.9 L368 358.9 L368.5 359.9 L368.9 360.8 L369.3 361.7 L369.6 362.4 L369.9 362.9" fill="none" stroke="#000" stroke-width="1.3" stroke-linejoin="round" stroke-linecap="round" />
<path d="M368.3 366.1 L368.3 390.1 L371.5 395" fill="none" stroke="#000" stroke-width="1.3" stroke-linejoin="round" stroke-linecap="round" />
<path d="M329.3 369 L329.6 367.7 L330.2 366.6 L330.9 365.7 L331.8 365 L332.7 364.4 L333.8 364 L335 363.8 L336.1 363.6 L337.3 363.5 L338.5 363.4 L339.6 363.4 L340.6 363.4 L341.6 363.4 L342.7 363.6 L343.7 363.8 L344.8 364.1 L345.9 364.5 L347 365 L348.1 365.5 L349.2 366.1 L350.2 366.8 L351.2 367.5 L352.1 368.2 L353 369 L353.8 369.9 L354.6 370.8 L355.4 371.9 L356.2 373 L356.9 374.2 L357.6 375.4 L358.3 376.6 L358.9 377.9 L359.4 379.1 L359.9 380.3 L360.4 381.4 L360.8 382.5 L361.2 383.5 L361.5 384.5 L361.7 385.5 L362 386.5 L362.1 387.5 L362.3 388.4 L362.3 389.4 L362.4 390.3 L362.4 391.2 L362.3 392 L362.2 392.9 L362 393.7 L361.8 394.5 L361.5 395.3 L361.1 396.1 L360.7 396.9 L360.3 397.7 L359.8 398.4 L359.2 399.1 L358.6 399.8 L358 400.4 L357.4 401 L356.7 401.5 L356 402 L355.3 402.4 L354.4 402.8 L353.6 403.1 L352.7 403.4 L351.7 403.7 L350.8 403.9 L349.8 404.1 L348.8 404.2 L347.8 404.2 L346.8 404.2 L345.9 404.1 L345 404 L344.1 403.9 L343.2 403.7 L342.3 403.6 L341.4 403.4 L340.5 403.2 L339.7 402.9 L338.8 402.5 L338 402 L337.2 401.3 L336.4 400.4 L335.7 399.3 L335 398 L334.3 396.3 L333.6 394.2 L332.9 391.8 L332.2 389.2 L331.5 386.4 L330.8 383.5 L330.3 380.6 L329.8 377.8 L329.4 375.1 L329.2 372.7 L329.2 370.7 L329.3 369 Z" fill="#fff" stroke="#000" stroke-width="1.8" stroke-linejoin="round" stroke-linecap="round" />
<circle cx="356.3" cy="396" r="1.6" fill="#000"/>
<clipPath id="cpng"><path d="M304.6 385.8 L305 385.1 L305.6 384.2 L306.5 383.3 L307.6 382.2 L308.8 381.2 L310.1 380.1 L311.5 379 L312.9 377.9 L314.3 376.9 L315.6 376 L316.9 375.2 L318 374.6 L319 374.1 L320 373.6 L321 373.2 L322 372.9 L323 372.7 L323.9 372.4 L324.9 372.3 L325.8 372.2 L326.7 372.2 L327.6 372.2 L328.4 372.3 L329.3 372.4 L330.1 372.6 L330.9 372.8 L331.7 373.1 L332.5 373.5 L333.3 374 L334 374.4 L334.7 375 L335.5 375.5 L336.2 376.1 L336.9 376.7 L337.6 377.4 L338.3 378 L339 378.7 L339.7 379.4 L340.5 380.2 L341.2 381 L342 381.9 L342.7 382.8 L343.4 383.7 L344 384.6 L344.7 385.5 L345.2 386.3 L345.7 387.2 L346.2 388 L346.6 388.8 L346.9 389.6 L347.2 390.3 L347.5 391.1 L347.7 391.9 L347.9 392.6 L348 393.4 L348.1 394.1 L348.2 394.8 L348.3 395.6 L348.4 396.3 L348.4 397 L348.4 397.7 L348.4 398.4 L348.4 399.2 L348.4 399.9 L348.3 400.6 L348.3 401.3 L348.2 402 L348 402.6 L347.9 403.3 L347.7 403.9 L347.5 404.5 L347.3 405 L347.1 405.5 L346.8 406 L346.5 406.4 L346.2 406.8 L345.8 407.1 L345.5 407.5 L345.1 407.8 L344.7 408.1 L344.2 408.5 L343.8 408.8 L343.3 409.1 L342.8 409.4 L342.3 409.7 L341.7 410 L341.1 410.3 L340.5 410.6 L339.8 410.9 L339.1 411.2 L338.4 411.4 L337.7 411.7 L337 412 L336.3 412.2 L335.7 412.5 L335 412.8 L334.3 413.1 L333.6 413.4 L332.9 413.7 L332.2 414.1 L331.4 414.4 L330.7 414.7 L330 415 L329.3 415.3 L328.7 415.6 L328.1 415.8 L327.5 416 L327 416.2 L326.5 416.3 L326.1 416.4 L325.7 416.5 L325.3 416.5 L324.9 416.6 L324.6 416.5 L324.3 416.5 L324 416.5 L323.9 416.4 L323.7 416.4 L323.7 416.3 L323.7 416.2 L323.8 416.1 L324 416 L324.4 416 L324.7 415.9 L325.2 415.8 L325.7 415.7 L326.2 415.5 L326.7 415.3 L327.1 415.1 L327.6 414.8 L327.9 414.4 L328.2 414 L328.4 413.5 L328.7 412.9 L328.9 412.3 L329.1 411.6 L329.2 410.9 L329.4 410.1 L329.5 409.3 L329.6 408.5 L329.6 407.6 L329.5 406.8 L329.5 405.9 L329.3 405 L329.1 404.1 L328.8 403 L328.5 401.9 L328.1 400.7 L327.7 399.6 L327.3 398.4 L326.8 397.2 L326.2 396.1 L325.7 395.1 L325 394.1 L324.4 393.3 L323.7 392.6 L323 392.1 L322.1 391.7 L321.2 391.4 L320.3 391.2 L319.3 391 L318.2 391 L317.2 390.9 L316.2 390.9 L315.2 390.8 L314.2 390.7 L313.3 390.5 L312.5 390.3 L311.7 390 L310.7 389.8 L309.8 389.5 L308.8 389.2 L307.9 388.9 L307 388.6 L306.2 388.3 L305.5 387.9 L305 387.4 L304.6 387 L304.5 386.4 L304.6 385.8 Z"/></clipPath>
<path d="M304.6 385.8 L305 385.1 L305.6 384.2 L306.5 383.3 L307.6 382.2 L308.8 381.2 L310.1 380.1 L311.5 379 L312.9 377.9 L314.3 376.9 L315.6 376 L316.9 375.2 L318 374.6 L319 374.1 L320 373.6 L321 373.2 L322 372.9 L323 372.7 L323.9 372.4 L324.9 372.3 L325.8 372.2 L326.7 372.2 L327.6 372.2 L328.4 372.3 L329.3 372.4 L330.1 372.6 L330.9 372.8 L331.7 373.1 L332.5 373.5 L333.3 374 L334 374.4 L334.7 375 L335.5 375.5 L336.2 376.1 L336.9 376.7 L337.6 377.4 L338.3 378 L339 378.7 L339.7 379.4 L340.5 380.2 L341.2 381 L342 381.9 L342.7 382.8 L343.4 383.7 L344 384.6 L344.7 385.5 L345.2 386.3 L345.7 387.2 L346.2 388 L346.6 388.8 L346.9 389.6 L347.2 390.3 L347.5 391.1 L347.7 391.9 L347.9 392.6 L348 393.4 L348.1 394.1 L348.2 394.8 L348.3 395.6 L348.4 396.3 L348.4 397 L348.4 397.7 L348.4 398.4 L348.4 399.2 L348.4 399.9 L348.3 400.6 L348.3 401.3 L348.2 402 L348 402.6 L347.9 403.3 L347.7 403.9 L347.5 404.5 L347.3 405 L347.1 405.5 L346.8 406 L346.5 406.4 L346.2 406.8 L345.8 407.1 L345.5 407.5 L345.1 407.8 L344.7 408.1 L344.2 408.5 L343.8 408.8 L343.3 409.1 L342.8 409.4 L342.3 409.7 L341.7 410 L341.1 410.3 L340.5 410.6 L339.8 410.9 L339.1 411.2 L338.4 411.4 L337.7 411.7 L337 412 L336.3 412.2 L335.7 412.5 L335 412.8 L334.3 413.1 L333.6 413.4 L332.9 413.7 L332.2 414.1 L331.4 414.4 L330.7 414.7 L330 415 L329.3 415.3 L328.7 415.6 L328.1 415.8 L327.5 416 L327 416.2 L326.5 416.3 L326.1 416.4 L325.7 416.5 L325.3 416.5 L324.9 416.6 L324.6 416.5 L324.3 416.5 L324 416.5 L323.9 416.4 L323.7 416.4 L323.7 416.3 L323.7 416.2 L323.8 416.1 L324 416 L324.4 416 L324.7 415.9 L325.2 415.8 L325.7 415.7 L326.2 415.5 L326.7 415.3 L327.1 415.1 L327.6 414.8 L327.9 414.4 L328.2 414 L328.4 413.5 L328.7 412.9 L328.9 412.3 L329.1 411.6 L329.2 410.9 L329.4 410.1 L329.5 409.3 L329.6 408.5 L329.6 407.6 L329.5 406.8 L329.5 405.9 L329.3 405 L329.1 404.1 L328.8 403 L328.5 401.9 L328.1 400.7 L327.7 399.6 L327.3 398.4 L326.8 397.2 L326.2 396.1 L325.7 395.1 L325 394.1 L324.4 393.3 L323.7 392.6 L323 392.1 L322.1 391.7 L321.2 391.4 L320.3 391.2 L319.3 391 L318.2 391 L317.2 390.9 L316.2 390.9 L315.2 390.8 L314.2 390.7 L313.3 390.5 L312.5 390.3 L311.7 390 L310.7 389.8 L309.8 389.5 L308.8 389.2 L307.9 388.9 L307 388.6 L306.2 388.3 L305.5 387.9 L305 387.4 L304.6 387 L304.5 386.4 L304.6 385.8 Z" fill="#fff" stroke="#000" stroke-width="0" stroke-linejoin="round" stroke-linecap="round" />
<g clip-path="url(#cpng)">
<line x1="300" y1="372" x2="316" y2="420" stroke="#000" stroke-width="1.7" stroke-linecap="round"/>
<line x1="303.3" y1="372" x2="319.3" y2="420" stroke="#000" stroke-width="1.7" stroke-linecap="round"/>
<line x1="306.6" y1="372" x2="322.6" y2="420" stroke="#000" stroke-width="1.7" stroke-linecap="round"/>
<line x1="309.9" y1="372" x2="325.9" y2="420" stroke="#000" stroke-width="1.7" stroke-linecap="round"/>
<line x1="313.2" y1="372" x2="329.2" y2="420" stroke="#000" stroke-width="1.7" stroke-linecap="round"/>
<line x1="316.5" y1="372" x2="332.5" y2="420" stroke="#000" stroke-width="1.7" stroke-linecap="round"/>
<line x1="319.8" y1="372" x2="335.8" y2="420" stroke="#000" stroke-width="1.7" stroke-linecap="round"/>
<line x1="323.1" y1="372" x2="339.1" y2="420" stroke="#000" stroke-width="1.7" stroke-linecap="round"/>
<line x1="326.4" y1="372" x2="342.4" y2="420" stroke="#000" stroke-width="1.7" stroke-linecap="round"/>
<line x1="329.7" y1="372" x2="345.7" y2="420" stroke="#000" stroke-width="1.7" stroke-linecap="round"/>
<line x1="333" y1="372" x2="349" y2="420" stroke="#000" stroke-width="1.7" stroke-linecap="round"/>
<line x1="336.3" y1="372" x2="352.3" y2="420" stroke="#000" stroke-width="1.7" stroke-linecap="round"/>
<line x1="339.6" y1="372" x2="355.6" y2="420" stroke="#000" stroke-width="1.7" stroke-linecap="round"/>
<line x1="342.9" y1="372" x2="358.9" y2="420" stroke="#000" stroke-width="1.7" stroke-linecap="round"/>
</g>
<path d="M304.6 385.8 L304.7 385.7 L304.8 385.5 L304.7 385.2 L304.6 384.9 L304.5 384.5 L304.4 384.2 L304.2 383.9 L304.1 383.6 L304.2 383.4 L304.3 383.3 L304.4 383.1 L304.6 383 L304.9 383 L305.3 383.1 L305.6 383.1 L305.9 383.2 L306.3 383.2 L306.6 383.3 L306.8 383.1 L306.9 383 L307 382.9 L307.1 382.7 L307 382.4 L306.9 382.1 L306.7 381.7 L306.6 381.4 L306.5 381.1 L306.4 380.7 L306.5 380.6 L306.7 380.4 L306.8 380.3 L306.9 380.2 L307.2 380.2 L307.6 380.3 L307.9 380.3 L308.3 380.4 L308.6 380.5 L309 380.5 L309.1 380.4 L309.2 380.3 L309.3 380.1 L309.5 380 L309.4 379.7 L309.3 379.3 L309.2 379 L309.1 378.6 L309 378.3 L308.9 377.9 L309.1 377.8 L309.3 377.6 L309.4 377.5 L309.5 377.4 L309.9 377.5 L310.2 377.6 L310.6 377.7 L310.9 377.8 L311.2 377.9 L311.6 378 L311.7 377.9 L311.8 377.8 L312 377.7 L312.1 377.6 L312.1 377.2 L312.1 376.9 L312 376.6 L312 376.2 L312 375.8 L312 375.5 L312.2 375.3 L312.3 375.3 L312.5 375.2 L312.6 375.1 L313 375.2 L313.3 375.4 L313.6 375.5 L314 375.7 L314.3 375.9 L314.6 376 L314.7 376 L314.9 375.9 L315 375.8 L315.2 375.7 L315.2 375.4 L315.3 375 L315.3 374.7 L315.4 374.3 L315.5 374 L315.5 373.6 L315.7 373.5 L315.8 373.5 L316.1 373.4 L316.2 373.3 L316.5 373.5 L316.8 373.8 L317.1 374 L317.3 374.2 L317.6 374.4 L317.9 374.6 L318 374.6 L318.2 374.5 L318.4 374.5 L318.6 374.4 L318.6 374.1 L318.7 373.7 L318.8 373.4 L318.9 373 L318.9 372.7 L319 372.4 L319.2 372.3 L319.4 372.2 L319.5 372.2 L319.7 372.1 L320 372.4 L320.3 372.6 L320.5 372.8 L320.8 373.1 L321 373.3 L321.3 373.5 L321.5 373.5 L321.6 373.4 L321.8 373.4 L322 373.3 L322.1 373 L322.2 372.6 L322.3 372.3 L322.4 372 L322.5 371.6 L322.6 371.3 L322.8 371.2 L322.9 371.2 L323.2 371.1 L323.3 371.1 L323.6 371.4 L323.8 371.6 L324.1 371.9 L324.3 372.1 L324.6 372.4 L324.8 372.6 L325 372.6 L325.1 372.6 L325.3 372.5 L325.5 372.5 L325.6 372.2 L325.8 371.9 L325.9 371.5 L326.1 371.2 L326.2 370.9 L326.4 370.6 L326.6 370.6 L326.8 370.5 L327 370.5 L327.2 370.5 L327.4 370.8 L327.7 371.1 L327.8 371.4 L328 371.7 L328.2 372 L328.4 372.3 L328.5 372.3 L328.7 372.3 L328.9 372.4 L329.1 372.4 L329.3 372.1 L329.6 371.8 L329.8 371.6 L330 371.3 L330.3 371.1 L330.7 370.9 L330.8 370.9 L331 371 L331.2 371 L331.4 371.1 L331.6 371.5 L331.6 371.8 L331.7 372.2 L331.7 372.5 L331.8 372.8 L331.8 373.2 L332 373.3 L332.2 373.4 L332.3 373.4 L332.5 373.5 L332.8 373.3 L333.1 373.2 L333.4 373 L333.7 372.8 L334 372.7 L334.4 372.5 L334.5 372.6 L334.7 372.7 L334.8 372.8 L335.1 373 L335 373.3 L335 373.7 L335 374 L335 374.4 L334.9 374.7 L334.9 375.1 L335 375.2 L335.2 375.3 L335.3 375.4 L335.5 375.5 L335.8 375.4 L336.1 375.3 L336.5 375.2 L336.8 375.1 L337.1 374.9 L337.5 374.9 L337.6 375 L337.8 375.1 L337.9 375.2 L338 375.3 L338 375.7 L337.9 376 L337.8 376.4 L337.8 376.7 L337.7 377.1 L337.7 377.4 L337.8 377.5 L337.9 377.6 L338 377.8 L338.2 377.9 L338.5 377.8 L338.9 377.7 L339.2 377.6 L339.5 377.5 L339.9 377.4 L340.2 377.3 L340.4 377.5 L340.5 377.6 L340.6 377.8 L340.8 377.9 L340.7 378.2 L340.6 378.6 L340.5 378.9 L340.4 379.3 L340.3 379.6 L340.2 379.9 L340.3 380.1 L340.5 380.2 L340.6 380.3 L340.7 380.5 L341 380.4 L341.4 380.3 L341.7 380.3 L342.1 380.2 L342.4 380.2 L342.8 380.1 L342.9 380.2 L343 380.4 L343.1 380.5 L343.3 380.7 L343.2 381 L343 381.3 L342.9 381.7 L342.8 382 L342.7 382.3 L342.6 382.7 L342.7 382.8 L342.8 382.9 L342.9 383.1 L343 383.2 L343.4 383.2 L343.7 383.1 L344.1 383.1 L344.4 383.1 L344.8 383.1 L345.1 383 L345.2 383.2 L345.3 383.3 L345.4 383.5 L345.6 383.6 L345.4 384 L345.3 384.3 L345.1 384.6 L345 384.9 L344.9 385.2 L344.7 385.6 L344.8 385.7 L344.9 385.9 L345 386 L345.1 386.2 L345.5 386.1 L345.8 386.1 L346.2 386.1 L346.5 386.1 L346.9 386.1 L347.2 386.1 L347.3 386.4 L347.4 386.5 L347.5 386.7 L347.6 386.8 L347.4 387.1 L347.3 387.5 L347.1 387.8 L346.9 388.1 L346.7 388.4 L346.5 388.7 L346.6 388.8 L346.7 389 L346.8 389.2 L346.8 389.3 L347.2 389.4 L347.5 389.4 L347.9 389.5 L348.2 389.6 L348.6 389.6 L348.9 389.7 L349 389.9 L349 390.1 L349.1 390.3 L349.2 390.5 L348.9 390.8 L348.7 391 L348.5 391.3 L348.2 391.5 L348 391.8 L347.7 392.1 L347.8 392.2 L347.8 392.4 L347.9 392.6 L347.9 392.8 L348.2 392.9 L348.5 393 L348.9 393.1 L349.2 393.3 L349.5 393.4 L349.9 393.5 L349.9 393.7 L349.9 393.9 L349.9 394.1 L350 394.3 L349.7 394.5 L349.4 394.8 L349.1 395 L348.9 395.2 L348.6 395.4 L348.3 395.6 L348.3 395.8 L348.3 396 L348.3 396.1 L348.4 396.3 L348.7 396.5 L349 396.6 L349.3 396.8 L349.6 397 L349.9 397.2 L350.2 397.3 L350.2 397.5 L350.2 397.7 L350.2 397.9 L350.2 398.1 L349.9 398.3 L349.6 398.5 L349.3 398.7 L349 398.9 L348.7 399 L348.4 399.2 L348.4 399.4 L348.4 399.6 L348.4 399.7 L348.4 399.9 L348.7 400.1 L349 400.3 L349.3 400.5 L349.5 400.8 L349.8 401 L350.1 401.2 L350.1 401.4 L350 401.6 L350 401.8 L350 402 L349.7 402.1 L349.3 402.3 L349 402.4 L348.7 402.5 L348.3 402.7 L348 402.8 L348 403 L347.9 403.1 L347.9 403.3 L347.8 403.5 L348.1 403.7 L348.3 404 L348.5 404.3 L348.8 404.6 L349 404.8 L349.2 405.2 L349.1 405.4 L349 405.5 L348.9 405.8 L348.8 406 L348.5 406 L348.1 406 L347.7 406.1 L347.4 406.1 L347 406.1 L346.7 406.1 L346.6 406.3 L346.5 406.4 L346.4 406.5 L346.2 406.7 L346.4 407 L346.4 407.4 L346.5 407.7 L346.6 408.1 L346.7 408.4 L346.7 408.8 L346.5 408.9 L346.4 409.1 L346.3 409.2 L346.1 409.3 L345.7 409.2 L345.4 409.1 L345 409 L344.7 408.8 L344.4 408.7 L344.1 408.6 L343.9 408.7 L343.8 408.8 L343.6 408.9 L343.5 409 L343.5 409.3 L343.5 409.7 L343.5 410 L343.5 410.4 L343.5 410.7 L343.5 411.1 L343.3 411.2 L343.1 411.3 L342.9 411.4 L342.8 411.5 L342.5 411.3 L342.1 411.1 L341.8 411 L341.6 410.8 L341.3 410.6 L341 410.4 L340.8 410.4 L340.6 410.5 L340.5 410.6 L340.3 410.7 L340.3 411 L340.2 411.4 L340.2 411.7 L340.1 412.1 L340 412.4 L340 412.8 L339.8 412.8 L339.6 412.9 L339.5 413 L339.3 413 L339 412.8 L338.7 412.6 L338.5 412.4 L338.2 412.2 L337.9 412 L337.6 411.7 L337.5 411.8 L337.3 411.9 L337.1 411.9 L337 412 L336.9 412.3 L336.8 412.7 L336.8 413 L336.7 413.4 L336.7 413.7 L336.6 414.1 L336.5 414.1 L336.3 414.2 L336.2 414.3 L336 414.3 L335.7 414.1 L335.4 413.9 L335.1 413.7 L334.9 413.5 L334.6 413.3 L334.3 413.1 L334.1 413.2 L334 413.2 L333.8 413.3 L333.6 413.4 L333.6 413.7 L333.5 414.1 L333.5 414.4 L333.4 414.8 L333.4 415.1 L333.3 415.5 L333.2 415.5 L333 415.6 L332.8 415.7 L332.7 415.7 L332.4 415.5 L332.1 415.3 L331.8 415.1 L331.5 414.9 L331.3 414.7 L331 414.5 L330.8 414.6 L330.6 414.7 L330.5 414.7 L330.3 414.8 L330.3 415.1 L330.2 415.5 L330.2 415.8 L330.1 416.2 L330.1 416.5 L330 416.9 L329.9 416.9 L329.7 417 L329.5 417.1 L329.4 417.2 L329.1 416.9 L328.8 416.7 L328.5 416.5 L328.2 416.3 L327.9 416.1 L327.7 415.9 L327.5 416 L327.3 416.1 L327.2 416.1 L327 416.2" fill="none" stroke="#000" stroke-width="2.2" stroke-linejoin="round" stroke-linecap="round" />
<path d="M304.6 385.8 L305 386 L305.4 386.3 L305.9 386.7 L306.5 387 L307.2 387.5 L307.9 387.9 L308.6 388.4 L309.3 388.8 L310.1 389.2 L310.9 389.6 L311.7 390 L312.5 390.3 L313.3 390.5 L314.2 390.7 L315.2 390.8 L316.2 390.9 L317.2 390.9 L318.2 391 L319.3 391 L320.3 391.2 L321.2 391.4 L322.1 391.7 L323 392.1 L323.7 392.6 L324.4 393.3 L325 394.1 L325.7 395.1 L326.2 396.1 L326.8 397.2 L327.3 398.4 L327.7 399.6 L328.1 400.7 L328.5 401.9 L328.8 403 L329.1 404.1 L329.3 405 L329.5 405.9 L329.5 406.8 L329.6 407.6 L329.6 408.5 L329.5 409.3 L329.4 410.1 L329.2 410.9 L329.1 411.6 L328.9 412.3 L328.7 412.9 L328.4 413.5 L328.2 414 L327.9 414.4 L327.6 414.8 L327.2 415.1 L326.8 415.3 L326.3 415.5 L325.9 415.7 L325.4 415.8 L325 415.9 L324.6 416 L324.2 416 L323.9 416.1 L323.7 416.2" fill="none" stroke="#000" stroke-width="2" stroke-linejoin="round" stroke-linecap="round" />
<path d="M294.5 399.3 L310.2 391 L324 416 L309 423 Z" fill="#fff" stroke="#000" stroke-width="0" stroke-linejoin="round" stroke-linecap="round" />
<path d="M294.5,399.3 L312,390.5 M309,423 L324,416.2" fill="none" stroke="#000" stroke-width="1.8" stroke-linejoin="round" stroke-linecap="round" />
<ellipse cx="303.8" cy="410.5" rx="9.3" ry="13.6" transform="rotate(-22 303.8 410.5)" fill="#fff" stroke="#000" stroke-width="1.9"/>
<circle cx="303.5" cy="405.5" r="1.7" fill="#000"/>
<circle cx="297.9" cy="409.4" r="1.7" fill="#000"/>
<circle cx="308.5" cy="418.4" r="1.7" fill="#000"/>
<path d="M281.6 327.1 L281.7 325.7 L281.8 324.4 L282.1 323.2 L282.5 322 L283 320.9 L283.6 319.9 L284.2 319 L285 318.2 L285.8 317.4 L286.8 316.8 L298.8 309.8 L299.7 309.4 L300.8 309 L301.9 308.7 L303 308.6 L304.1 308.6 L305.3 308.8 L306.5 309 L307.8 309.4 L309 309.9 L310.2 310.5 L311.4 311.2 L312.5 312 L313.6 312.9 L314.7 313.9 L315.7 315 L316.6 316.2 L317.5 317.4 L318.3 318.8 L319.1 320.1 L319.7 321.5 L320.2 322.9 L320.7 324.3 L321 325.7 L321.2 327.2 L321.4 328.6 L321.4 329.9 L321.3 331.3 L321.2 332.6 L320.9 333.8 L320.5 335 L320 336.1 L319.4 337.1 L318.8 338 L318 338.8 L317.2 339.6 L316.2 340.2 L304.2 347.2 L303.3 347.6 L302.2 348 L301.1 348.3 L300 348.4 L298.9 348.4 L297.7 348.2 L296.5 348 L295.2 347.6 L294 347.1 L292.8 346.5 L291.6 345.8 L290.5 345 L289.4 344.1 L288.3 343.1 L287.3 342 L286.4 340.8 L285.5 339.6 L284.7 338.2 L283.9 336.9 L283.3 335.5 L282.8 334.1 L282.3 332.7 L282 331.3 L281.8 329.8 L281.6 328.4 Z" fill="#fff" stroke="#000" stroke-width="2" stroke-linejoin="round" stroke-linecap="round" />
<ellipse cx="295.5" cy="332" rx="12.5" ry="17.5" transform="rotate(-30 295.5 332)" fill="#fff" stroke="#000" stroke-width="2.2"/>
<ellipse cx="296" cy="332.5" rx="8.8" ry="13.8" transform="rotate(-30 296 332.5)" fill="none" stroke="#000" stroke-width="1.8"/>
<path d="M289 322 L289.1 322.6 L289.3 323.3 L289.4 324.2 L289.6 325.2 L289.8 326.3 L290 327.4 L290.2 328.5 L290.5 329.7 L290.8 330.9 L291.2 332 L291.6 333 L292 334 L292.5 334.9 L293.1 335.9 L293.8 336.9 L294.6 337.9 L295.4 338.8 L296.2 339.8 L297 340.6 L297.7 341.5 L298.4 342.2 L299.1 342.9 L299.6 343.5 L300 344" fill="none" stroke="#000" stroke-width="1.2" stroke-linejoin="round" stroke-linecap="round" />
<path d="M294 318 L294.4 318.4 L294.8 318.8 L295.4 319.3 L296 319.9 L296.6 320.5 L297.3 321.1 L298 321.8 L298.7 322.6 L299.4 323.4 L300 324.2 L300.5 325.1 L301 326 L301.4 327 L301.8 328.1 L302.1 329.4 L302.4 330.7 L302.7 332.1 L302.9 333.5 L303.2 334.9 L303.4 336.1 L303.6 337.3 L303.7 338.4 L303.9 339.3 L304 340" fill="none" stroke="#000" stroke-width="1.4" stroke-linejoin="round" stroke-linecap="round" />
<circle cx="307" cy="313" r="1.8" fill="#000"/>
<path d="M300,348 L309,344 L318,338" fill="none" stroke="#000" stroke-width="1.2" stroke-linejoin="round" stroke-linecap="round" />
<path d="M297,315 L306,310" fill="none" stroke="#000" stroke-width="1.1" stroke-linejoin="round" stroke-linecap="round" />
<clipPath id="cpg6"><path d="M261.5 416.7 L261.8 416.3 L262.2 415.8 L262.6 415.4 L263.1 414.9 L263.6 414.4 L264.2 414 L264.8 413.5 L265.4 413.1 L266 412.7 L266.6 412.3 L267.1 411.9 L267.6 411.5 L268.1 411.1 L268.5 410.8 L269 410.4 L269.4 410.1 L269.8 409.7 L270.3 409.4 L270.7 409.1 L271.1 408.8 L271.5 408.6 L272 408.3 L272.4 408.1 L272.9 408 L273.4 407.9 L273.8 407.8 L274.3 407.8 L274.8 407.7 L275.3 407.8 L275.8 407.8 L276.3 407.8 L276.8 407.9 L277.3 408 L277.9 408.1 L278.4 408.3 L279 408.4 L279.6 408.6 L280.3 408.7 L280.9 408.9 L281.6 409.2 L282.3 409.4 L283 409.6 L283.8 409.9 L284.5 410.2 L285.1 410.5 L285.8 410.8 L286.4 411.2 L287 411.5 L287.5 411.8 L288.1 412.2 L288.5 412.5 L289 412.9 L289.4 413.3 L289.9 413.7 L290.3 414.1 L290.7 414.6 L291.1 415 L291.5 415.5 L291.9 416.1 L292.3 416.7 L292.7 417.4 L293.1 418.1 L293.6 418.8 L294 419.6 L294.5 420.5 L294.9 421.3 L295.3 422.2 L295.7 423.1 L296 423.9 L296.3 424.8 L296.5 425.6 L296.7 426.4 L296.8 427.2 L296.9 427.9 L296.9 428.7 L296.9 429.5 L296.9 430.3 L296.8 431 L296.7 431.8 L296.6 432.5 L296.4 433.2 L296.2 433.9 L296 434.6 L295.8 435.2 L295.6 435.8 L295.3 436.4 L295 437 L294.7 437.6 L294.3 438.1 L293.9 438.6 L293.5 439.1 L293.1 439.6 L292.7 440.1 L292.3 440.5 L291.8 441 L291.4 441.4 L290.9 441.8 L290.5 442.2 L290 442.5 L289.5 442.9 L289 443.2 L288.5 443.5 L287.9 443.8 L287.4 444 L286.8 444.3 L286.3 444.5 L285.8 444.8 L285.2 445 L284.6 445.2 L284 445.4 L283.4 445.6 L282.8 445.8 L282.2 446 L281.5 446.2 L280.9 446.3 L280.3 446.5 L279.7 446.6 L279.2 446.6 L278.7 446.7 L278.2 446.7 L277.8 446.7 L277.3 446.6 L276.8 446.5 L276.4 446.3 L276 446.1 L275.6 446 L275.2 445.8 L275 445.6 L274.8 445.4 L274.6 445.2 L274.6 445.1 L274.7 445 L274.9 445 L275.3 445 L275.8 445 L276.4 445 L277.1 445.1 L277.8 445.2 L278.6 445.2 L279.3 445.3 L280 445.3 L280.7 445.2 L281.2 445.2 L281.7 445 L282.1 444.8 L282.4 444.5 L282.8 444.2 L283.1 443.9 L283.3 443.6 L283.5 443.2 L283.7 442.8 L283.9 442.4 L284.1 441.9 L284.2 441.4 L284.3 441 L284.4 440.5 L284.5 440 L284.5 439.5 L284.5 438.9 L284.5 438.4 L284.5 437.8 L284.4 437.2 L284.3 436.6 L284.2 435.9 L284.1 435.3 L283.9 434.7 L283.7 434.1 L283.5 433.5 L283.3 432.9 L283 432.3 L282.7 431.6 L282.4 431 L282 430.4 L281.6 429.7 L281.2 429.1 L280.8 428.5 L280.4 427.9 L279.9 427.4 L279.5 426.9 L279 426.4 L278.5 426 L278 425.6 L277.5 425.2 L277 424.9 L276.4 424.6 L275.9 424.3 L275.3 424 L274.7 423.7 L274.1 423.5 L273.4 423.3 L272.7 423.1 L272 422.9 L271.2 422.7 L270.3 422.7 L269.4 422.6 L268.4 422.6 L267.3 422.6 L266.3 422.6 L265.3 422.6 L264.4 422.5 L263.5 422.5 L262.7 422.4 L262 422.2 L261.5 422 L261.1 421.7 L260.8 421.4 L260.6 421 L260.5 420.6 L260.4 420.1 L260.5 419.6 L260.5 419.1 L260.7 418.6 L260.8 418.1 L261 417.6 L261.3 417.2 L261.5 416.7 Z"/></clipPath>
<path d="M261.5 416.7 L261.8 416.3 L262.2 415.8 L262.6 415.4 L263.1 414.9 L263.6 414.4 L264.2 414 L264.8 413.5 L265.4 413.1 L266 412.7 L266.6 412.3 L267.1 411.9 L267.6 411.5 L268.1 411.1 L268.5 410.8 L269 410.4 L269.4 410.1 L269.8 409.7 L270.3 409.4 L270.7 409.1 L271.1 408.8 L271.5 408.6 L272 408.3 L272.4 408.1 L272.9 408 L273.4 407.9 L273.8 407.8 L274.3 407.8 L274.8 407.7 L275.3 407.8 L275.8 407.8 L276.3 407.8 L276.8 407.9 L277.3 408 L277.9 408.1 L278.4 408.3 L279 408.4 L279.6 408.6 L280.3 408.7 L280.9 408.9 L281.6 409.2 L282.3 409.4 L283 409.6 L283.8 409.9 L284.5 410.2 L285.1 410.5 L285.8 410.8 L286.4 411.2 L287 411.5 L287.5 411.8 L288.1 412.2 L288.5 412.5 L289 412.9 L289.4 413.3 L289.9 413.7 L290.3 414.1 L290.7 414.6 L291.1 415 L291.5 415.5 L291.9 416.1 L292.3 416.7 L292.7 417.4 L293.1 418.1 L293.6 418.8 L294 419.6 L294.5 420.5 L294.9 421.3 L295.3 422.2 L295.7 423.1 L296 423.9 L296.3 424.8 L296.5 425.6 L296.7 426.4 L296.8 427.2 L296.9 427.9 L296.9 428.7 L296.9 429.5 L296.9 430.3 L296.8 431 L296.7 431.8 L296.6 432.5 L296.4 433.2 L296.2 433.9 L296 434.6 L295.8 435.2 L295.6 435.8 L295.3 436.4 L295 437 L294.7 437.6 L294.3 438.1 L293.9 438.6 L293.5 439.1 L293.1 439.6 L292.7 440.1 L292.3 440.5 L291.8 441 L291.4 441.4 L290.9 441.8 L290.5 442.2 L290 442.5 L289.5 442.9 L289 443.2 L288.5 443.5 L287.9 443.8 L287.4 444 L286.8 444.3 L286.3 444.5 L285.8 444.8 L285.2 445 L284.6 445.2 L284 445.4 L283.4 445.6 L282.8 445.8 L282.2 446 L281.5 446.2 L280.9 446.3 L280.3 446.5 L279.7 446.6 L279.2 446.6 L278.7 446.7 L278.2 446.7 L277.8 446.7 L277.3 446.6 L276.8 446.5 L276.4 446.3 L276 446.1 L275.6 446 L275.2 445.8 L275 445.6 L274.8 445.4 L274.6 445.2 L274.6 445.1 L274.7 445 L274.9 445 L275.3 445 L275.8 445 L276.4 445 L277.1 445.1 L277.8 445.2 L278.6 445.2 L279.3 445.3 L280 445.3 L280.7 445.2 L281.2 445.2 L281.7 445 L282.1 444.8 L282.4 444.5 L282.8 444.2 L283.1 443.9 L283.3 443.6 L283.5 443.2 L283.7 442.8 L283.9 442.4 L284.1 441.9 L284.2 441.4 L284.3 441 L284.4 440.5 L284.5 440 L284.5 439.5 L284.5 438.9 L284.5 438.4 L284.5 437.8 L284.4 437.2 L284.3 436.6 L284.2 435.9 L284.1 435.3 L283.9 434.7 L283.7 434.1 L283.5 433.5 L283.3 432.9 L283 432.3 L282.7 431.6 L282.4 431 L282 430.4 L281.6 429.7 L281.2 429.1 L280.8 428.5 L280.4 427.9 L279.9 427.4 L279.5 426.9 L279 426.4 L278.5 426 L278 425.6 L277.5 425.2 L277 424.9 L276.4 424.6 L275.9 424.3 L275.3 424 L274.7 423.7 L274.1 423.5 L273.4 423.3 L272.7 423.1 L272 422.9 L271.2 422.7 L270.3 422.7 L269.4 422.6 L268.4 422.6 L267.3 422.6 L266.3 422.6 L265.3 422.6 L264.4 422.5 L263.5 422.5 L262.7 422.4 L262 422.2 L261.5 422 L261.1 421.7 L260.8 421.4 L260.6 421 L260.5 420.6 L260.4 420.1 L260.5 419.6 L260.5 419.1 L260.7 418.6 L260.8 418.1 L261 417.6 L261.3 417.2 L261.5 416.7 Z" fill="#fff" stroke="#000" stroke-width="0" stroke-linejoin="round" stroke-linecap="round" />
<g clip-path="url(#cpg6)">
<line x1="262" y1="405" x2="276" y2="450" stroke="#000" stroke-width="1.8" stroke-linecap="round"/>
<line x1="265.6" y1="405" x2="279.6" y2="450" stroke="#000" stroke-width="1.8" stroke-linecap="round"/>
<line x1="269.2" y1="405" x2="283.2" y2="450" stroke="#000" stroke-width="1.8" stroke-linecap="round"/>
<line x1="272.8" y1="405" x2="286.8" y2="450" stroke="#000" stroke-width="1.8" stroke-linecap="round"/>
<line x1="276.4" y1="405" x2="290.4" y2="450" stroke="#000" stroke-width="1.8" stroke-linecap="round"/>
<line x1="280" y1="405" x2="294" y2="450" stroke="#000" stroke-width="1.8" stroke-linecap="round"/>
<line x1="283.6" y1="405" x2="297.6" y2="450" stroke="#000" stroke-width="1.8" stroke-linecap="round"/>
<line x1="287.2" y1="405" x2="301.2" y2="450" stroke="#000" stroke-width="1.8" stroke-linecap="round"/>
<line x1="290.8" y1="405" x2="304.8" y2="450" stroke="#000" stroke-width="1.8" stroke-linecap="round"/>
<line x1="294.4" y1="405" x2="308.4" y2="450" stroke="#000" stroke-width="1.8" stroke-linecap="round"/>
</g>
<path d="M261.5 416.7 L261.6 416.6 L261.8 416.5 L261.7 416.1 L261.7 415.8 L261.6 415.5 L261.6 415.1 L261.5 414.8 L261.5 414.4 L261.6 414.3 L261.8 414.2 L261.9 414.1 L262 414 L262.4 414.1 L262.7 414.1 L263 414.2 L263.4 414.3 L263.7 414.4 L264 414.5 L264.1 414.4 L264.3 414.3 L264.4 414.1 L264.6 414 L264.5 413.7 L264.5 413.3 L264.4 413 L264.4 412.7 L264.3 412.3 L264.3 412 L264.4 411.9 L264.6 411.8 L264.7 411.6 L264.9 411.5 L265.2 411.6 L265.5 411.7 L265.9 411.8 L266.2 411.9 L266.5 412 L266.8 412.1 L267 412 L267.1 411.9 L267.3 411.8 L267.4 411.7 L267.4 411.3 L267.3 411 L267.3 410.6 L267.3 410.3 L267.2 410 L267.2 409.6 L267.4 409.5 L267.5 409.4 L267.6 409.3 L267.8 409.2 L268.1 409.3 L268.4 409.4 L268.8 409.5 L269.1 409.6 L269.4 409.7 L269.7 409.8 L269.9 409.7 L270 409.6 L270.2 409.5 L270.3 409.4 L270.3 409 L270.3 408.7 L270.3 408.3 L270.3 408 L270.3 407.7 L270.4 407.3 L270.5 407.2 L270.8 407 L271 407 L271.1 406.9 L271.5 407 L271.8 407.2 L272.1 407.4 L272.4 407.6 L272.7 407.8 L272.9 408 L273.1 408 L273.3 407.9 L273.5 407.9 L273.6 407.8 L273.8 407.5 L274 407.2 L274.1 406.9 L274.3 406.6 L274.5 406.3 L274.7 406 L275 406 L275.1 406.1 L275.4 406.1 L275.6 406.1 L275.8 406.4 L276 406.7 L276.1 407 L276.3 407.3 L276.4 407.6 L276.6 407.9 L276.8 407.9 L277 408 L277.1 408 L277.3 408 L277.6 407.8 L277.8 407.5 L278 407.3 L278.3 407.1 L278.5 406.8 L278.8 406.6 L279 406.6 L279.2 406.7 L279.3 406.7 L279.5 406.8 L279.7 407.1 L279.8 407.4 L279.9 407.8 L280 408.1 L280.1 408.4 L280.2 408.7 L280.4 408.8 L280.5 408.8 L280.7 408.9 L280.9 408.9 L281.2 408.7 L281.4 408.5 L281.7 408.3 L282 408.1 L282.2 407.9 L282.5 407.7 L282.7 407.7 L282.9 407.8 L283.1 407.8 L283.2 407.9 L283.3 408.2 L283.4 408.6 L283.5 408.9 L283.6 409.2 L283.6 409.6 L283.7 409.9 L283.9 410 L284 410 L284.2 410.1 L284.4 410.2 L284.7 410 L285 409.8 L285.2 409.6 L285.5 409.4 L285.8 409.3 L286.1 409.1 L286.3 409.2 L286.5 409.3 L286.7 409.4 L286.9 409.5 L286.9 409.8 L286.9 410.1 L287 410.5 L287 410.8 L287 411.2 L287 411.5 L287.2 411.6 L287.3 411.7 L287.5 411.8 L287.6 411.9 L288 411.8 L288.3 411.7 L288.6 411.5 L288.9 411.4 L289.2 411.3 L289.6 411.2 L289.7 411.3 L289.9 411.4 L290 411.6 L290.2 411.7 L290.2 412.1 L290.1 412.4 L290.1 412.8 L290.1 413.1 L290 413.4 L290 413.8 L290.1 413.9 L290.2 414 L290.3 414.2 L290.5 414.3 L290.8 414.2 L291.1 414.2 L291.5 414.2 L291.8 414.1 L292.2 414.1 L292.5 414.1 L292.6 414.2 L292.8 414.4 L292.9 414.6 L293 414.7 L292.9 415.1 L292.8 415.4 L292.7 415.7 L292.5 416 L292.4 416.3 L292.3 416.6 L292.4 416.8 L292.5 417 L292.6 417.1 L292.7 417.3 L293 417.3 L293.3 417.3 L293.7 417.3 L294 417.3 L294.4 417.3 L294.7 417.4 L294.8 417.5 L294.9 417.7 L295 417.9 L295.1 418 L294.9 418.3 L294.8 418.6 L294.6 418.9 L294.5 419.2 L294.3 419.5 L294.1 419.8 L294.2 420 L294.3 420.2 L294.4 420.3 L294.5 420.5 L294.8 420.5 L295.1 420.6 L295.5 420.6 L295.8 420.7 L296.2 420.7 L296.5 420.8 L296.6 420.9 L296.7 421.1 L296.7 421.3 L296.8 421.5 L296.7 421.8 L296.5 422.1 L296.3 422.3 L296.1 422.6 L295.9 422.9 L295.7 423.2 L295.8 423.4 L295.8 423.5 L295.9 423.7 L296 423.9 L296.3 424 L296.6 424 L297 424.1 L297.3 424.2 L297.6 424.3 L298 424.5 L298 424.6 L298.1 424.8 L298.1 425 L298.2 425.3 L298 425.5 L297.7 425.8 L297.5 426 L297.2 426.2 L297 426.5 L296.8 426.7 L296.8 426.9 L296.8 427.1 L296.8 427.3 L296.8 427.5 L297.1 427.6 L297.4 427.8 L297.7 428 L298 428.1 L298.3 428.3 L298.6 428.5 L298.6 428.8 L298.6 429 L298.6 429.1 L298.6 429.3 L298.3 429.5 L298 429.7 L297.7 429.9 L297.5 430.1 L297.2 430.2 L296.9 430.4 L296.8 430.6 L296.8 430.8 L296.8 431 L296.8 431.2 L297 431.4 L297.3 431.6 L297.5 431.8 L297.8 432.1 L298 432.3 L298.3 432.6 L298.2 432.7 L298.2 433 L298.1 433.2 L298.1 433.3 L297.8 433.5 L297.5 433.6 L297.1 433.7 L296.8 433.8 L296.5 433.9 L296.2 434 L296.1 434.2 L296.1 434.4 L296 434.6 L296 434.8 L296.2 435 L296.4 435.3 L296.6 435.6 L296.8 435.9 L297 436.1 L297.2 436.4 L297 436.7 L297 436.8 L296.9 437 L296.8 437.3 L296.4 437.3 L296.1 437.3 L295.8 437.4 L295.4 437.4 L295.1 437.4 L294.7 437.4 L294.6 437.6 L294.5 437.8 L294.4 437.9 L294.3 438.1 L294.5 438.4 L294.6 438.7 L294.7 439 L294.8 439.4 L294.9 439.7 L295 440 L294.9 440.1 L294.7 440.3 L294.6 440.5 L294.5 440.6 L294.1 440.6 L293.8 440.6 L293.5 440.5 L293.1 440.5 L292.8 440.4 L292.5 440.4 L292.3 440.5 L292.2 440.6 L292.1 440.8 L291.9 440.9 L292 441.2 L292.1 441.6 L292.1 441.9 L292.2 442.2 L292.2 442.6 L292.3 442.9 L292.1 443 L291.9 443.2 L291.8 443.3 L291.6 443.4 L291.2 443.4 L290.9 443.2 L290.6 443.1 L290.3 443 L290 442.9 L289.7 442.8 L289.5 442.9 L289.3 443 L289.2 443.1 L289 443.2 L289 443.5 L289 443.8 L289 444.2 L288.9 444.5 L288.9 444.9 L288.9 445.2 L288.7 445.3 L288.5 445.4 L288.3 445.5 L288.2 445.5 L287.8 445.4 L287.6 445.2 L287.3 445 L287 444.9 L286.7 444.7 L286.4 444.5 L286.2 444.6 L286.1 444.6 L285.9 444.7 L285.7 444.8 L285.7 445.1 L285.6 445.5 L285.5 445.8 L285.4 446.1 L285.3 446.5 L285.3 446.8 L285 446.9 L284.8 446.9 L284.7 447 L284.4 447.1 L284.2 446.8 L283.9 446.6 L283.7 446.4 L283.4 446.2 L283.2 445.9 L282.9 445.7 L282.7 445.8 L282.5 445.8 L282.4 445.8 L282.2 445.9 L282.1 446.2 L281.9 446.5 L281.8 446.8 L281.7 447.1 L281.6 447.5 L281.4 447.8 L281.3 447.8 L281.1 447.9 L280.9 447.9 L280.7 447.9 L280.5 447.7 L280.2 447.4 L280 447.2 L279.8 447 L279.5 446.7 L279.3 446.5 L279.1 446.5 L278.9 446.5 L278.7 446.6 L278.6 446.6 L278.4 446.9 L278.3 447.3" fill="none" stroke="#000" stroke-width="2.2" stroke-linejoin="round" stroke-linecap="round" />
<path d="M261.5 422 L262 422 L262.7 422.1 L263.5 422.1 L264.4 422.1 L265.3 422.2 L266.3 422.2 L267.3 422.3 L268.4 422.4 L269.4 422.5 L270.3 422.6 L271.2 422.7 L272 422.9 L272.7 423.1 L273.4 423.3 L274.1 423.5 L274.7 423.7 L275.3 424 L275.9 424.3 L276.4 424.6 L277 424.9 L277.5 425.2 L278 425.6 L278.5 426 L279 426.4 L279.5 426.9 L279.9 427.4 L280.4 427.9 L280.8 428.5 L281.2 429.1 L281.6 429.7 L282 430.4 L282.4 431 L282.7 431.6 L283 432.3 L283.3 432.9 L283.5 433.5 L283.7 434.1 L283.9 434.7 L284.1 435.3 L284.2 435.9 L284.3 436.6 L284.4 437.2 L284.5 437.8 L284.5 438.4 L284.5 438.9 L284.5 439.5 L284.5 440 L284.4 440.5 L284.3 441 L284.1 441.4 L283.9 441.9 L283.7 442.4 L283.4 442.8 L283.1 443.2 L282.8 443.6 L282.5 443.9 L282.3 444.2 L282 444.5 L281.8 444.8 L281.7 445" fill="none" stroke="#000" stroke-width="2" stroke-linejoin="round" stroke-linecap="round" />
<path d="M257 427 L257.4 426.5 L257.9 426.1 L258.4 425.7 L259 425.3 L259.6 425 L260.2 424.7 L260.8 424.4 L261.5 424.2 L262.1 424.1 L262.8 424 L263.4 424 L264 424 L264.6 424.1 L265.2 424.3 L265.8 424.5 L266.4 424.9 L267.1 425.2 L267.7 425.6 L268.3 426.1 L268.9 426.6 L269.5 427.1 L270 427.7 L270.5 428.3 L271 429 L271.5 429.7 L271.9 430.5 L272.4 431.4 L272.8 432.3 L273.2 433.3 L273.6 434.2 L273.9 435.3 L274.2 436.3 L274.5 437.2 L274.7 438.2 L274.9 439.1 L275 440 L275.1 440.8 L275.1 441.7 L275 442.6 L275 443.4 L274.8 444.2 L274.7 445.1 L274.5 445.8 L274.3 446.6 L274 447.3 L273.7 447.9 L273.4 448.5 L273 449 L272.6 449.4 L272.1 449.8 L271.6 450.2 L271 450.5 L270.4 450.7 L269.8 450.9 L269.2 451.1 L268.5 451.2 L267.9 451.2 L267.2 451.2 L266.6 451.1 L266 451 L265.4 450.8 L264.8 450.5 L264.2 450.2 L263.6 449.7 L262.9 449.3 L262.3 448.8 L261.7 448.2 L261.1 447.6 L260.5 447 L260 446.3 L259.5 445.7 L259 445 L258.5 444.3 L258.1 443.5 L257.6 442.7 L257.2 441.9 L256.8 441 L256.4 440.1 L256.1 439.2 L255.8 438.3 L255.5 437.5 L255.3 436.6 L255.1 435.8 L255 435 L254.9 434.2 L254.9 433.5 L255 432.7 L255 432 L255.2 431.3 L255.3 430.6 L255.5 429.9 L255.7 429.2 L256 428.6 L256.3 428 L256.6 427.5 L257 427 Z" fill="#fff" stroke="#000" stroke-width="1.8" stroke-linejoin="round" stroke-linecap="round" />
<path d="M261 429 L261.1 429 L261.3 429.1 L261.4 429.1 L261.6 429.1 L261.7 429.5 L261.8 429.9 L261.9 430.3 L261.9 430.7 L262.1 430.7 L262.2 430.8 L262.4 430.8 L262.5 430.8 L262.7 430.5 L262.9 430.1 L263.1 429.8 L263.4 429.5 L263.5 429.5 L263.6 429.5 L263.8 429.6 L263.9 429.6 L264.1 429.7 L264.2 429.7 L264.4 429.8 L264.5 429.9 L264.5 430.3 L264.4 430.6 L264.3 431 L264.2 431.4 L264.4 431.5 L264.3 431.5 L264.5 431.6 L264.6 431.7 L264.8 431.4 L265.2 431.2 L265.6 431.1 L265.9 430.9 L266 431 L266.1 431.2 L266.2 431.3 L266.3 431.4 L266.4 431.5 L266.5 431.6 L266.6 431.8 L266.6 431.9 L266.4 432.2 L266.2 432.5 L265.9 432.9 L265.7 433.2 L265.7 433.3 L265.8 433.4 L265.9 433.6 L265.9 433.6 L266.3 433.6 L266.7 433.6 L267.1 433.5 L267.5 433.5 L267.6 433.6 L267.7 433.7 L267.7 433.9 L267.8 434 L267.9 434.1 L267.9 434.3 L268 434.4 L268.1 434.5 L267.8 434.8 L267.5 435.1 L267.2 435.4 L267 435.7 L267 435.8 L267.1 435.9 L267.1 436.1 L267.2 436.2 L267.6 436.2 L268 436.2 L268.4 436.2 L268.8 436.2 L268.9 436.3 L268.9 436.5 L269 436.6 L269 436.8 L269.1 436.9 L269.1 437 L269.2 437.2 L269.2 437.3 L268.9 437.6 L268.6 437.9 L268.3 438.1 L268 438.3 L268 438.5 L268.1 438.6 L268.1 438.8 L268.2 438.9 L268.6 438.9 L269 438.9 L269.4 439 L269.8 439 L269.8 439.2 L269.9 439.3 L269.9 439.5 L269.9 439.6 L269.9 439.8 L270 439.9 L270 440.1 L270 440.2 L269.7 440.4 L269.3 440.6 L269 440.8 L268.6 440.9 L268.6 441 L268.6 441.2 L268.6 441.3 L268.6 441.3 L269 441.5 L269.3 441.7 L269.7 441.8 L270.1 442 L270.1 442.2 L270 442.3 L270 442.5 L270 442.6 L270 442.8 L270 442.9 L269.9 443.1 L269.9 443.2 L269.5 443.3 L269.1 443.3 L268.7 443.4 L268.3 443.5 L268.3 443.6 L268.3 443.7 L268.3 443.9 L268.2 444 L268.5 444.3 L268.9 444.5 L269.2 444.7 L269.5 445 L269.5 445.1 L269.4 445.3 L269.4 445.4 L269.4 445.5 L269.3 445.7 L269.3 445.8 L269.2 446 L269.2 446.1 L268.8 446.2 L268.4 446.2 L268 446.3 L267.6 446.4 L267.6 446.6 L267.5 446.7" fill="none" stroke="#000" stroke-width="1.2" stroke-linejoin="round" stroke-linecap="round" />
<path d="M240 431 L240.7 430.5 L241.5 430 L242.3 429.6 L243.1 429.2 L244 428.8 L244.8 428.5 L245.7 428.3 L246.6 428 L247.4 427.8 L248.3 427.7 L249.2 427.6 L250 427.5 L250.8 427.5 L251.7 427.5 L252.6 427.5 L253.4 427.6 L254.3 427.7 L255.2 427.9 L256 428.1 L256.9 428.4 L257.7 428.7 L258.5 429.1 L259.3 429.5 L260 430 L260.7 430.6 L261.4 431.2 L262.1 431.9 L262.8 432.7 L263.4 433.5 L264 434.3 L264.6 435.2 L265.2 436.2 L265.7 437.1 L266.2 438.1 L266.6 439 L267 440 L267.3 441 L267.6 442 L267.9 443.1 L268.1 444.2 L268.2 445.4 L268.4 446.5 L268.4 447.6 L268.5 448.8 L268.5 449.9 L268.5 451 L268.4 452 L268.3 453 L268.2 454 L268 454.9 L267.8 455.9 L267.5 456.8 L267.2 457.7 L266.9 458.6 L266.5 459.5 L266.1 460.3 L265.6 461.1 L265.1 461.8 L264.6 462.4 L264 463 L263.4 463.5 L262.7 464 L261.9 464.4 L261.1 464.8 L260.2 465.1 L259.4 465.4 L258.5 465.6 L257.5 465.8 L256.6 465.9 L255.7 466 L254.9 466 L254 466 L253.2 465.9 L252.3 465.8 L251.5 465.6 L250.6 465.4 L249.7 465.1 L248.9 464.8 L248 464.4 L247.2 464 L246.4 463.6 L245.6 463.1 L244.8 462.6 L244 462 L243.2 461.4 L242.5 460.7 L241.7 460 L241 459.2 L240.3 458.4 L239.6 457.5 L238.9 456.6 L238.2 455.7 L237.6 454.8 L237 453.9 L236.5 452.9 L236 452 L235.5 451.1 L235.1 450.1 L234.7 449.1 L234.3 448 L233.9 447 L233.6 445.9 L233.3 444.9 L233.1 443.9 L232.9 442.8 L232.9 441.8 L232.9 440.9 L233 440 L233.2 439.1 L233.6 438.3 L234 437.4 L234.5 436.6 L235.1 435.8 L235.7 435 L236.4 434.2 L237.1 433.5 L237.8 432.8 L238.5 432.1 L239.3 431.5 L240 431 Z" fill="#fff" stroke="#000" stroke-width="1.9" stroke-linejoin="round" stroke-linecap="round" />
<ellipse cx="248" cy="448.5" rx="14.5" ry="18.5" transform="rotate(-30 248 448.5)" fill="#fff" stroke="#000" stroke-width="2"/>
<ellipse cx="248" cy="450" rx="10" ry="13" transform="rotate(-30 248 450)" fill="none" stroke="#000" stroke-width="1.7"/>
<path d="M240 441 L240.3 441.2 L240.7 441.5 L241.1 441.7 L241.6 442 L242.1 442.4 L242.6 442.8 L243.2 443.2 L243.8 443.6 L244.4 444.1 L244.9 444.7 L245.5 445.3 L246 446 L246.5 446.8 L247.1 447.7 L247.6 448.8 L248.2 449.9 L248.8 451.1 L249.4 452.3 L249.9 453.5 L250.4 454.6 L250.9 455.7 L251.3 456.6 L251.7 457.4 L252 458" fill="none" stroke="#000" stroke-width="1.8" stroke-linejoin="round" stroke-linecap="round" />
<path d="M243 438 L243.4 438.2 L243.9 438.3 L244.5 438.5 L245.2 438.7 L245.9 438.9 L246.7 439.2 L247.5 439.5 L248.3 439.9 L249 440.3 L249.7 440.8 L250.4 441.3 L251 442 L251.5 442.8 L252.1 443.8 L252.6 444.9 L253.1 446.1 L253.5 447.4 L254 448.8 L254.4 450 L254.8 451.3 L255.2 452.5 L255.5 453.5 L255.8 454.3 L256 455" fill="none" stroke="#000" stroke-width="1.1" stroke-linejoin="round" stroke-linecap="round" />
<path d="M236,475 L245,470" fill="none" stroke="#000" stroke-width="4.6" stroke-linejoin="round" stroke-linecap="round" />
<path d="M236,475 L245,470" fill="none" stroke="#fff" stroke-width="1.6" stroke-linejoin="round" stroke-linecap="round" />
<path d="M196 455 L196.2 453.8 L196.8 453 L197.5 452.7 L198.4 452.6 L199.5 452.9 L200.8 453.3 L202 453.9 L203.3 454.6 L204.6 455.3 L205.9 456 L207 456.6 L208 457 L208.9 457.3 L209.8 457.7 L210.7 458 L211.6 458.4 L212.4 458.8 L213.3 459.2 L214.1 459.7 L214.9 460.2 L215.7 460.8 L216.5 461.4 L217.3 462.2 L218 463 L218.7 463.9 L219.5 465 L220.2 466.1 L220.9 467.4 L221.6 468.7 L222.2 470 L222.9 471.4 L223.5 472.7 L224.1 474.1 L224.6 475.5 L225.1 476.8 L225.5 478 L225.9 479.2 L226.2 480.4 L226.6 481.7 L226.9 482.9 L227.1 484.1 L227.3 485.3 L227.5 486.5 L227.6 487.7 L227.7 488.8 L227.7 489.9 L227.6 491 L227.5 492 L227.3 493 L227.1 494.1 L226.9 495.2 L226.6 496.4 L226.3 497.5 L225.9 498.5 L225.4 499.5 L224.9 500.3 L224.3 501 L223.6 501.5 L222.8 501.9 L222 502 L221 502 L219.9 501.8 L218.6 501.5 L217.2 501.1 L215.8 500.6 L214.3 499.9 L212.8 499.1 L211.3 498.1 L209.8 496.9 L208.4 495.5 L207.2 493.8 L206 492 L204.9 489.7 L203.7 486.9 L202.6 483.7 L201.4 480.2 L200.3 476.5 L199.2 472.8 L198.3 469 L197.5 465.4 L196.8 462.1 L196.3 459.2 L196 456.8 L196 455 Z" fill="#fff" stroke="#000" stroke-width="1.9" stroke-linejoin="round" stroke-linecap="round" />
<path d="M223,491 L227,490" fill="none" stroke="#000" stroke-width="1.3" stroke-linejoin="round" stroke-linecap="round" />
<ellipse cx="188.6" cy="492.4" rx="33.2" ry="50.4" transform="rotate(-34 188.6 492.4)" fill="#fff" stroke="#000" stroke-width="2.3"/>
<ellipse cx="188.8" cy="492.6" rx="29" ry="46.2" transform="rotate(-34 188.8 492.6)" fill="none" stroke="#000" stroke-width="1.9"/>
<ellipse cx="189.5" cy="493.5" rx="25" ry="42.2" transform="rotate(-34 189.5 493.5)" fill="none" stroke="#000" stroke-width="1.9"/>
<path d="M171 463 L170.9 463.8 L170.8 464.8 L170.7 466 L170.6 467.3 L170.4 468.7 L170.2 470.2 L170.1 471.8 L170 473.5 L169.9 475.1 L169.9 476.8 L169.9 478.4 L170 480 L170.2 481.6 L170.4 483.3 L170.6 485 L170.9 486.7 L171.2 488.5 L171.6 490.3 L171.9 492.1 L172.3 493.8 L172.7 495.5 L173.2 497.1 L173.6 498.6 L174 500 L174.4 501.3 L175 502.6 L175.5 503.8 L176.1 505 L176.7 506.2 L177.2 507.2 L177.8 508.3 L178.4 509.2 L178.9 510 L179.3 510.8 L179.7 511.4 L180 512" fill="none" stroke="#000" stroke-width="1.4" stroke-linejoin="round" stroke-linecap="round" />
<path d="M159,470 C162,463 167,459 172,457 L171,463 C167,465 164,468 161,473 Z" fill="#000" stroke="#000" stroke-width="1.1" stroke-linejoin="round" stroke-linecap="round" />
<path d="M186,471 C191,472 195,475 198,480 L193,484 C191,479 189,476 186,474 Z" fill="#000" stroke="#000" stroke-width="1.1" stroke-linejoin="round" stroke-linecap="round" />
<path d="M179 460 L179.6 460.4 L180.4 460.8 L181.4 461.3 L182.4 461.9 L183.6 462.6 L184.8 463.2 L186.1 464 L187.3 464.7 L188.6 465.5 L189.8 466.3 L190.9 467.2 L192 468 L193 468.8 L194 469.7 L195 470.6 L196 471.6 L197 472.5 L197.9 473.5 L198.9 474.5 L199.8 475.6 L200.6 476.6 L201.5 477.7 L202.3 478.8 L203 480 L203.7 481.2 L204.4 482.5 L205 483.8 L205.6 485.2 L206.2 486.6 L206.7 488 L207.2 489.4 L207.6 490.8 L208 492.2 L208.4 493.5 L208.7 494.8 L209 496 L209.2 497.2 L209.3 498.4 L209.4 499.6 L209.4 500.7 L209.4 501.9 L209.4 503 L209.3 504.1 L209.2 505 L209.1 505.9 L209.1 506.7 L209 507.4 L209 508" fill="none" stroke="#000" stroke-width="1.4" stroke-linejoin="round" stroke-linecap="round" />
<circle cx="207.8" cy="501.7" r="1.7" fill="#000"/>
<path d="M203,480 L207,477" fill="none" stroke="#000" stroke-width="1.3" stroke-linejoin="round" stroke-linecap="round" />
<path d="M133 509 L133.1 507.9 L133.4 507.1 L133.9 506.4 L134.6 506 L135.4 505.7 L136.3 505.6 L137.3 505.5 L138.3 505.6 L139.4 505.6 L140.3 505.7 L141.2 505.8 L142 505.9 L142.7 506 L143.4 506.1 L144.1 506.3 L144.8 506.5 L145.5 506.8 L146.2 507.1 L146.9 507.5 L147.5 507.9 L148.2 508.4 L148.8 508.9 L149.4 509.4 L150 510 L150.6 510.6 L151.2 511.3 L151.8 512.1 L152.3 513 L152.9 513.8 L153.5 514.8 L154 515.7 L154.5 516.6 L154.9 517.5 L155.3 518.4 L155.7 519.2 L156 520 L156.3 520.7 L156.5 521.5 L156.7 522.2 L156.8 522.9 L156.9 523.6 L157 524.3 L157.1 524.9 L157.1 525.6 L157 526.2 L157 526.8 L156.8 527.4 L156.7 528 L156.5 528.6 L156.3 529.1 L156 529.6 L155.7 530.2 L155.3 530.7 L154.9 531.2 L154.5 531.6 L154 532.1 L153.5 532.5 L153 532.8 L152.5 533.2 L152 533.5 L151.5 533.9 L150.9 534.3 L150.3 534.8 L149.7 535.3 L149.1 535.8 L148.4 536.2 L147.7 536.5 L147 536.7 L146.3 536.7 L145.5 536.4 L144.8 535.9 L144 535 L143.1 533.7 L142.1 532 L141 529.9 L139.8 527.5 L138.6 525 L137.4 522.3 L136.3 519.6 L135.3 517 L134.4 514.5 L133.7 512.3 L133.2 510.5 L133 509 Z" fill="#fff" stroke="#000" stroke-width="2.1" stroke-linejoin="round" stroke-linecap="round" />
<ellipse cx="138.5" cy="522.5" rx="9.8" ry="15" transform="rotate(-30 138.5 522.5)" fill="#fff" stroke="#000" stroke-width="2.4"/>
<ellipse cx="139" cy="523" rx="6.5" ry="11" transform="rotate(-30 139 523)" fill="none" stroke="#000" stroke-width="1.7"/>
<path d="M146,531 L151,528 L153,532" fill="none" stroke="#000" stroke-width="1.3" stroke-linejoin="round" stroke-linecap="round" />
<path d="M99.5 536.4 L99.6 535.2 L99.7 534 L100 533 L100.3 531.9 L100.8 531 L101.3 530.1 L101.8 529.3 L102.5 528.5 L103.2 527.9 L104 527.4 L104.9 527 L105.8 526.6 L112.3 525.1 L113.3 524.9 L114.3 524.8 L115.3 524.8 L116.3 524.9 L117.4 525.1 L118.5 525.5 L119.6 525.9 L120.6 526.5 L121.7 527.1 L122.7 527.8 L123.7 528.6 L124.6 529.5 L125.5 530.5 L126.3 531.5 L127.1 532.6 L127.8 533.8 L128.5 535 L129 536.2 L129.5 537.5 L129.9 538.7 L130.2 540 L130.4 541.2 L130.6 542.5 L130.6 543.7 L130.5 544.9 L130.4 546 L130.1 547.1 L129.8 548.2 L129.3 549.1 L128.8 550 L128.2 550.8 L127.6 551.6 L126.8 552.2 L126 552.7 L125.2 553.1 L124.3 553.5 L117.8 555 L116.8 555.2 L115.8 555.3 L114.8 555.3 L113.8 555.2 L112.7 555 L111.6 554.6 L110.5 554.2 L109.5 553.6 L108.4 553 L107.4 552.3 L106.4 551.5 L105.5 550.6 L104.6 549.6 L103.8 548.5 L103 547.5 L102.3 546.3 L101.6 545.1 L101.1 543.9 L100.6 542.6 L100.2 541.4 L99.9 540.1 L99.7 538.9 L99.5 537.6 Z" fill="#fff" stroke="#000" stroke-width="1.8" stroke-linejoin="round" stroke-linecap="round" />
<ellipse cx="111.8" cy="540.8" rx="11" ry="15.5" transform="rotate(-30 111.8 540.8)" fill="#fff" stroke="#000" stroke-width="1.8"/>
<ellipse cx="106" cy="539.9" rx="1.8" ry="1.8" transform="rotate(0 106 539.9)" fill="none" stroke="#000" stroke-width="1.4"/>
<ellipse cx="112.4" cy="535.4" rx="1.8" ry="1.8" transform="rotate(0 112.4 535.4)" fill="none" stroke="#000" stroke-width="1.4"/>
<ellipse cx="116.9" cy="549.5" rx="1.8" ry="1.8" transform="rotate(0 116.9 549.5)" fill="none" stroke="#000" stroke-width="1.4"/>
<path d="M572 416 L572.7 415.3 L573.5 414.6 L574.5 413.9 L575.7 413.2 L577 412.6 L578.2 412.1 L579.6 411.6 L580.8 411.1 L582.1 410.8 L583.2 410.4 L584.1 410.2 L584.9 410 L585.5 409.9 L586 409.9 L586.4 410 L586.7 410.1 L587 410.3 L587.2 410.6 L587.4 410.9 L587.5 411.2 L587.6 411.5 L587.8 411.9 L587.9 412.2 L588.1 412.5 L588.3 412.8 L588.5 413.2 L588.7 413.6 L588.9 414 L589 414.5 L589.2 414.9 L589.3 415.4 L589.5 415.8 L589.6 416.2 L589.6 416.6 L589.7 417 L589.7 417.3 L589.7 417.6 L589.7 417.8 L589.7 418 L589.7 418.1 L589.7 418.3 L589.6 418.4 L589.5 418.5 L589.3 418.7 L589.1 418.9 L588.9 419.1 L588.5 419.4 L588.1 419.7 L587.6 420.1 L586.9 420.6 L586.2 421.1 L585.4 421.7 L584.5 422.3 L583.6 422.9 L582.7 423.5 L581.8 424.2 L580.9 424.7 L580 425.2 L579.2 425.7 L578.5 426.1 L577.8 426.5 L577.2 426.8 L576.5 427.2 L575.9 427.6 L575.2 427.9 L574.6 428.2 L574.1 428.4 L573.6 428.6 L573.1 428.6 L572.7 428.5 L572.3 428.3 L572 428 L571.7 427.5 L571.5 426.7 L571.2 425.8 L571 424.8 L570.9 423.7 L570.8 422.5 L570.8 421.3 L570.8 420.1 L570.9 418.9 L571.2 417.8 L571.5 416.8 L572 416 Z" fill="#fff" stroke="#000" stroke-width="1.9" stroke-linejoin="round" stroke-linecap="round" />
<path d="M577.0,422.5 L587.5,417.0" fill="none" stroke="#000" stroke-width="1.2" stroke-linejoin="round" stroke-linecap="round" />
<path d="M566 403 L566.3 402.3 L566.8 401.7 L567.3 401.2 L568 400.8 L568.7 400.4 L569.5 400.1 L570.3 399.8 L571 399.6 L571.8 399.3 L572.5 399.2 L573.2 399 L573.7 398.8 L574.2 398.6 L574.6 398.5 L574.9 398.4 L575.3 398.3 L575.6 398.3 L575.9 398.2 L576.2 398.2 L576.4 398.3 L576.7 398.4 L577 398.5 L577.4 398.6 L577.7 398.8 L578.1 399 L578.5 399.3 L578.9 399.6 L579.3 400 L579.8 400.4 L580.2 400.9 L580.7 401.3 L581.1 401.8 L581.5 402.2 L581.9 402.7 L582.2 403.2 L582.5 403.6 L582.8 404.1 L583 404.5 L583.3 405 L583.5 405.6 L583.7 406.1 L583.9 406.6 L584.1 407.1 L584.2 407.6 L584.3 408.1 L584.4 408.5 L584.5 408.9 L584.5 409.2 L584.5 409.5 L584.5 409.7 L584.4 409.8 L584.3 410 L584.2 410.1 L584.1 410.1 L583.9 410.2 L583.7 410.3 L583.5 410.4 L583.2 410.5 L582.9 410.6 L582.5 410.8 L582.1 411 L581.6 411.3 L581.1 411.5 L580.5 411.8 L579.9 412.1 L579.2 412.4 L578.6 412.7 L577.9 413 L577.2 413.2 L576.6 413.5 L575.9 413.8 L575.3 414 L574.7 414.3 L574 414.6 L573.4 414.9 L572.7 415.3 L572 415.7 L571.3 416 L570.7 416.3 L570 416.5 L569.5 416.6 L568.9 416.5 L568.4 416.4 L568 416 L567.6 415.4 L567.2 414.6 L566.9 413.6 L566.6 412.5 L566.3 411.2 L566.1 409.9 L565.9 408.6 L565.8 407.2 L565.7 406 L565.7 404.8 L565.8 403.8 L566 403 Z" fill="#fff" stroke="#000" stroke-width="1.9" stroke-linejoin="round" stroke-linecap="round" />
<path d="M557 399 L557.1 398.6 L557.4 398.1 L557.9 397.7 L558.4 397.3 L559 396.9 L559.6 396.6 L560.3 396.3 L561 396 L561.7 395.7 L562.3 395.5 L562.8 395.3 L563.3 395.2 L563.7 395.1 L564 395.1 L564.3 395.1 L564.6 395.1 L564.9 395.2 L565.1 395.3 L565.3 395.4 L565.5 395.6 L565.8 395.8 L566 396 L566.2 396.2 L566.5 396.4 L566.8 396.6 L567.1 396.9 L567.4 397.2 L567.7 397.6 L568.1 397.9 L568.4 398.3 L568.7 398.7 L569 399.1 L569.2 399.4 L569.4 399.8 L569.6 400.1 L569.7 400.4 L569.8 400.7 L569.8 400.9 L569.8 401.1 L569.8 401.3 L569.8 401.5 L569.7 401.6 L569.6 401.8 L569.5 402 L569.3 402.2 L569.1 402.4 L568.8 402.6 L568.5 402.8 L568.1 403.1 L567.7 403.4 L567.2 403.8 L566.7 404.2 L566.1 404.6 L565.5 405 L564.9 405.3 L564.3 405.7 L563.6 405.9 L563.1 406 L562.5 406.1 L562 406 L561.5 405.8 L560.9 405.4 L560.4 404.9 L559.8 404.3 L559.2 403.6 L558.7 402.9 L558.2 402.2 L557.8 401.5 L557.4 400.8 L557.2 400.1 L557 399.5 L557 399 Z" fill="#fff" stroke="#000" stroke-width="1.9" stroke-linejoin="round" stroke-linecap="round" />
<path d="M573 415.1 L573 415.4 L573.1 415.6 L573.1 415.8 L573.6 415.9 L574.1 416.1 L574.6 416.2 L575.2 416.4 L575.7 416.5 L575.7 416.9 L575.7 417.1 L575.8 417.4 L575.8 417.6 L575.3 417.9 L574.9 418.1 L574.4 418.4 L574 418.7 L573.5 418.9 L573.5 419.1 L573.5 419.4 L573.5 419.6 L573.5 419.8 L573.5 420 L573.5 420.3 L574 420.5 L574.5 420.7 L574.9 421 L575.4 421.3 L575.9 421.6 L575.8 421.8 L575.8 422 L575.8 422.2 L575.8 422.5 L575.3 422.7 L574.8 423 L574.3 423.1 L573.8 423.3 L573.2 423.4 L573.2 423.6 L573.2 423.8 L573.1 424.1 L573.1 424.3 L573.1 424.5 L573 424.7 L573.4 425.1 L573.8 425.4 L574.2 425.7 L574.6 426.1 L575.1 426.4 L575 426.6 L574.9 427.1 L574.8 427.3 L574.7 427.5 L574.2 427.5 L573.7 427.6 L573.1 427.6 L572.6 427.7 L572.1 427.7 L572 427.9 L571.9 428.1 L571.8 428.3 L571.7 428.5 L571.6 428.8 L571.5 429 L571.8 429.4 L572.1 429.9 L572.4 430.3 L572.7 430.7 L573 431.2 L572.9 431.4 L572.8 431.6 L572.7 431.8 L572.6 431.9 L571.9 432.1 L571.4 431.9 L570.9 431.8 L570.3 431.7 L569.8 431.6 L569.7 431.8 L569.5 432 L569.4 432.1 L569.2 432.3 L569.1 432.4 L568.9 432.6 L569.1 433.1 L569.3 433.6 L569.5 434.1 L569.5 434.7 L569.6 435.2 L569.4 435.4 L569.3 435.5 L569.1 435.7 L568.9 435.8 L568.2 435.7 L567.8 435.4 L567.3 435.1 L566.9 434.8 L566.5 434.5 L566.3 434.7 L566.1 434.8 L565.9 434.9 L565.7 435 L565.5 435.1 L565.3 435.1 L565.2 435.7 L565.2 436.2 L565 436.8 L564.9 437.3 L564.9 437.8 L564.6 437.9 L564.4 438 L564.2 438 L564 438.1 L563.4 437.7 L563.1 437.3 L562.8 436.8 L562.5 436.4 L562.2 436 L562 436 L561.8 436 L561.6 436 L561.3 436 L561.1 436 L560.9 436 L560.7 436.5 L560.4 437 L560 437.4 L559.7 437.9 L559.5 438.3 L559.2 438.3 L559 438.2 L558.8 438.2 L558.3 438.1 L558.2 437.6 L558.1 437.1 L558 436.6 L557.9 436 L557.8 435.5 L557.6 435.5 L557.4 435.4 L557.1 435.3 L556.9 435.2 L556.7 435.1 L556.5 435 L556.1 435.4 L555.7 435.8 L555.2 436 L554.8 436.4 L554.4 436.7 L554.2 436.6 L554 436.5 L553.8 436.4 L553.6 436.2 L553.4 435.6 L553.5 435.1 L553.6 434.5 L553.7 434 L553.8 433.5 L553.6 433.4 L553.4 433.2 L553.2 433.1 L553.1 433 L552.9 432.8 L552.7 432.7 L552.2 432.9 L551.8 433.1 L551.3 433.3 L550.8 433.5 L550.1 433.6 L550 433.4 L549.8 433.3 L549.7 433.1 L549.5 432.9 L549.7 432.4 L549.9 431.9 L550.1 431.4 L550.3 430.9 L550.5 430.4 L550.4 430.3 L550.2 430.1 L550.1 429.9 L550 429.7 L549.8 429.5 L549.7 429.4 L549.2 429.4 L548.6 429.5 L548.1 429.6 L547.6 429.7 L547.1 429.7 L546.9 429.6 L546.8 429.4 L546.7 429.2 L546.5 428.8 L546.8 428.4 L547.1 428 L547.4 427.5 L547.8 427.1 L548.1 426.7 L548 426.5 L547.9 426.3 L547.8 426.1 L547.7 425.9 L547.6 425.7 L547.5 425.5 L547 425.4 L546.4 425.4 L545.9 425.4 L545.4 425.4 L544.8 425.2 L544.7 425 L544.6 424.8 L544.6 424.6 L544.5 424.3 L544.9 424 L545.3 423.6 L545.6 423.2 L546 422.9 L546.4 422.5 L546.4 422.3 L546.3 422.1 L546.3 421.8 L546.2 421.6 L546.1 421.4 L546.1 421.2 L545.6 421.1 L545 420.9 L544.5 420.8 L544 420.6 L543.5 420.5 L543.5 420.3 L543.4 420.1 L543.4 419.8 L543.4 419.6 L543.8 419.2 L544.2 418.9 L544.7 418.6 L545.1 418.4 L545.6 418.1 L545.6 417.9 L545.6 417.6 L545.5 417.4 L545.5 417.2 L545.5 417 L545.5 416.7 L545 416.5 L544.5 416.3 L544.1 416.1 L543.6 415.9 L543.1 415.6 L543.1 415.4 L543.1 415 L543.1 414.8 L543.1 414.5 L543.6 414.4 L544.1 414.2 L544.6 414 L545.1 413.8 L545.6 413.6 L545.6 413.4 L545.7 413.2 L545.7 412.9 L545.7 412.7 L545.8 412.5 L545.8 412.3 L545.4 412 L544.9 411.7 L544.5 411.4 L544.1 410.9 L543.7 410.6 L543.8 410.4 L543.8 410.1 L543.9 409.9 L543.9 409.7 L544.4 409.6 L545 409.4 L545.5 409.3 L546.1 409.3 L546.6 409.2 L546.7 409 L546.7 408.8 L546.8 408.6 L546.9 408.4 L547 408.2 L547.1 408 L546.7 407.6 L546.4 407.1 L546 406.7 L545.7 406.3 L545.4 405.9 L545.5 405.7 L545.7 405.3 L545.8 405.1 L545.9 404.9 L546.4 405 L547 405 L547.5 405.1 L548 405.1 L548.6 405.2 L548.7 405 L548.8 404.8 L549 404.7 L549.1 404.5 L549.2 404.3 L549.4 404.1 L549.2 403.6 L549 403.1 L548.8 402.6 L548.6 402.1 L548.4 401.6 L548.6 401.5 L548.7 401.3 L549.1 401 L549.3 400.8 L549.8 401.1 L550.3 401.3 L550.7 401.5 L551.2 401.8 L551.7 402 L551.9 401.9 L552.1 401.8 L552.3 401.6 L552.4 401.5 L552.6 401.4 L552.8 401.3 L552.8 400.7 L552.8 400.2 L552.9 399.7 L552.9 399.1 L552.9 398.6 L553.1 398.5 L553.3 398.4 L553.8 398.2 L554 398.2 L554.4 398.6 L554.7 399 L555.1 399.4 L555.4 399.8 L555.8 400.2 L556 400.2 L556.2 400.1 L556.4 400.1 L556.7 400.1 L556.9 400 L557.1 400 L557.3 399.5 L557.6 399 L557.8 398.6 L558 398.1 L558.2 397.6 L558.4 397.6 L559 397.6 L559.2 397.6 L559.4 397.7 L559.6 398.2 L559.8 398.7 L559.9 399.2 L560.1 399.7 L560.2 400.2 L560.5 400.3 L560.7 400.3 L560.9 400.4 L561.1 400.5 L561.3 400.5 L561.5 400.6 L561.9 400.2 L562.3 399.8 L562.7 399.5 L563.1 399.1 L563.5 398.8 L563.7 398.8 L564.1 399.1 L564.3 399.2 L564.5 399.3 L564.5 399.8 L564.5 400.3 L564.4 400.9 L564.4 401.4 L564.4 401.9 L564.6 402 L564.8 402.2 L564.9 402.3 L565.1 402.4 L565.3 402.6 L565.5 402.7 L565.9 402.4 L566.5 402.2 L567 402 L567.4 401.8 L567.9 401.6 L568.1 401.7 L568.3 401.9 L568.4 402 L568.8 402.3 L568.6 402.8 L568.4 403.3 L568.2 403.8 L568 404.3 L567.8 404.8 L568 405 L568.1 405.1 L568.3 405.3 L568.4 405.5 L568.5 405.7 L568.7 405.8 L569.2 405.7 L569.7 405.6 L570.2 405.5 L570.7 405.4 L571.4 405.4 L571.5 405.6 L571.6 405.8 L571.7 406 L571.9 406.2 L571.6 406.6 L571.3 407.1 L571 407.5 L570.8 408 L570.5 408.4 L570.6 408.6 L570.7 408.8 L570.8 409 L570.9 409.2 L571 409.4 L571.1 409.6 L571.6 409.6 L572.2 409.6 L572.7 409.7 L573.2 409.7 L573.8 409.7 L573.8 409.9 L573.9 410.1 L574 410.3 L574.1 410.5 L573.8 411.1 L573.4 411.4 L573 411.8 L572.7 412.2 L572.3 412.5 L572.3 412.7 L572.4 413 L572.5 413.2 L572.6 413.4 L572.6 413.6 L572.7 413.8 L573.2 413.9 L573.7 414 L574.2 414.1 L574.7 414.2 L575.3 414.3 L575.3 414.5 Z" fill="#fff" stroke="#000" stroke-width="1.9" stroke-linejoin="round" stroke-linecap="round" />
<path d="M568.7 416.8 L568.7 417.1 L568.8 417.3 L568.8 417.5 L569.3 417.6 L569.8 417.8 L570.3 417.9 L570.9 418.1 L571.4 418.2 L571.4 418.6 L571.4 418.8 L571.5 419.1 L571.5 419.3 L571 419.6 L570.6 419.8 L570.1 420.1 L569.7 420.4 L569.2 420.6 L569.2 420.8 L569.2 421.1 L569.2 421.3 L569.2 421.5 L569.2 421.7 L569.2 422 L569.7 422.2 L570.2 422.4 L570.6 422.7 L571.1 423 L571.6 423.3 L571.5 423.5 L571.5 423.7 L571.5 423.9 L571.5 424.2 L571 424.4 L570.5 424.7 L570 424.8 L569.5 425 L568.9 425.1 L568.9 425.3 L568.9 425.5 L568.8 425.8 L568.8 426 L568.8 426.2 L568.7 426.4 L569.1 426.8 L569.5 427.1 L569.9 427.4 L570.3 427.8 L570.8 428.1 L570.7 428.3 L570.6 428.8 L570.5 429 L570.4 429.2 L569.9 429.2 L569.4 429.3 L568.8 429.3 L568.3 429.4 L567.8 429.4 L567.7 429.6 L567.6 429.8 L567.5 430 L567.4 430.2 L567.3 430.5 L567.2 430.7 L567.5 431.1 L567.8 431.6 L568.1 432 L568.4 432.4 L568.7 432.9 L568.6 433.1 L568.5 433.3 L568.4 433.5 L568.3 433.6 L567.6 433.8 L567.1 433.6 L566.6 433.5 L566 433.4 L565.5 433.3 L565.4 433.5 L565.2 433.7 L565.1 433.8 L564.9 434 L564.8 434.1 L564.6 434.3 L564.8 434.8 L565 435.3 L565.2 435.8 L565.2 436.4 L565.3 436.9 L565.1 437.1 L565 437.2 L564.8 437.4 L564.6 437.5 L563.9 437.4 L563.5 437.1 L563 436.8 L562.6 436.5 L562.2 436.2 L562 436.4 L561.8 436.5 L561.6 436.6 L561.4 436.7 L561.2 436.8 L561 436.8 L560.9 437.4 L560.9 437.9 L560.7 438.5 L560.6 439 L560.6 439.5 L560.3 439.6 L560.1 439.7 L559.9 439.7 L559.7 439.8 L559.1 439.4 L558.8 439 L558.5 438.5 L558.2 438.1 L557.9 437.7 L557.7 437.7 L557.5 437.7 L557.3 437.7 L557 437.7 L556.8 437.7 L556.6 437.7 L556.4 438.2 L556.1 438.7 L555.7 439.1 L555.4 439.6 L555.2 440 L554.9 440 L554.7 439.9 L554.5 439.9 L554 439.8 L553.9 439.3 L553.8 438.8 L553.7 438.3 L553.6 437.7 L553.5 437.2 L553.3 437.2 L553.1 437.1 L552.8 437 L552.6 436.9 L552.4 436.8 L552.2 436.7 L551.8 437.1 L551.4 437.5 L550.9 437.7 L550.5 438.1 L550.1 438.4 L549.9 438.3 L549.7 438.2 L549.5 438.1 L549.3 437.9 L549.1 437.3 L549.2 436.8 L549.3 436.2 L549.4 435.7 L549.5 435.2 L549.3 435.1 L549.1 434.9 L548.9 434.8 L548.8 434.7 L548.6 434.5 L548.4 434.4 L547.9 434.6 L547.5 434.8 L547 435 L546.5 435.2 L545.8 435.3 L545.7 435.1 L545.5 435 L545.4 434.8 L545.2 434.6 L545.4 434.1 L545.6 433.6 L545.8 433.1 L546 432.6 L546.2 432.1 L546.1 432 L545.9 431.8 L545.8 431.6 L545.7 431.4 L545.5 431.2 L545.4 431.1 L544.9 431.1 L544.3 431.2 L543.8 431.3 L543.3 431.4 L542.8 431.4 L542.6 431.3 L542.5 431.1 L542.4 430.9 L542.2 430.5 L542.5 430.1 L542.8 429.7 L543.1 429.2 L543.5 428.8 L543.8 428.4 L543.7 428.2 L543.6 428 L543.5 427.8 L543.4 427.6 L543.3 427.4 L543.2 427.2 L542.7 427.1 L542.1 427.1 L541.6 427.1 L541.1 427.1 L540.5 426.9 L540.4 426.7 L540.3 426.5 L540.3 426.3 L540.2 426 L540.6 425.7 L541 425.3 L541.3 424.9 L541.7 424.6 L542.1 424.2 L542.1 424 L542 423.8 L542 423.5 L541.9 423.3 L541.8 423.1 L541.8 422.9 L541.3 422.8 L540.7 422.6 L540.2 422.5 L539.7 422.3 L539.2 422.2 L539.2 422 L539.1 421.8 L539.1 421.5 L539.1 421.3 L539.5 420.9 L539.9 420.6 L540.4 420.3 L540.8 420.1 L541.3 419.8 L541.3 419.6 L541.3 419.3 L541.2 419.1 L541.2 418.9 L541.2 418.7 L541.2 418.4 L540.7 418.2 L540.2 418 L539.8 417.8 L539.3 417.6 L538.8 417.3 L538.8 417.1 L538.8 416.7 L538.8 416.5 L538.8 416.2 L539.3 416.1 L539.8 415.9 L540.3 415.7 L540.8 415.5 L541.3 415.3 L541.3 415.1 L541.4 414.9 L541.4 414.6 L541.4 414.4 L541.5 414.2 L541.5 414 L541.1 413.7 L540.6 413.4 L540.2 413.1 L539.8 412.6 L539.4 412.3 L539.5 412.1 L539.5 411.8 L539.6 411.6 L539.6 411.4 L540.1 411.3 L540.7 411.1 L541.2 411 L541.8 411 L542.3 410.9 L542.4 410.7 L542.4 410.5 L542.5 410.3 L542.6 410.1 L542.7 409.9 L542.8 409.7 L542.4 409.3 L542.1 408.8 L541.7 408.4 L541.4 408 L541.1 407.6 L541.2 407.4 L541.4 407 L541.5 406.8 L541.6 406.6 L542.1 406.7 L542.7 406.7 L543.2 406.8 L543.7 406.8 L544.3 406.9 L544.4 406.7 L544.5 406.5 L544.7 406.4 L544.8 406.2 L544.9 406 L545.1 405.8 L544.9 405.3 L544.7 404.8 L544.5 404.3 L544.3 403.8 L544.1 403.3 L544.3 403.2 L544.4 403 L544.8 402.7 L545 402.5 L545.5 402.8 L546 403 L546.4 403.2 L546.9 403.5 L547.4 403.7 L547.6 403.6 L547.8 403.5 L548 403.3 L548.1 403.2 L548.3 403.1 L548.5 403 L548.5 402.4 L548.5 401.9 L548.6 401.4 L548.6 400.8 L548.6 400.3 L548.8 400.2 L549 400.1 L549.5 399.9 L549.7 399.9 L550.1 400.3 L550.4 400.7 L550.8 401.1 L551.1 401.5 L551.5 401.9 L551.7 401.9 L551.9 401.8 L552.1 401.8 L552.4 401.8 L552.6 401.7 L552.8 401.7 L553 401.2 L553.3 400.7 L553.5 400.3 L553.7 399.8 L553.9 399.3 L554.1 399.3 L554.7 399.3 L554.9 399.3 L555.1 399.4 L555.3 399.9 L555.5 400.4 L555.6 400.9 L555.8 401.4 L555.9 401.9 L556.2 402 L556.4 402 L556.6 402.1 L556.8 402.2 L557 402.2 L557.2 402.3 L557.6 401.9 L558 401.5 L558.4 401.2 L558.8 400.8 L559.2 400.5 L559.4 400.5 L559.8 400.8 L560 400.9 L560.2 401 L560.2 401.5 L560.2 402 L560.1 402.6 L560.1 403.1 L560.1 403.6 L560.3 403.7 L560.5 403.9 L560.6 404 L560.8 404.1 L561 404.3 L561.2 404.4 L561.6 404.1 L562.2 403.9 L562.7 403.7 L563.1 403.5 L563.6 403.3 L563.8 403.4 L564 403.6 L564.1 403.7 L564.5 404 L564.3 404.5 L564.1 405 L563.9 405.5 L563.7 406 L563.5 406.5 L563.7 406.7 L563.8 406.8 L564 407 L564.1 407.2 L564.2 407.4 L564.4 407.5 L564.9 407.4 L565.4 407.3 L565.9 407.2 L566.4 407.1 L567.1 407.1 L567.2 407.3 L567.3 407.5 L567.4 407.7 L567.6 407.9 L567.3 408.3 L567 408.8 L566.7 409.2 L566.5 409.7 L566.2 410.1 L566.3 410.3 L566.4 410.5 L566.5 410.7 L566.6 410.9 L566.7 411.1 L566.8 411.3 L567.3 411.3 L567.9 411.3 L568.4 411.4 L568.9 411.4 L569.5 411.4 L569.5 411.6 L569.6 411.8 L569.7 412 L569.8 412.2 L569.5 412.8 L569.1 413.1 L568.7 413.5 L568.4 413.9 L568 414.2 L568 414.4 L568.1 414.7 L568.2 414.9 L568.3 415.1 L568.3 415.3 L568.4 415.5 L568.9 415.6 L569.4 415.7 L569.9 415.8 L570.4 415.9 L571 416 L571 416.2 Z" fill="#fff" stroke="#000" stroke-width="1.9" stroke-linejoin="round" stroke-linecap="round" />
<line x1="548.1" y1="403.2" x2="552.4" y2="401.5" stroke="#000" stroke-width="2.9" stroke-linecap="round"/>
<line x1="549.9" y1="402.4" x2="554.2" y2="400.7" stroke="#000" stroke-width="2.9" stroke-linecap="round"/>
<line x1="551.8" y1="401.8" x2="556.1" y2="400.1" stroke="#000" stroke-width="2.9" stroke-linecap="round"/>
<line x1="553.8" y1="401.7" x2="558.1" y2="400" stroke="#000" stroke-width="2.9" stroke-linecap="round"/>
<line x1="555.8" y1="401.9" x2="560.1" y2="400.2" stroke="#000" stroke-width="2.9" stroke-linecap="round"/>
<line x1="557.8" y1="402.5" x2="562.1" y2="400.8" stroke="#000" stroke-width="2.9" stroke-linecap="round"/>
<line x1="559.7" y1="403.4" x2="564" y2="401.7" stroke="#000" stroke-width="2.9" stroke-linecap="round"/>
<line x1="561.6" y1="404.7" x2="565.9" y2="403" stroke="#000" stroke-width="2.9" stroke-linecap="round"/>
<line x1="563.3" y1="406.3" x2="567.6" y2="404.6" stroke="#000" stroke-width="2.9" stroke-linecap="round"/>
<line x1="564.9" y1="408.1" x2="569.2" y2="406.4" stroke="#000" stroke-width="2.9" stroke-linecap="round"/>
<line x1="566.2" y1="410.2" x2="570.5" y2="408.5" stroke="#000" stroke-width="2.9" stroke-linecap="round"/>
<line x1="567.4" y1="412.5" x2="571.7" y2="410.8" stroke="#000" stroke-width="2.9" stroke-linecap="round"/>
<line x1="568.2" y1="415" x2="572.5" y2="413.3" stroke="#000" stroke-width="2.9" stroke-linecap="round"/>
<line x1="568.8" y1="417.5" x2="573.1" y2="415.8" stroke="#000" stroke-width="2.9" stroke-linecap="round"/>
<line x1="569.2" y1="420.1" x2="573.5" y2="418.4" stroke="#000" stroke-width="2.9" stroke-linecap="round"/>
<line x1="569.2" y1="422.7" x2="573.5" y2="421" stroke="#000" stroke-width="2.9" stroke-linecap="round"/>
<line x1="568.9" y1="425.2" x2="573.2" y2="423.5" stroke="#000" stroke-width="2.9" stroke-linecap="round"/>
<line x1="568.4" y1="427.6" x2="572.7" y2="425.9" stroke="#000" stroke-width="2.9" stroke-linecap="round"/>
<line x1="567.6" y1="429.9" x2="571.9" y2="428.2" stroke="#000" stroke-width="2.9" stroke-linecap="round"/>
<line x1="566.5" y1="431.9" x2="570.8" y2="430.2" stroke="#000" stroke-width="2.9" stroke-linecap="round"/>
<line x1="565.2" y1="433.7" x2="569.5" y2="432" stroke="#000" stroke-width="2.9" stroke-linecap="round"/>
<line x1="549.3" y1="402.7" x2="551.1" y2="402.1" stroke="#fff" stroke-width="0.9" stroke-linecap="round"/>
<line x1="551.1" y1="401.8" x2="552.9" y2="401.2" stroke="#fff" stroke-width="0.9" stroke-linecap="round"/>
<line x1="553.1" y1="401.3" x2="554.8" y2="400.6" stroke="#fff" stroke-width="0.9" stroke-linecap="round"/>
<line x1="555" y1="401.2" x2="556.8" y2="400.5" stroke="#fff" stroke-width="0.9" stroke-linecap="round"/>
<line x1="557.1" y1="401.4" x2="558.8" y2="400.7" stroke="#fff" stroke-width="0.9" stroke-linecap="round"/>
<line x1="559.1" y1="402" x2="560.8" y2="401.3" stroke="#fff" stroke-width="0.9" stroke-linecap="round"/>
<line x1="561" y1="402.9" x2="562.7" y2="402.2" stroke="#fff" stroke-width="0.9" stroke-linecap="round"/>
<line x1="562.9" y1="404.2" x2="564.6" y2="403.5" stroke="#fff" stroke-width="0.9" stroke-linecap="round"/>
<line x1="564.6" y1="405.8" x2="566.3" y2="405.1" stroke="#fff" stroke-width="0.9" stroke-linecap="round"/>
<line x1="566.2" y1="407.6" x2="567.9" y2="406.9" stroke="#fff" stroke-width="0.9" stroke-linecap="round"/>
<line x1="567.5" y1="409.7" x2="569.2" y2="409" stroke="#fff" stroke-width="0.9" stroke-linecap="round"/>
<line x1="568.6" y1="412" x2="570.4" y2="411.3" stroke="#fff" stroke-width="0.9" stroke-linecap="round"/>
<line x1="569.5" y1="414.5" x2="571.2" y2="413.8" stroke="#fff" stroke-width="0.9" stroke-linecap="round"/>
<line x1="570.1" y1="417" x2="571.8" y2="416.3" stroke="#fff" stroke-width="0.9" stroke-linecap="round"/>
<line x1="570.5" y1="419.6" x2="572.2" y2="418.9" stroke="#fff" stroke-width="0.9" stroke-linecap="round"/>
<line x1="570.5" y1="422.2" x2="572.2" y2="421.5" stroke="#fff" stroke-width="0.9" stroke-linecap="round"/>
<line x1="570.2" y1="424.7" x2="572" y2="424" stroke="#fff" stroke-width="0.9" stroke-linecap="round"/>
<line x1="569.7" y1="427.1" x2="571.4" y2="426.4" stroke="#fff" stroke-width="0.9" stroke-linecap="round"/>
<line x1="568.9" y1="429.4" x2="570.6" y2="428.7" stroke="#fff" stroke-width="0.9" stroke-linecap="round"/>
<line x1="567.8" y1="431.4" x2="569.5" y2="430.7" stroke="#fff" stroke-width="0.9" stroke-linecap="round"/>
<line x1="566.5" y1="433.2" x2="568.2" y2="432.5" stroke="#fff" stroke-width="0.9" stroke-linecap="round"/>
<ellipse cx="555.2" cy="420.5" rx="5.6" ry="7.2" transform="rotate(-30 555.2 420.5)" fill="#fff" stroke="#000" stroke-width="1.9"/>
<ellipse cx="555.8" cy="420.5" rx="2.8" ry="4.2" transform="rotate(-30 555.8 420.5)" fill="none" stroke="#000" stroke-width="1.5"/>
<path d="M546.0,420.0 L550.0,421.0" fill="none" stroke="#000" stroke-width="1.5" stroke-linejoin="round" stroke-linecap="round" />
<circle cx="553.6" cy="430.1" r="1.3" fill="#000"/>
<circle cx="558.4" cy="432.5" r="1.3" fill="#000"/>
<path d="M607.7 448.3 L608.4 447.6 L609.2 446.9 L610.2 446.2 L611.4 445.5 L612.7 444.9 L614 444.4 L615.3 443.9 L616.5 443.4 L617.8 443.1 L618.9 442.7 L619.8 442.5 L620.6 442.3 L621.2 442.2 L621.7 442.2 L622.1 442.3 L622.4 442.4 L622.7 442.6 L622.9 442.9 L623.1 443.2 L623.2 443.5 L623.3 443.8 L623.5 444.2 L623.6 444.5 L623.8 444.8 L624 445.1 L624.2 445.5 L624.4 445.9 L624.6 446.3 L624.7 446.8 L624.9 447.2 L625 447.7 L625.2 448.1 L625.3 448.5 L625.3 448.9 L625.4 449.3 L625.4 449.6 L625.4 449.9 L625.4 450.1 L625.4 450.3 L625.4 450.4 L625.4 450.6 L625.3 450.7 L625.2 450.8 L625 451 L624.8 451.2 L624.6 451.4 L624.2 451.7 L623.8 452 L623.3 452.4 L622.6 452.9 L621.9 453.4 L621.1 454 L620.2 454.6 L619.3 455.2 L618.4 455.8 L617.5 456.5 L616.6 457 L615.7 457.5 L614.9 458 L614.2 458.4 L613.5 458.8 L612.9 459.1 L612.2 459.5 L611.6 459.9 L610.9 460.2 L610.4 460.5 L609.8 460.7 L609.3 460.9 L608.8 460.9 L608.4 460.8 L608 460.6 L607.7 460.3 L607.4 459.8 L607.2 459 L606.9 458.1 L606.7 457.1 L606.6 456 L606.5 454.8 L606.5 453.6 L606.5 452.4 L606.6 451.2 L606.9 450.1 L607.2 449.1 L607.7 448.3 Z" fill="#fff" stroke="#000" stroke-width="1.9" stroke-linejoin="round" stroke-linecap="round" />
<path d="M612.7,454.8 L623.2,449.3" fill="none" stroke="#000" stroke-width="1.2" stroke-linejoin="round" stroke-linecap="round" />
<path d="M601.7 435.3 L602 434.6 L602.5 434 L603 433.5 L603.7 433.1 L604.4 432.7 L605.2 432.4 L606 432.1 L606.7 431.9 L607.5 431.6 L608.2 431.5 L608.9 431.3 L609.4 431.1 L609.9 430.9 L610.3 430.8 L610.6 430.7 L611 430.6 L611.3 430.6 L611.6 430.5 L611.9 430.5 L612.1 430.6 L612.4 430.7 L612.7 430.8 L613.1 430.9 L613.4 431.1 L613.8 431.3 L614.2 431.6 L614.6 431.9 L615 432.3 L615.5 432.7 L615.9 433.2 L616.4 433.6 L616.8 434.1 L617.2 434.5 L617.6 435 L617.9 435.5 L618.2 435.9 L618.5 436.4 L618.7 436.8 L619 437.3 L619.2 437.9 L619.4 438.4 L619.6 438.9 L619.8 439.4 L619.9 439.9 L620 440.4 L620.1 440.8 L620.2 441.2 L620.2 441.5 L620.2 441.8 L620.2 442 L620.1 442.1 L620 442.3 L619.9 442.4 L619.8 442.4 L619.6 442.5 L619.4 442.6 L619.2 442.7 L618.9 442.8 L618.6 442.9 L618.2 443.1 L617.8 443.3 L617.3 443.6 L616.8 443.8 L616.2 444.1 L615.6 444.4 L614.9 444.7 L614.3 445 L613.6 445.3 L612.9 445.5 L612.3 445.8 L611.6 446.1 L611 446.3 L610.4 446.6 L609.7 446.9 L609.1 447.2 L608.4 447.6 L607.7 448 L607 448.3 L606.4 448.6 L605.7 448.8 L605.2 448.9 L604.6 448.8 L604.1 448.7 L603.7 448.3 L603.3 447.7 L602.9 446.9 L602.6 445.9 L602.3 444.8 L602 443.5 L601.8 442.2 L601.6 440.9 L601.5 439.5 L601.4 438.3 L601.4 437.1 L601.5 436.1 L601.7 435.3 Z" fill="#fff" stroke="#000" stroke-width="1.9" stroke-linejoin="round" stroke-linecap="round" />
<path d="M592.7 431.3 L592.8 430.9 L593.1 430.4 L593.6 430 L594.1 429.6 L594.7 429.2 L595.3 428.9 L596 428.6 L596.7 428.3 L597.4 428 L598 427.8 L598.5 427.6 L599 427.5 L599.4 427.4 L599.7 427.4 L600 427.4 L600.3 427.4 L600.6 427.5 L600.8 427.6 L601 427.7 L601.2 427.9 L601.5 428.1 L601.7 428.3 L601.9 428.5 L602.2 428.7 L602.5 428.9 L602.8 429.2 L603.1 429.5 L603.4 429.9 L603.8 430.2 L604.1 430.6 L604.4 431 L604.7 431.4 L604.9 431.7 L605.1 432.1 L605.3 432.4 L605.4 432.7 L605.5 433 L605.5 433.2 L605.5 433.4 L605.5 433.6 L605.5 433.8 L605.4 433.9 L605.3 434.1 L605.2 434.3 L605 434.5 L604.8 434.7 L604.5 434.9 L604.2 435.1 L603.8 435.4 L603.4 435.7 L602.9 436.1 L602.4 436.5 L601.8 436.9 L601.2 437.3 L600.6 437.6 L600 438 L599.3 438.2 L598.8 438.3 L598.2 438.4 L597.7 438.3 L597.2 438.1 L596.6 437.7 L596.1 437.2 L595.5 436.6 L594.9 435.9 L594.4 435.2 L593.9 434.5 L593.5 433.8 L593.1 433.1 L592.9 432.4 L592.7 431.8 L592.7 431.3 Z" fill="#fff" stroke="#000" stroke-width="1.9" stroke-linejoin="round" stroke-linecap="round" />
<path d="M608.7 447.4 L608.7 447.7 L608.8 447.9 L608.8 448.1 L609.3 448.2 L609.8 448.4 L610.3 448.5 L610.9 448.7 L611.4 448.8 L611.4 449.2 L611.4 449.4 L611.5 449.7 L611.5 449.9 L611 450.2 L610.6 450.4 L610.1 450.7 L609.7 451 L609.2 451.2 L609.2 451.4 L609.2 451.7 L609.2 451.9 L609.2 452.1 L609.2 452.3 L609.2 452.6 L609.7 452.8 L610.2 453 L610.6 453.3 L611.1 453.6 L611.6 453.9 L611.5 454.1 L611.5 454.3 L611.5 454.5 L611.5 454.8 L611 455 L610.5 455.3 L610 455.4 L609.5 455.6 L608.9 455.7 L608.9 455.9 L608.9 456.1 L608.8 456.4 L608.8 456.6 L608.8 456.8 L608.7 457 L609.1 457.4 L609.5 457.7 L609.9 458 L610.3 458.4 L610.8 458.7 L610.7 458.9 L610.6 459.4 L610.5 459.6 L610.4 459.8 L609.9 459.8 L609.4 459.9 L608.8 459.9 L608.3 460 L607.8 460 L607.7 460.2 L607.6 460.4 L607.5 460.6 L607.4 460.8 L607.3 461.1 L607.2 461.3 L607.5 461.7 L607.8 462.2 L608.1 462.6 L608.4 463 L608.7 463.5 L608.6 463.7 L608.5 463.9 L608.4 464.1 L608.3 464.2 L607.6 464.4 L607.1 464.2 L606.6 464.1 L606 464 L605.5 463.9 L605.4 464.1 L605.2 464.3 L605.1 464.4 L604.9 464.6 L604.8 464.7 L604.6 464.9 L604.8 465.4 L605 465.9 L605.2 466.4 L605.2 467 L605.3 467.5 L605.1 467.7 L605 467.8 L604.8 468 L604.6 468.1 L603.9 468 L603.5 467.7 L603 467.4 L602.6 467.1 L602.2 466.8 L602 467 L601.8 467.1 L601.6 467.2 L601.4 467.3 L601.2 467.4 L601 467.4 L600.9 468 L600.9 468.5 L600.7 469.1 L600.6 469.6 L600.6 470.1 L600.3 470.2 L600.1 470.3 L599.9 470.3 L599.7 470.4 L599.1 470 L598.8 469.6 L598.5 469.1 L598.2 468.7 L597.9 468.3 L597.7 468.3 L597.5 468.3 L597.3 468.3 L597 468.3 L596.8 468.3 L596.6 468.3 L596.4 468.8 L596.1 469.3 L595.7 469.7 L595.4 470.2 L595.2 470.6 L594.9 470.6 L594.7 470.5 L594.5 470.5 L594 470.4 L593.9 469.9 L593.8 469.4 L593.7 468.9 L593.6 468.3 L593.5 467.8 L593.3 467.8 L593.1 467.7 L592.8 467.6 L592.6 467.5 L592.4 467.4 L592.2 467.3 L591.8 467.7 L591.4 468.1 L590.9 468.3 L590.5 468.7 L590.1 469 L589.9 468.9 L589.7 468.8 L589.5 468.7 L589.3 468.5 L589.1 467.9 L589.2 467.4 L589.3 466.8 L589.4 466.3 L589.5 465.8 L589.3 465.7 L589.1 465.5 L588.9 465.4 L588.8 465.3 L588.6 465.1 L588.4 465 L587.9 465.2 L587.5 465.4 L587 465.6 L586.5 465.8 L585.8 465.9 L585.7 465.7 L585.5 465.6 L585.4 465.4 L585.2 465.2 L585.4 464.7 L585.6 464.2 L585.8 463.7 L586 463.2 L586.2 462.7 L586.1 462.6 L585.9 462.4 L585.8 462.2 L585.7 462 L585.5 461.8 L585.4 461.7 L584.9 461.7 L584.3 461.8 L583.8 461.9 L583.3 462 L582.8 462 L582.6 461.9 L582.5 461.7 L582.4 461.5 L582.2 461.1 L582.5 460.7 L582.8 460.3 L583.1 459.8 L583.5 459.4 L583.8 459 L583.7 458.8 L583.6 458.6 L583.5 458.4 L583.4 458.2 L583.3 458 L583.2 457.8 L582.7 457.7 L582.1 457.7 L581.6 457.7 L581.1 457.7 L580.5 457.5 L580.4 457.3 L580.3 457.1 L580.3 456.9 L580.2 456.6 L580.6 456.3 L581 455.9 L581.3 455.5 L581.7 455.2 L582.1 454.8 L582.1 454.6 L582 454.4 L582 454.1 L581.9 453.9 L581.8 453.7 L581.8 453.5 L581.3 453.4 L580.7 453.2 L580.2 453.1 L579.7 452.9 L579.2 452.8 L579.2 452.6 L579.1 452.4 L579.1 452.1 L579.1 451.9 L579.5 451.5 L579.9 451.2 L580.4 450.9 L580.8 450.7 L581.3 450.4 L581.3 450.2 L581.3 449.9 L581.2 449.7 L581.2 449.5 L581.2 449.3 L581.2 449 L580.7 448.8 L580.2 448.6 L579.8 448.4 L579.3 448.2 L578.8 447.9 L578.8 447.7 L578.8 447.3 L578.8 447.1 L578.8 446.8 L579.3 446.7 L579.8 446.5 L580.3 446.3 L580.8 446.1 L581.3 445.9 L581.3 445.7 L581.4 445.5 L581.4 445.2 L581.4 445 L581.5 444.8 L581.5 444.6 L581.1 444.3 L580.6 444 L580.2 443.7 L579.8 443.2 L579.4 442.9 L579.5 442.7 L579.5 442.4 L579.6 442.2 L579.6 442 L580.1 441.9 L580.7 441.7 L581.2 441.6 L581.8 441.6 L582.3 441.5 L582.4 441.3 L582.4 441.1 L582.5 440.9 L582.6 440.7 L582.7 440.5 L582.8 440.3 L582.4 439.9 L582.1 439.4 L581.7 439 L581.4 438.6 L581.1 438.2 L581.2 438 L581.4 437.6 L581.5 437.4 L581.6 437.2 L582.1 437.3 L582.7 437.3 L583.2 437.4 L583.7 437.4 L584.3 437.5 L584.4 437.3 L584.5 437.1 L584.7 437 L584.8 436.8 L584.9 436.6 L585.1 436.4 L584.9 435.9 L584.7 435.4 L584.5 434.9 L584.3 434.4 L584.1 433.9 L584.3 433.8 L584.4 433.6 L584.8 433.3 L585 433.1 L585.5 433.4 L586 433.6 L586.4 433.8 L586.9 434.1 L587.4 434.3 L587.6 434.2 L587.8 434.1 L588 433.9 L588.1 433.8 L588.3 433.7 L588.5 433.6 L588.5 433 L588.5 432.5 L588.6 432 L588.6 431.4 L588.6 430.9 L588.8 430.8 L589 430.7 L589.5 430.5 L589.7 430.5 L590.1 430.9 L590.4 431.3 L590.8 431.7 L591.1 432.1 L591.5 432.5 L591.7 432.5 L591.9 432.4 L592.1 432.4 L592.4 432.4 L592.6 432.3 L592.8 432.3 L593 431.8 L593.3 431.3 L593.5 430.9 L593.7 430.4 L593.9 429.9 L594.1 429.9 L594.7 429.9 L594.9 429.9 L595.1 430 L595.3 430.5 L595.5 431 L595.6 431.5 L595.8 432 L595.9 432.5 L596.2 432.6 L596.4 432.6 L596.6 432.7 L596.8 432.8 L597 432.8 L597.2 432.9 L597.6 432.5 L598 432.1 L598.4 431.8 L598.8 431.4 L599.2 431.1 L599.4 431.1 L599.8 431.4 L600 431.5 L600.2 431.6 L600.2 432.1 L600.2 432.6 L600.1 433.2 L600.1 433.7 L600.1 434.2 L600.3 434.3 L600.5 434.5 L600.6 434.6 L600.8 434.7 L601 434.9 L601.2 435 L601.6 434.7 L602.2 434.5 L602.7 434.3 L603.1 434.1 L603.6 433.9 L603.8 434 L604 434.2 L604.1 434.3 L604.5 434.6 L604.3 435.1 L604.1 435.6 L603.9 436.1 L603.7 436.6 L603.5 437.1 L603.7 437.3 L603.8 437.4 L604 437.6 L604.1 437.8 L604.2 438 L604.4 438.1 L604.9 438 L605.4 437.9 L605.9 437.8 L606.4 437.7 L607.1 437.7 L607.2 437.9 L607.3 438.1 L607.4 438.3 L607.6 438.5 L607.3 438.9 L607 439.4 L606.7 439.8 L606.5 440.3 L606.2 440.7 L606.3 440.9 L606.4 441.1 L606.5 441.3 L606.6 441.5 L606.7 441.7 L606.8 441.9 L607.3 441.9 L607.9 441.9 L608.4 442 L608.9 442 L609.5 442 L609.5 442.2 L609.6 442.4 L609.7 442.6 L609.8 442.8 L609.5 443.4 L609.1 443.7 L608.7 444.1 L608.4 444.5 L608 444.8 L608 445 L608.1 445.3 L608.2 445.5 L608.3 445.7 L608.3 445.9 L608.4 446.1 L608.9 446.2 L609.4 446.3 L609.9 446.4 L610.4 446.5 L611 446.6 L611 446.8 Z" fill="#fff" stroke="#000" stroke-width="1.9" stroke-linejoin="round" stroke-linecap="round" />
<path d="M604.4 449.1 L604.4 449.4 L604.5 449.6 L604.5 449.8 L605 449.9 L605.5 450.1 L606 450.2 L606.6 450.4 L607.1 450.5 L607.1 450.9 L607.1 451.1 L607.2 451.4 L607.2 451.6 L606.7 451.9 L606.3 452.1 L605.8 452.4 L605.4 452.7 L604.9 452.9 L604.9 453.1 L604.9 453.4 L604.9 453.6 L604.9 453.8 L604.9 454 L604.9 454.3 L605.4 454.5 L605.9 454.7 L606.3 455 L606.8 455.3 L607.3 455.6 L607.2 455.8 L607.2 456 L607.2 456.2 L607.2 456.5 L606.7 456.7 L606.2 457 L605.7 457.1 L605.2 457.3 L604.6 457.4 L604.6 457.6 L604.6 457.8 L604.5 458.1 L604.5 458.3 L604.5 458.5 L604.4 458.7 L604.8 459.1 L605.2 459.4 L605.6 459.7 L606 460.1 L606.5 460.4 L606.4 460.6 L606.3 461.1 L606.2 461.3 L606.1 461.5 L605.6 461.5 L605.1 461.6 L604.5 461.6 L604 461.7 L603.5 461.7 L603.4 461.9 L603.3 462.1 L603.2 462.3 L603.1 462.5 L603 462.8 L602.9 463 L603.2 463.4 L603.5 463.9 L603.8 464.3 L604.1 464.7 L604.4 465.2 L604.3 465.4 L604.2 465.6 L604.1 465.8 L604 465.9 L603.3 466.1 L602.8 465.9 L602.3 465.8 L601.7 465.7 L601.2 465.6 L601.1 465.8 L600.9 466 L600.8 466.1 L600.6 466.3 L600.5 466.4 L600.3 466.6 L600.5 467.1 L600.7 467.6 L600.9 468.1 L600.9 468.7 L601 469.2 L600.8 469.4 L600.7 469.5 L600.5 469.7 L600.3 469.8 L599.6 469.7 L599.2 469.4 L598.7 469.1 L598.3 468.8 L597.9 468.5 L597.7 468.7 L597.5 468.8 L597.3 468.9 L597.1 469 L596.9 469.1 L596.7 469.1 L596.6 469.7 L596.6 470.2 L596.4 470.8 L596.3 471.3 L596.3 471.8 L596 471.9 L595.8 472 L595.6 472 L595.4 472.1 L594.8 471.7 L594.5 471.3 L594.2 470.8 L593.9 470.4 L593.6 470 L593.4 470 L593.2 470 L593 470 L592.7 470 L592.5 470 L592.3 470 L592.1 470.5 L591.8 471 L591.4 471.4 L591.1 471.9 L590.9 472.3 L590.6 472.3 L590.4 472.2 L590.2 472.2 L589.7 472.1 L589.6 471.6 L589.5 471.1 L589.4 470.6 L589.3 470 L589.2 469.5 L589 469.5 L588.8 469.4 L588.5 469.3 L588.3 469.2 L588.1 469.1 L587.9 469 L587.5 469.4 L587.1 469.8 L586.6 470 L586.2 470.4 L585.8 470.7 L585.6 470.6 L585.4 470.5 L585.2 470.4 L585 470.2 L584.8 469.6 L584.9 469.1 L585 468.5 L585.1 468 L585.2 467.5 L585 467.4 L584.8 467.2 L584.6 467.1 L584.5 467 L584.3 466.8 L584.1 466.7 L583.6 466.9 L583.2 467.1 L582.7 467.3 L582.2 467.5 L581.5 467.6 L581.4 467.4 L581.2 467.3 L581.1 467.1 L580.9 466.9 L581.1 466.4 L581.3 465.9 L581.5 465.4 L581.7 464.9 L581.9 464.4 L581.8 464.3 L581.6 464.1 L581.5 463.9 L581.4 463.7 L581.2 463.5 L581.1 463.4 L580.6 463.4 L580 463.5 L579.5 463.6 L579 463.7 L578.5 463.7 L578.3 463.6 L578.2 463.4 L578.1 463.2 L577.9 462.8 L578.2 462.4 L578.5 462 L578.8 461.5 L579.2 461.1 L579.5 460.7 L579.4 460.5 L579.3 460.3 L579.2 460.1 L579.1 459.9 L579 459.7 L578.9 459.5 L578.4 459.4 L577.8 459.4 L577.3 459.4 L576.8 459.4 L576.2 459.2 L576.1 459 L576 458.8 L576 458.6 L575.9 458.3 L576.3 458 L576.7 457.6 L577 457.2 L577.4 456.9 L577.8 456.5 L577.8 456.3 L577.7 456.1 L577.7 455.8 L577.6 455.6 L577.5 455.4 L577.5 455.2 L577 455.1 L576.4 454.9 L575.9 454.8 L575.4 454.6 L574.9 454.5 L574.9 454.3 L574.8 454.1 L574.8 453.8 L574.8 453.6 L575.2 453.2 L575.6 452.9 L576.1 452.6 L576.5 452.4 L577 452.1 L577 451.9 L577 451.6 L576.9 451.4 L576.9 451.2 L576.9 451 L576.9 450.7 L576.4 450.5 L575.9 450.3 L575.5 450.1 L575 449.9 L574.5 449.6 L574.5 449.4 L574.5 449 L574.5 448.8 L574.5 448.5 L575 448.4 L575.5 448.2 L576 448 L576.5 447.8 L577 447.6 L577 447.4 L577.1 447.2 L577.1 446.9 L577.1 446.7 L577.2 446.5 L577.2 446.3 L576.8 446 L576.3 445.7 L575.9 445.4 L575.5 444.9 L575.1 444.6 L575.2 444.4 L575.2 444.1 L575.3 443.9 L575.3 443.7 L575.8 443.6 L576.4 443.4 L576.9 443.3 L577.5 443.3 L578 443.2 L578.1 443 L578.1 442.8 L578.2 442.6 L578.3 442.4 L578.4 442.2 L578.5 442 L578.1 441.6 L577.8 441.1 L577.4 440.7 L577.1 440.3 L576.8 439.9 L576.9 439.7 L577.1 439.3 L577.2 439.1 L577.3 438.9 L577.8 439 L578.4 439 L578.9 439.1 L579.4 439.1 L580 439.2 L580.1 439 L580.2 438.8 L580.4 438.7 L580.5 438.5 L580.6 438.3 L580.8 438.1 L580.6 437.6 L580.4 437.1 L580.2 436.6 L580 436.1 L579.8 435.6 L580 435.5 L580.1 435.3 L580.5 435 L580.7 434.8 L581.2 435.1 L581.7 435.3 L582.1 435.5 L582.6 435.8 L583.1 436 L583.3 435.9 L583.5 435.8 L583.7 435.6 L583.8 435.5 L584 435.4 L584.2 435.3 L584.2 434.7 L584.2 434.2 L584.3 433.7 L584.3 433.1 L584.3 432.6 L584.5 432.5 L584.7 432.4 L585.2 432.2 L585.4 432.2 L585.8 432.6 L586.1 433 L586.5 433.4 L586.8 433.8 L587.2 434.2 L587.4 434.2 L587.6 434.1 L587.8 434.1 L588.1 434.1 L588.3 434 L588.5 434 L588.7 433.5 L589 433 L589.2 432.6 L589.4 432.1 L589.6 431.6 L589.8 431.6 L590.4 431.6 L590.6 431.6 L590.8 431.7 L591 432.2 L591.2 432.7 L591.3 433.2 L591.5 433.7 L591.6 434.2 L591.9 434.3 L592.1 434.3 L592.3 434.4 L592.5 434.5 L592.7 434.5 L592.9 434.6 L593.3 434.2 L593.7 433.8 L594.1 433.5 L594.5 433.1 L594.9 432.8 L595.1 432.8 L595.5 433.1 L595.7 433.2 L595.9 433.3 L595.9 433.8 L595.9 434.3 L595.8 434.9 L595.8 435.4 L595.8 435.9 L596 436 L596.2 436.2 L596.3 436.3 L596.5 436.4 L596.7 436.6 L596.9 436.7 L597.3 436.4 L597.9 436.2 L598.4 436 L598.8 435.8 L599.3 435.6 L599.5 435.7 L599.7 435.9 L599.8 436 L600.2 436.3 L600 436.8 L599.8 437.3 L599.6 437.8 L599.4 438.3 L599.2 438.8 L599.4 439 L599.5 439.1 L599.7 439.3 L599.8 439.5 L599.9 439.7 L600.1 439.8 L600.6 439.7 L601.1 439.6 L601.6 439.5 L602.1 439.4 L602.8 439.4 L602.9 439.6 L603 439.8 L603.1 440 L603.3 440.2 L603 440.6 L602.7 441.1 L602.4 441.5 L602.2 442 L601.9 442.4 L602 442.6 L602.1 442.8 L602.2 443 L602.3 443.2 L602.4 443.4 L602.5 443.6 L603 443.6 L603.6 443.6 L604.1 443.7 L604.6 443.7 L605.2 443.7 L605.2 443.9 L605.3 444.1 L605.4 444.3 L605.5 444.5 L605.2 445.1 L604.8 445.4 L604.4 445.8 L604.1 446.2 L603.7 446.5 L603.7 446.7 L603.8 447 L603.9 447.2 L604 447.4 L604 447.6 L604.1 447.8 L604.6 447.9 L605.1 448 L605.6 448.1 L606.1 448.2 L606.7 448.3 L606.7 448.5 Z" fill="#fff" stroke="#000" stroke-width="1.9" stroke-linejoin="round" stroke-linecap="round" />
<line x1="583.8" y1="435.5" x2="588.1" y2="433.8" stroke="#000" stroke-width="2.9" stroke-linecap="round"/>
<line x1="585.6" y1="434.7" x2="589.9" y2="433" stroke="#000" stroke-width="2.9" stroke-linecap="round"/>
<line x1="587.5" y1="434.1" x2="591.8" y2="432.4" stroke="#000" stroke-width="2.9" stroke-linecap="round"/>
<line x1="589.5" y1="434" x2="593.8" y2="432.3" stroke="#000" stroke-width="2.9" stroke-linecap="round"/>
<line x1="591.5" y1="434.2" x2="595.8" y2="432.5" stroke="#000" stroke-width="2.9" stroke-linecap="round"/>
<line x1="593.5" y1="434.8" x2="597.8" y2="433.1" stroke="#000" stroke-width="2.9" stroke-linecap="round"/>
<line x1="595.4" y1="435.7" x2="599.7" y2="434" stroke="#000" stroke-width="2.9" stroke-linecap="round"/>
<line x1="597.3" y1="437" x2="601.6" y2="435.3" stroke="#000" stroke-width="2.9" stroke-linecap="round"/>
<line x1="599" y1="438.6" x2="603.3" y2="436.9" stroke="#000" stroke-width="2.9" stroke-linecap="round"/>
<line x1="600.6" y1="440.4" x2="604.9" y2="438.7" stroke="#000" stroke-width="2.9" stroke-linecap="round"/>
<line x1="601.9" y1="442.5" x2="606.2" y2="440.8" stroke="#000" stroke-width="2.9" stroke-linecap="round"/>
<line x1="603.1" y1="444.8" x2="607.4" y2="443.1" stroke="#000" stroke-width="2.9" stroke-linecap="round"/>
<line x1="603.9" y1="447.3" x2="608.2" y2="445.6" stroke="#000" stroke-width="2.9" stroke-linecap="round"/>
<line x1="604.5" y1="449.8" x2="608.8" y2="448.1" stroke="#000" stroke-width="2.9" stroke-linecap="round"/>
<line x1="604.9" y1="452.4" x2="609.2" y2="450.7" stroke="#000" stroke-width="2.9" stroke-linecap="round"/>
<line x1="604.9" y1="455" x2="609.2" y2="453.3" stroke="#000" stroke-width="2.9" stroke-linecap="round"/>
<line x1="604.6" y1="457.5" x2="608.9" y2="455.8" stroke="#000" stroke-width="2.9" stroke-linecap="round"/>
<line x1="604.1" y1="459.9" x2="608.4" y2="458.2" stroke="#000" stroke-width="2.9" stroke-linecap="round"/>
<line x1="603.3" y1="462.2" x2="607.6" y2="460.5" stroke="#000" stroke-width="2.9" stroke-linecap="round"/>
<line x1="602.2" y1="464.2" x2="606.5" y2="462.5" stroke="#000" stroke-width="2.9" stroke-linecap="round"/>
<line x1="600.9" y1="466" x2="605.2" y2="464.3" stroke="#000" stroke-width="2.9" stroke-linecap="round"/>
<line x1="585" y1="435" x2="586.8" y2="434.4" stroke="#fff" stroke-width="0.9" stroke-linecap="round"/>
<line x1="586.8" y1="434.1" x2="588.6" y2="433.5" stroke="#fff" stroke-width="0.9" stroke-linecap="round"/>
<line x1="588.8" y1="433.6" x2="590.5" y2="432.9" stroke="#fff" stroke-width="0.9" stroke-linecap="round"/>
<line x1="590.7" y1="433.5" x2="592.5" y2="432.8" stroke="#fff" stroke-width="0.9" stroke-linecap="round"/>
<line x1="592.8" y1="433.7" x2="594.5" y2="433" stroke="#fff" stroke-width="0.9" stroke-linecap="round"/>
<line x1="594.8" y1="434.3" x2="596.5" y2="433.6" stroke="#fff" stroke-width="0.9" stroke-linecap="round"/>
<line x1="596.7" y1="435.2" x2="598.4" y2="434.5" stroke="#fff" stroke-width="0.9" stroke-linecap="round"/>
<line x1="598.6" y1="436.5" x2="600.3" y2="435.8" stroke="#fff" stroke-width="0.9" stroke-linecap="round"/>
<line x1="600.3" y1="438.1" x2="602" y2="437.4" stroke="#fff" stroke-width="0.9" stroke-linecap="round"/>
<line x1="601.9" y1="439.9" x2="603.6" y2="439.2" stroke="#fff" stroke-width="0.9" stroke-linecap="round"/>
<line x1="603.2" y1="442" x2="604.9" y2="441.3" stroke="#fff" stroke-width="0.9" stroke-linecap="round"/>
<line x1="604.3" y1="444.3" x2="606.1" y2="443.6" stroke="#fff" stroke-width="0.9" stroke-linecap="round"/>
<line x1="605.2" y1="446.8" x2="606.9" y2="446.1" stroke="#fff" stroke-width="0.9" stroke-linecap="round"/>
<line x1="605.8" y1="449.3" x2="607.5" y2="448.6" stroke="#fff" stroke-width="0.9" stroke-linecap="round"/>
<line x1="606.2" y1="451.9" x2="607.9" y2="451.2" stroke="#fff" stroke-width="0.9" stroke-linecap="round"/>
<line x1="606.2" y1="454.5" x2="607.9" y2="453.8" stroke="#fff" stroke-width="0.9" stroke-linecap="round"/>
<line x1="605.9" y1="457" x2="607.7" y2="456.3" stroke="#fff" stroke-width="0.9" stroke-linecap="round"/>
<line x1="605.4" y1="459.4" x2="607.1" y2="458.7" stroke="#fff" stroke-width="0.9" stroke-linecap="round"/>
<line x1="604.6" y1="461.7" x2="606.3" y2="461" stroke="#fff" stroke-width="0.9" stroke-linecap="round"/>
<line x1="603.5" y1="463.7" x2="605.2" y2="463" stroke="#fff" stroke-width="0.9" stroke-linecap="round"/>
<line x1="602.2" y1="465.5" x2="603.9" y2="464.8" stroke="#fff" stroke-width="0.9" stroke-linecap="round"/>
<ellipse cx="591.7" cy="452.8" rx="7.5" ry="9.5" transform="rotate(-25 591.7 452.8)" fill="#fff" stroke="#000" stroke-width="2.2"/>
<ellipse cx="592.7" cy="452.8" rx="3.8" ry="5" transform="rotate(-25 592.7 452.8)" fill="none" stroke="#000" stroke-width="1.8"/>
<circle cx="585.2" cy="460.3" r="1.3" fill="#000"/>
<circle cx="589.3" cy="463.3" r="1.3" fill="#000"/>
<circle cx="593.7" cy="464.8" r="1.3" fill="#000"/>
<circle cx="597.7" cy="463.8" r="1.3" fill="#000"/>
<ellipse cx="537.6" cy="460.3" rx="6.2" ry="4.3" transform="rotate(-12 537.6 460.3)" fill="none" stroke="#000" stroke-width="2.4"/>
<ellipse cx="537.6" cy="460.3" rx="3.2" ry="2" transform="rotate(-12 537.6 460.3)" fill="none" stroke="#000" stroke-width="1.1"/>
<path d="M527.6 498.2 L536.4 494.7 L550.6 492 L555 495.6 L554 503.5 L562.9 507.9 L571.7 511.4 L574 510.5 L579 512 L583 516 L584 520.3 L601.7 530.8 L608 532 L610.5 534.4 L614 541.4 L615.8 552 L624.6 555.5 L628.1 560.8 L627.2 567.9 L619.3 575 L610.5 585.5 L603.4 589 L596.4 587.3 L594.6 580.2 L580.5 580.2 L562.9 576.7 L545.3 567.9 L532.9 555.5 L524.1 537.9 L518.8 529 L517.9 518.5 L519.7 511.4 L524.1 507.9 Z" fill="#fff" stroke="#000" stroke-width="2.2" stroke-linejoin="round" stroke-linecap="round" />
<path d="M529 506 L529.5 505.7 L530.2 505.3 L531 504.8 L531.8 504.3 L532.8 503.7 L533.8 503.1 L534.8 502.5 L535.9 501.9 L536.9 501.4 L538 500.8 L539 500.4 L540 500 L541 499.7 L542.1 499.3 L543.2 499 L544.3 498.8 L545.4 498.5 L546.6 498.3 L547.7 498.1 L548.7 498 L549.7 497.9 L550.6 497.9 L551.3 497.9 L552 498 L552.5 498.2 L552.9 498.5 L553.2 499 L553.5 499.5 L553.6 500 L553.8 500.6 L553.8 501.2 L553.9 501.8 L553.9 502.3 L553.9 502.8 L553.9 503.2 L554 503.5" fill="none" stroke="#000" stroke-width="1.4" stroke-linejoin="round" stroke-linecap="round" />
<path d="M531,513 C540,511 548,508 553,504" fill="none" stroke="#000" stroke-width="1.4" stroke-linejoin="round" stroke-linecap="round" />
<ellipse cx="535.6" cy="504.4" rx="5.2" ry="4.5" transform="rotate(-25 535.6 504.4)" fill="none" stroke="#000" stroke-width="2"/>
<ellipse cx="535.6" cy="504.4" rx="2.8" ry="2.4" transform="rotate(-25 535.6 504.4)" fill="none" stroke="#000" stroke-width="1.8"/>
<ellipse cx="545.3" cy="498.2" rx="3.2" ry="2.6" transform="rotate(-25 545.3 498.2)" fill="none" stroke="#000" stroke-width="1.8"/>
<ellipse cx="525" cy="512.3" rx="4.2" ry="3.6" transform="rotate(-25 525 512.3)" fill="none" stroke="#000" stroke-width="2.1"/>
<ellipse cx="525" cy="512.3" rx="2.1" ry="1.8" transform="rotate(-25 525 512.3)" fill="#000" stroke="#000" stroke-width="1.3"/>
<ellipse cx="622.8" cy="560" rx="4.5" ry="3.8" transform="rotate(-25 622.8 560)" fill="none" stroke="#000" stroke-width="2.1"/>
<ellipse cx="622.8" cy="560" rx="2.3" ry="1.9" transform="rotate(-25 622.8 560)" fill="none" stroke="#000" stroke-width="1.5"/>
<ellipse cx="601.7" cy="572.3" rx="4.5" ry="3.8" transform="rotate(-25 601.7 572.3)" fill="none" stroke="#000" stroke-width="2.1"/>
<ellipse cx="601.7" cy="572.3" rx="2.3" ry="1.9" transform="rotate(-25 601.7 572.3)" fill="none" stroke="#000" stroke-width="1.5"/>
<path d="M597,566 L617,553 M607,580 L625,569" fill="none" stroke="#000" stroke-width="1.4" stroke-linejoin="round" stroke-linecap="round" />
<path d="M552.3 509.7 L552.5 510.3 L552.7 511 L552.9 511.9 L553.1 512.9 L553.4 513.9 L553.7 515.1 L554 516.2 L554.4 517.4 L554.8 518.6 L555.2 519.8 L555.6 520.9 L556 522 L556.5 523 L556.9 524.1 L557.4 525.2 L558 526.3 L558.5 527.5 L559.1 528.6 L559.7 529.6 L560.3 530.7 L560.9 531.7 L561.6 532.7 L562.2 533.6 L562.9 534.4 L563.6 535.2 L564.3 535.8 L565 536.5 L565.7 537.1 L566.4 537.6 L567.1 538.1 L567.9 538.6 L568.7 539.1 L569.5 539.5 L570.3 540 L571.1 540.5 L572 541 L572.9 541.5 L573.7 542 L574.5 542.4 L575.3 542.9 L576.2 543.3 L577 543.7 L578 544.2 L579 544.6 L580 545.1 L581.2 545.6 L582.5 546.1 L584 546.7 L585.7 547.4 L587.7 548.1 L589.9 548.9 L592.2 549.7 L594.6 550.6 L597.1 551.5 L599.5 552.3 L601.8 553.1 L604 553.8 L605.9 554.5 L607.5 555.1 L608.7 555.5" fill="none" stroke="#000" stroke-width="1.9" stroke-linejoin="round" stroke-linecap="round" />
<path d="M557 508 L557.4 508.3 L557.9 508.8 L558.5 509.3 L559.1 509.8 L559.9 510.4 L560.6 511.1 L561.4 511.7 L562.3 512.4 L563.2 513.1 L564.1 513.8 L565 514.4 L566 515 L567 515.6 L568 516.1 L569.1 516.7 L570.2 517.2 L571.4 517.7 L572.6 518.2 L573.8 518.8 L575 519.4 L576.2 520 L577.5 520.6 L578.7 521.3 L580 522 L581.3 522.8 L582.6 523.6 L583.9 524.6 L585.3 525.5 L586.6 526.5 L588 527.5 L589.4 528.5 L590.7 529.5 L592.1 530.4 L593.4 531.4 L594.7 532.2 L596 533 L597.3 533.7 L598.6 534.5 L600 535.2 L601.3 535.9 L602.7 536.6 L604 537.2 L605.3 537.8 L606.4 538.3 L607.5 538.8 L608.5 539.3 L609.3 539.7 L610 540" fill="none" stroke="#000" stroke-width="1.2" stroke-linejoin="round" stroke-linecap="round" />
<ellipse cx="569" cy="523.8" rx="2.9" ry="3.7" transform="rotate(-20 569 523.8)" fill="none" stroke="#000" stroke-width="1.8"/>
<ellipse cx="601.7" cy="545" rx="2.9" ry="3.7" transform="rotate(-20 601.7 545)" fill="none" stroke="#000" stroke-width="1.8"/>
<ellipse cx="540.9" cy="541.4" rx="6.2" ry="5.8" transform="rotate(-20 540.9 541.4)" fill="none" stroke="#000" stroke-width="2.1"/>
<ellipse cx="540.9" cy="541.4" rx="3.2" ry="3" transform="rotate(-20 540.9 541.4)" fill="none" stroke="#000" stroke-width="1.8"/>
<ellipse cx="571.7" cy="564.3" rx="6.2" ry="5.8" transform="rotate(-20 571.7 564.3)" fill="none" stroke="#000" stroke-width="2.1"/>
<ellipse cx="571.7" cy="564.3" rx="3.2" ry="3" transform="rotate(-20 571.7 564.3)" fill="none" stroke="#000" stroke-width="1.8"/>
<path d="M525.9,523.8 L545,532 L552,537 L566,554 L590,572" fill="none" stroke="#000" stroke-width="1.7" stroke-linejoin="round" stroke-linecap="round" />
<path d="M523,519 L537,524 M549,530 L564,548 M578,559 L594,566" fill="none" stroke="#000" stroke-width="1.2" stroke-linejoin="round" stroke-linecap="round" />
<path d="M542,548 L541,557 M545,548 L546,556 M572,571 L571,580 M575,571 L576,579" fill="none" stroke="#000" stroke-width="1.4" stroke-linejoin="round" stroke-linecap="round" />
<circle cx="546" cy="533.5" r="1.5" fill="#000"/>
<circle cx="577" cy="555" r="1.5" fill="#000"/>
<path d="M531,552 C540,563 552,571 566,576" fill="none" stroke="#000" stroke-width="1.1" stroke-linejoin="round" stroke-linecap="round" />
<path d="M591.8,508.85 L625.6,487.5" fill="none" stroke="#000" stroke-width="11" stroke-linejoin="round" stroke-linecap="round" />
<path d="M591.8,508.85 L625.6,487.5" fill="none" stroke="#fff" stroke-width="6.6" stroke-linejoin="round" stroke-linecap="round" />
<ellipse cx="591.8" cy="508.9" rx="3" ry="4.2" transform="rotate(-33 591.8 508.9)" fill="#fff" stroke="#000" stroke-width="1.9"/>
<path d="M620.4,531.5 L654.5,510" fill="none" stroke="#000" stroke-width="11" stroke-linejoin="round" stroke-linecap="round" />
<path d="M620.4,531.5 L654.5,510" fill="none" stroke="#fff" stroke-width="6.6" stroke-linejoin="round" stroke-linecap="round" />
<ellipse cx="620.4" cy="531.5" rx="3" ry="4.2" transform="rotate(-33 620.4 531.5)" fill="#fff" stroke="#000" stroke-width="1.9"/>
<circle cx="610" cy="493.2" r="1.5" fill="#000"/>
<circle cx="624.6" cy="489" r="1.5" fill="#000"/>
<circle cx="637.6" cy="516.1" r="1.5" fill="#000"/>
<circle cx="653.2" cy="512" r="1.5" fill="#000"/>
<path d="M458.5 366.5 L459.5 366.3 L460.7 366.1 L462.1 365.9 L463.6 365.6 L465.3 365.3 L467.2 365 L469.2 364.7 L471.3 364.4 L473.5 364.1 L475.9 363.8 L478.4 363.6 L481 363.4 L483.8 363.2 L486.8 363.1 L489.9 363 L493.3 362.8 L496.8 362.7 L500.3 362.6 L504 362.5 L507.6 362.5 L511.3 362.5 L514.9 362.6 L518.5 362.7 L522 362.8 L525.5 363 L529.2 363.3 L532.9 363.7 L536.7 364.2 L540.5 364.7 L544.2 365.2 L547.9 365.7 L551.4 366.2 L554.8 366.6 L557.9 367 L560.8 367.3 L563.4 367.5 L565.6 367.6 L567.6 367.6 L569.3 367.5 L570.7 367.3 L572 367.1 L573.2 366.8 L574.3 366.6 L575.3 366.4 L576.4 366.3 L577.5 366.3 L578.7 366.3 L580 366.5 L581.4 366.8 L582.8 367.2 L584.3 367.6 L585.7 368.1 L587.2 368.6 L588.6 369.3 L590.1 369.9 L591.5 370.6 L593 371.3 L594.4 372.1 L595.9 372.9 L597.3 373.8 L598.7 374.6 L600.2 375.6 L601.6 376.6 L603.1 377.6 L604.5 378.7 L605.9 379.8 L607.4 380.9 L608.8 382.1 L610.3 383.2 L611.7 384.4 L613.2 385.6 L614.6 386.7 L616 387.9 L617.4 389 L618.8 390.2 L620.2 391.5 L621.6 392.7 L622.9 393.9 L624.3 395.2 L625.8 396.4 L627.3 397.6 L628.8 398.8 L630.4 399.9 L632 401 L633.7 402.1 L635.5 403.2 L637.3 404.2 L639.1 405.3 L641 406.4 L643 407.4 L644.9 408.4 L646.9 409.3 L648.9 410.3 L650.9 411.1 L653 411.9 L655 412.7 L657.1 413.4 L659.2 414 L661.4 414.6 L663.6 415.1 L665.8 415.5 L668 416 L670.2 416.4 L672.4 416.8 L674.6 417.2 L676.8 417.6 L678.9 418 L681 418.5 L683 419 L685.1 419.4 L687.2 419.8 L689.2 420.2 L691.2 420.6 L693.2 421 L695.2 421.4 L697.1 421.9 L698.9 422.4 L700.7 422.9 L702.4 423.5 L704 424.2 L705.5 424.9 L706.9 425.7 L708.2 426.4 L709.5 427.2 L710.6 428 L711.8 428.9 L712.9 429.9 L714 430.9 L715.1 432 L716.2 433.1 L717.3 434.4 L718.5 435.8 L719.7 437.3 L720.9 438.9 L722.2 440.7 L723.4 442.5 L724.7 444.4 L725.9 446.4 L727.1 448.4 L728.3 450.5 L729.5 452.6 L730.7 454.7 L731.8 456.7 L732.9 458.8 L734 460.8 L735.1 462.9 L736.2 465 L737.3 467 L738.3 469.1 L739.4 471.3 L740.4 473.4 L741.3 475.6 L742.2 477.8 L743 480.1 L743.8 482.4 L744.4 484.8 L745 487.3 L745.4 489.9 L745.8 492.6 L746.2 495.4 L746.4 498.3 L746.7 501.1 L746.8 503.9 L747 506.7 L747.1 509.4 L747.2 511.9 L747.2 514.3 L747.3 516.5 L747.3 518.5 L747.4 520.4 L747.3 522.2 L747.3 523.8 L747.2 525.4 L747.1 526.9 L746.9 528.3 L746.8 529.7 L746.6 531 L746.4 532.3 L746.2 533.7 L745.9 535 L745.7 536.3 L745.4 537.5 L745.2 538.6 L745 539.6 L744.7 540.6 L744.4 541.6 L744.1 542.7 L743.6 543.7 L743.1 544.9 L742.5 546.1 L741.8 547.5 L741 549 L740.1 550.7 L739 552.5 L738 554.5 L736.8 556.6 L735.5 558.8 L734.2 560.9 L732.8 563.2 L731.2 565.4 L729.6 567.5 L727.9 569.6 L726.1 571.6 L724.2 573.5 L722.2 575.3 L720 577 L717.8 578.7 L715.4 580.4 L712.9 582 L710.4 583.6 L707.8 585.2 L705.1 586.7 L702.4 588.1 L699.6 589.6 L696.8 590.9 L694 592.3 L691.1 593.6 L688.2 594.9 L685.1 596.2 L682 597.4 L678.8 598.6 L675.6 599.7 L672.4 600.8 L669.1 601.9 L665.9 602.9 L662.7 603.8 L659.5 604.7 L656.3 605.5 L653.2 606.3 L650.1 607 L647.1 607.6 L644 608.2 L641 608.7 L637.9 609.2 L634.8 609.6 L631.7 610 L628.6 610.4 L625.3 610.7 L622 610.9 L618.6 611.2 L615.1 611.4 L611.5 611.6 L607.8 611.7 L604.1 611.8 L600.3 611.9 L596.4 611.9 L592.6 611.9 L588.7 611.8 L584.8 611.7 L580.9 611.6 L577.1 611.4 L573.3 611.2 L569.5 611 L565.6 610.7 L561.7 610.4 L557.8 610.1 L553.8 609.7 L549.9 609.3 L546 608.8 L542.2 608.3 L538.5 607.7 L534.8 607.1 L531.4 606.3 L528 605.5 L524.8 604.5 L521.6 603.4 L518.5 602.1 L515.5 600.8 L512.5 599.4 L509.7 597.9 L507 596.4 L504.3 595 L501.8 593.6 L499.3 592.3 L497 591.2 L494.8 590.2 L492.7 589.4 L490.8 588.6 L489.1 588 L487.5 587.5 L485.9 587 L484.5 586.6 L483.1 586.2 L481.8 585.7 L480.5 585.3 L479.2 584.9 L477.9 584.4 L476.6 583.8 L475.3 583.2 L474 582.6 L472.7 582 L471.5 581.4 L470.3 580.8 L469.1 580.2 L468 579.6 L466.9 578.9 L465.8 578.1 L464.8 577.3 L463.8 576.4 L462.9 575.5 L462 574.5 L461.2 573.5 L460.4 572.4 L459.6 571.3 L458.9 570.2 L458.2 569 L457.6 567.7 L457 566.4 L456.4 564.9 L455.8 563.4 L455.2 561.8 L454.6 560 L454 558.1 L453.5 556.2 L452.9 554.1 L452.4 552 L451.9 549.7 L451.5 547.4 L451 545 L450.6 542.5 L450.1 540 L449.7 537.4 L449.3 534.7 L448.9 532 L448.5 529.3 L448.1 526.5 L447.8 523.7 L447.5 520.9 L447.1 517.9 L446.8 514.9 L446.5 511.8 L446.2 508.6 L445.9 505.3 L445.6 501.8 L445.3 498.1 L445 494.3 L444.7 490.2 L444.3 485.6 L443.9 480.8 L443.6 475.8 L443.2 470.6 L442.8 465.4 L442.4 460.2 L442.1 455.1 L441.8 450.3 L441.6 445.7 L441.4 441.5 L441.3 437.7 L441.2 434.4 L441.3 431.3 L441.3 428.6 L441.4 426 L441.6 423.7 L441.7 421.6 L441.9 419.5 L442.1 417.6 L442.4 415.7 L442.6 413.8 L442.8 411.9 L443 410 L443.2 408 L443.4 406.1 L443.6 404.3 L443.8 402.5 L444.1 400.8 L444.3 399.1 L444.5 397.4 L444.8 395.9 L445.1 394.3 L445.4 392.8 L445.7 391.4 L446 390 L446.3 388.7 L446.7 387.4 L447 386.1 L447.3 384.9 L447.7 383.8 L448.1 382.7 L448.5 381.7 L448.9 380.7 L449.4 379.7 L449.9 378.8 L450.4 377.9 L451 377 L451.7 376.2 L452.4 375.3 L453.3 374.6 L454.2 373.8 L455.2 373.1 L456.1 372.4 L457 371.8 L457.9 371.2 L458.8 370.7 L459.5 370.3 L460.1 369.8 L460.6 369.5" fill="none" stroke="#d9727e" stroke-width="1.4" stroke-linejoin="round" stroke-linecap="round" />
<path d="M460.6 365.4 L461.6 365.7 L462.7 366.1 L464 366.6 L465.5 367.1 L467.1 367.7 L468.9 368.4 L470.7 369 L472.7 369.7 L474.7 370.4 L476.8 371.1 L478.9 371.9 L481 372.6 L483.2 373.4 L485.6 374.2 L488.1 375.1 L490.7 376 L493.4 376.9 L496.1 377.8 L498.9 378.7 L501.6 379.7 L504.3 380.6 L507 381.4 L509.5 382.2 L512 383 L514.5 383.7 L517 384.4 L519.6 385.2 L522.2 385.8 L524.8 386.5 L527.3 387.1 L529.7 387.8 L531.9 388.3 L534 388.8 L535.8 389.3 L537.4 389.7 L538.7 390" fill="none" stroke="#d9727e" stroke-width="1.3" stroke-linejoin="round" stroke-linecap="round" />
<path d="M470.3 366 L471 365.9 L471.9 365.7 L472.9 365.5 L474.1 365.3 L475.4 365.1 L476.7 364.8 L478.1 364.6 L479.5 364.3 L481 364.1 L482.4 363.9 L483.7 363.7 L485 363.5 L486.3 363.4 L487.7 363.2 L489.1 363.1 L490.5 363 L492 362.8 L493.4 362.7 L494.8 362.6 L496.1 362.6 L497.3 362.5 L498.4 362.4 L499.3 362.4 L500 362.3" fill="none" stroke="#d9727e" stroke-width="1.3" stroke-linejoin="round" stroke-linecap="round" />
<path d="M594.4 372.3 L594.8 372.7 L595.3 373.2 L595.9 373.8 L596.5 374.4 L597.3 375.2 L598 375.9 L598.7 376.6 L599.5 377.4 L600.1 378 L600.7 378.6 L601.2 379.1 L601.6 379.5" fill="none" stroke="#d9727e" stroke-width="1.3" stroke-linejoin="round" stroke-linecap="round" />
<path d="M456.5,364 C457.5,359.5 460,357 463,356 L464,359.5 C462,363 461,367 459.5,371 L457.5,371 Z" fill="#c83848" stroke="#c83848" stroke-width="0.9" stroke-linejoin="round" stroke-linecap="round" />
<path d="M455,366 L462,356 M456,370 L464,361" fill="none" stroke="#e06070" stroke-width="1.8" stroke-linejoin="round" stroke-linecap="round" />
<path d="M463.8 356 L464.2 356.1 L464.7 356.2 L465.3 356.3 L465.9 356.4 L466.6 356.5 L467.4 356.6 L468.2 356.8 L468.9 356.9 L469.7 357.1 L470.5 357.2 L471.3 357.4 L472 357.5 L472.7 357.7 L473.5 357.8 L474.3 358 L475.1 358.2 L475.9 358.4 L476.7 358.6 L477.5 358.8 L478.2 359 L478.9 359.1 L479.5 359.3 L480 359.4 L480.4 359.5" fill="none" stroke="#e07080" stroke-width="2.6" stroke-linejoin="round" stroke-linecap="round" />
</svg></body></html>
